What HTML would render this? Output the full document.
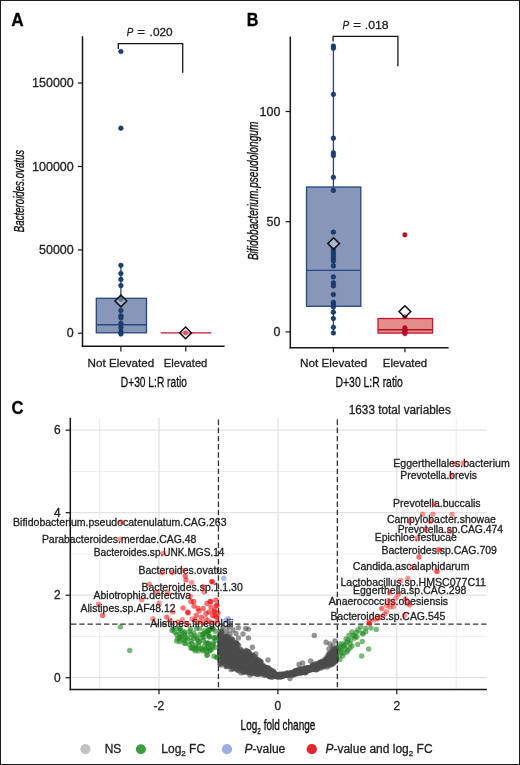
<!DOCTYPE html>
<html><head><meta charset="utf-8"><title>Figure</title>
<style>
html,body{margin:0;padding:0;background:#fff;}
svg{display:block;}
text{font-family:"Liberation Sans",sans-serif;}
svg{will-change:transform;}
</style></head><body>
<svg width="520" height="765" viewBox="0 0 520 765">
<rect x="0" y="0" width="520" height="765" fill="#fff"/>
<text x="11.20" y="26.30" font-size="18" font-weight="bold" font-style="normal" fill="#000" stroke="#000" stroke-width="0.3" textLength="12.44" lengthAdjust="spacingAndGlyphs" >A</text>
<text x="246.70" y="26.30" font-size="18" font-weight="bold" font-style="normal" fill="#000" stroke="#000" stroke-width="0.3" textLength="11.64" lengthAdjust="spacingAndGlyphs" >B</text>
<text x="11.50" y="413.60" font-size="18" font-weight="bold" font-style="normal" fill="#000" stroke="#000" stroke-width="0.3" textLength="12.04" lengthAdjust="spacingAndGlyphs" >C</text>
<line x1="82.50" y1="36.30" x2="82.50" y2="347.00" stroke="#161616" stroke-width="1.5" />
<line x1="81.80" y1="346.30" x2="224.60" y2="346.30" stroke="#161616" stroke-width="1.5" />
<line x1="77.90" y1="333.20" x2="82.50" y2="333.20" stroke="#161616" stroke-width="1.2" />
<text x="66.77" y="337.30" font-size="12" font-weight="normal" font-style="normal" fill="#222222" stroke="#222222" stroke-width="0.3" textLength="6.94" lengthAdjust="spacingAndGlyphs" >0</text>
<line x1="77.90" y1="249.90" x2="82.50" y2="249.90" stroke="#161616" stroke-width="1.2" />
<text x="39.01" y="254.00" font-size="12" font-weight="normal" font-style="normal" fill="#222222" stroke="#222222" stroke-width="0.3" textLength="34.71" lengthAdjust="spacingAndGlyphs" >50000</text>
<line x1="77.90" y1="166.50" x2="82.50" y2="166.50" stroke="#161616" stroke-width="1.2" />
<text x="32.08" y="170.60" font-size="12" font-weight="normal" font-style="normal" fill="#222222" stroke="#222222" stroke-width="0.3" textLength="41.65" lengthAdjust="spacingAndGlyphs" >100000</text>
<line x1="77.90" y1="83.10" x2="82.50" y2="83.10" stroke="#161616" stroke-width="1.2" />
<text x="32.08" y="87.20" font-size="12" font-weight="normal" font-style="normal" fill="#222222" stroke="#222222" stroke-width="0.3" textLength="41.65" lengthAdjust="spacingAndGlyphs" >150000</text>
<line x1="120.90" y1="346.30" x2="120.90" y2="351.60" stroke="#161616" stroke-width="1.2" />
<line x1="185.80" y1="346.30" x2="185.80" y2="351.60" stroke="#161616" stroke-width="1.2" />
<text x="87.60" y="367.00" font-size="11.7" font-weight="normal" font-style="normal" fill="#222222" stroke="#222222" stroke-width="0.3" textLength="66.71" lengthAdjust="spacingAndGlyphs" >Not Elevated</text>
<text x="163.80" y="367.00" font-size="11.7" font-weight="normal" font-style="normal" fill="#222222" stroke="#222222" stroke-width="0.3" textLength="43.52" lengthAdjust="spacingAndGlyphs" >Elevated</text>
<text x="120.80" y="387.40" font-size="14" font-weight="normal" font-style="normal" fill="#111" stroke="#111" stroke-width="0.3" textLength="66.21" lengthAdjust="spacingAndGlyphs" >D+30 L:R ratio</text>
<text transform="translate(24.30,232.20) rotate(-90)" x="0" y="0" font-size="14" font-style="italic" fill="#111" stroke="#111" stroke-width="0.35" textLength="82.40" lengthAdjust="spacingAndGlyphs">Bacteroides.ovatus</text>
<rect x="96.3" y="298.3" width="50.2" height="34.5" fill="#8796b9" stroke="#26477d" stroke-width="1.3"/>
<line x1="96.30" y1="324.80" x2="146.50" y2="324.80" stroke="#26477d" stroke-width="1.4" />
<line x1="120.90" y1="298.30" x2="120.90" y2="265.30" stroke="#26477d" stroke-width="1.3" />
<circle cx="120.9" cy="51.5" r="2.35" fill="#1c3f73" stroke="#0f2a52" stroke-width="0.5"/>
<circle cx="120.9" cy="128.2" r="2.35" fill="#1c3f73" stroke="#0f2a52" stroke-width="0.5"/>
<circle cx="120.9" cy="265.3" r="2.35" fill="#1c3f73" stroke="#0f2a52" stroke-width="0.5"/>
<circle cx="120.9" cy="273.5" r="2.35" fill="#1c3f73" stroke="#0f2a52" stroke-width="0.5"/>
<circle cx="120.9" cy="279.4" r="2.35" fill="#1c3f73" stroke="#0f2a52" stroke-width="0.5"/>
<circle cx="120.9" cy="285.6" r="2.35" fill="#1c3f73" stroke="#0f2a52" stroke-width="0.5"/>
<circle cx="120.9" cy="299.3" r="2.35" fill="#1c3f73" stroke="#0f2a52" stroke-width="0.5"/>
<circle cx="120.9" cy="310.5" r="2.35" fill="#1c3f73" stroke="#0f2a52" stroke-width="0.5"/>
<circle cx="120.9" cy="315.9" r="2.35" fill="#1c3f73" stroke="#0f2a52" stroke-width="0.5"/>
<circle cx="120.9" cy="318.0" r="2.35" fill="#1c3f73" stroke="#0f2a52" stroke-width="0.5"/>
<circle cx="120.9" cy="323.4" r="2.35" fill="#1c3f73" stroke="#0f2a52" stroke-width="0.5"/>
<circle cx="120.9" cy="327.7" r="2.35" fill="#1c3f73" stroke="#0f2a52" stroke-width="0.5"/>
<circle cx="120.9" cy="332.0" r="2.35" fill="#1c3f73" stroke="#0f2a52" stroke-width="0.5"/>
<circle cx="120.9" cy="334.0" r="2.35" fill="#1c3f73" stroke="#0f2a52" stroke-width="0.5"/>
<path d="M120.90,295.10 L126.80,301.00 L120.90,306.90 L115.00,301.00 Z" fill="rgba(255,255,255,0.3)" stroke="#111" stroke-width="1.5" stroke-linejoin="miter"/>
<line x1="160.60" y1="332.90" x2="211.40" y2="332.90" stroke="#c8173a" stroke-width="1.4" />
<circle cx="185.6" cy="332.9" r="2.35" fill="#c40f2c" stroke="#8a0a1e" stroke-width="0.4"/>
<path d="M185.60,327.00 L191.50,332.90 L185.60,338.80 L179.70,332.90 Z" fill="rgba(255,255,255,0.3)" stroke="#111" stroke-width="1.5" stroke-linejoin="miter"/>
<path d="M118.3,49.0 L118.3,43.6 L182.7,43.6 L182.7,72.8" fill="none" stroke="#161616" stroke-width="1.3"/>
<text x="126.80" y="35.90" font-size="11.5" font-weight="normal" font-style="italic" fill="#222222" stroke="#222222" stroke-width="0.3" textLength="6.52" lengthAdjust="spacingAndGlyphs" >P</text>
<text x="137.30" y="35.90" font-size="11.5" font-weight="normal" font-style="normal" fill="#222222" stroke="#222222" stroke-width="0.3" textLength="7.69" lengthAdjust="spacingAndGlyphs" >=</text>
<text x="149.60" y="35.90" font-size="11.5" font-weight="normal" font-style="normal" fill="#222222" stroke="#222222" stroke-width="0.3" textLength="23.02" lengthAdjust="spacingAndGlyphs" >.020</text>
<line x1="290.30" y1="36.40" x2="290.30" y2="348.40" stroke="#161616" stroke-width="1.5" />
<line x1="289.60" y1="347.70" x2="448.60" y2="347.70" stroke="#161616" stroke-width="1.5" />
<line x1="285.60" y1="331.90" x2="290.30" y2="331.90" stroke="#161616" stroke-width="1.2" />
<text x="273.47" y="336.00" font-size="12" font-weight="normal" font-style="normal" fill="#222222" stroke="#222222" stroke-width="0.3" textLength="6.94" lengthAdjust="spacingAndGlyphs" >0</text>
<line x1="285.60" y1="221.70" x2="290.30" y2="221.70" stroke="#161616" stroke-width="1.2" />
<text x="266.55" y="225.80" font-size="12" font-weight="normal" font-style="normal" fill="#222222" stroke="#222222" stroke-width="0.3" textLength="13.88" lengthAdjust="spacingAndGlyphs" >50</text>
<line x1="285.60" y1="111.50" x2="290.30" y2="111.50" stroke="#161616" stroke-width="1.2" />
<text x="259.56" y="115.60" font-size="12" font-weight="normal" font-style="normal" fill="#222222" stroke="#222222" stroke-width="0.3" textLength="20.82" lengthAdjust="spacingAndGlyphs" >100</text>
<line x1="333.40" y1="347.70" x2="333.40" y2="352.30" stroke="#161616" stroke-width="1.2" />
<line x1="404.90" y1="347.70" x2="404.90" y2="352.30" stroke="#161616" stroke-width="1.2" />
<text x="300.00" y="367.00" font-size="11.7" font-weight="normal" font-style="normal" fill="#222222" stroke="#222222" stroke-width="0.3" textLength="67.21" lengthAdjust="spacingAndGlyphs" >Not Elevated</text>
<text x="382.80" y="367.00" font-size="11.7" font-weight="normal" font-style="normal" fill="#222222" stroke="#222222" stroke-width="0.3" textLength="44.32" lengthAdjust="spacingAndGlyphs" >Elevated</text>
<text x="335.50" y="387.40" font-size="14" font-weight="normal" font-style="normal" fill="#111" stroke="#111" stroke-width="0.3" textLength="67.41" lengthAdjust="spacingAndGlyphs" >D+30 L:R ratio</text>
<text transform="translate(258.30,260.10) rotate(-90)" x="0" y="0" font-size="14" font-style="italic" fill="#111" stroke="#111" stroke-width="0.35" textLength="138.41" lengthAdjust="spacingAndGlyphs">Bifidobacterium.pseudolongum</text>
<rect x="306.5" y="187.0" width="54.3" height="119.3" fill="#8796b9" stroke="#26477d" stroke-width="1.3"/>
<line x1="306.50" y1="270.40" x2="360.80" y2="270.40" stroke="#26477d" stroke-width="1.4" />
<line x1="333.40" y1="187.00" x2="333.40" y2="46.00" stroke="#26477d" stroke-width="1.3" />
<line x1="333.40" y1="306.30" x2="333.40" y2="333.00" stroke="#26477d" stroke-width="1.3" />
<circle cx="333.4" cy="46.0" r="2.35" fill="#1c3f73" stroke="#0f2a52" stroke-width="0.5"/>
<circle cx="333.4" cy="48.2" r="2.35" fill="#1c3f73" stroke="#0f2a52" stroke-width="0.5"/>
<circle cx="333.4" cy="94.4" r="2.35" fill="#1c3f73" stroke="#0f2a52" stroke-width="0.5"/>
<circle cx="333.4" cy="138.2" r="2.35" fill="#1c3f73" stroke="#0f2a52" stroke-width="0.5"/>
<circle cx="333.4" cy="152.9" r="2.35" fill="#1c3f73" stroke="#0f2a52" stroke-width="0.5"/>
<circle cx="333.4" cy="155.6" r="2.35" fill="#1c3f73" stroke="#0f2a52" stroke-width="0.5"/>
<circle cx="333.4" cy="177.3" r="2.35" fill="#1c3f73" stroke="#0f2a52" stroke-width="0.5"/>
<circle cx="333.4" cy="190.4" r="2.35" fill="#1c3f73" stroke="#0f2a52" stroke-width="0.5"/>
<circle cx="333.4" cy="232.2" r="2.35" fill="#1c3f73" stroke="#0f2a52" stroke-width="0.5"/>
<circle cx="333.4" cy="249.8" r="2.35" fill="#1c3f73" stroke="#0f2a52" stroke-width="0.5"/>
<circle cx="333.4" cy="252.8" r="2.35" fill="#1c3f73" stroke="#0f2a52" stroke-width="0.5"/>
<circle cx="333.4" cy="255.8" r="2.35" fill="#1c3f73" stroke="#0f2a52" stroke-width="0.5"/>
<circle cx="333.4" cy="258.8" r="2.35" fill="#1c3f73" stroke="#0f2a52" stroke-width="0.5"/>
<circle cx="333.4" cy="261.1" r="2.35" fill="#1c3f73" stroke="#0f2a52" stroke-width="0.5"/>
<circle cx="333.4" cy="265.9" r="2.35" fill="#1c3f73" stroke="#0f2a52" stroke-width="0.5"/>
<circle cx="333.4" cy="276.9" r="2.35" fill="#1c3f73" stroke="#0f2a52" stroke-width="0.5"/>
<circle cx="333.4" cy="282.9" r="2.35" fill="#1c3f73" stroke="#0f2a52" stroke-width="0.5"/>
<circle cx="333.4" cy="285.9" r="2.35" fill="#1c3f73" stroke="#0f2a52" stroke-width="0.5"/>
<circle cx="333.4" cy="294.5" r="2.35" fill="#1c3f73" stroke="#0f2a52" stroke-width="0.5"/>
<circle cx="333.4" cy="302.4" r="2.35" fill="#1c3f73" stroke="#0f2a52" stroke-width="0.5"/>
<circle cx="333.4" cy="304.7" r="2.35" fill="#1c3f73" stroke="#0f2a52" stroke-width="0.5"/>
<circle cx="333.4" cy="307.0" r="2.35" fill="#1c3f73" stroke="#0f2a52" stroke-width="0.5"/>
<circle cx="333.4" cy="312.2" r="2.35" fill="#1c3f73" stroke="#0f2a52" stroke-width="0.5"/>
<circle cx="333.4" cy="318.5" r="2.35" fill="#1c3f73" stroke="#0f2a52" stroke-width="0.5"/>
<circle cx="333.4" cy="327.3" r="2.35" fill="#1c3f73" stroke="#0f2a52" stroke-width="0.5"/>
<circle cx="333.4" cy="333.0" r="2.35" fill="#1c3f73" stroke="#0f2a52" stroke-width="0.5"/>
<path d="M333.60,237.80 L339.40,243.60 L333.60,249.40 L327.80,243.60 Z" fill="rgba(255,255,255,0.3)" stroke="#111" stroke-width="1.5" stroke-linejoin="miter"/>
<rect x="378.0" y="318.5" width="54.6" height="14.6" fill="#e38c88" stroke="#c8173a" stroke-width="1.3"/>
<line x1="378.00" y1="329.70" x2="432.60" y2="329.70" stroke="#b3122b" stroke-width="1.4" />
<line x1="404.90" y1="318.50" x2="404.90" y2="316.50" stroke="#c8173a" stroke-width="1.2" />
<circle cx="404.9" cy="234.8" r="2.35" fill="#c40f2c" stroke="#8a0a1e" stroke-width="0.4"/>
<circle cx="404.9" cy="316.8" r="2.35" fill="#c40f2c" stroke="#8a0a1e" stroke-width="0.4"/>
<circle cx="404.9" cy="327.9" r="2.35" fill="#c40f2c" stroke="#8a0a1e" stroke-width="0.4"/>
<circle cx="404.9" cy="329.5" r="2.35" fill="#c40f2c" stroke="#8a0a1e" stroke-width="0.4"/>
<circle cx="404.9" cy="331.0" r="2.35" fill="#c40f2c" stroke="#8a0a1e" stroke-width="0.4"/>
<circle cx="404.9" cy="332.6" r="2.35" fill="#c40f2c" stroke="#8a0a1e" stroke-width="0.4"/>
<circle cx="404.9" cy="333.6" r="2.35" fill="#c40f2c" stroke="#8a0a1e" stroke-width="0.4"/>
<path d="M404.90,305.70 L410.80,311.60 L404.90,317.50 L399.00,311.60 Z" fill="rgba(255,255,255,0.3)" stroke="#111" stroke-width="1.5" stroke-linejoin="miter"/>
<path d="M333.1,41.6 L333.1,36.3 L397.9,36.3 L397.9,66.2" fill="none" stroke="#161616" stroke-width="1.3"/>
<text x="342.50" y="29.30" font-size="11.5" font-weight="normal" font-style="italic" fill="#222222" stroke="#222222" stroke-width="0.3" textLength="6.62" lengthAdjust="spacingAndGlyphs" >P</text>
<text x="353.30" y="29.30" font-size="11.5" font-weight="normal" font-style="normal" fill="#222222" stroke="#222222" stroke-width="0.3" textLength="7.69" lengthAdjust="spacingAndGlyphs" >=</text>
<text x="364.80" y="29.30" font-size="11.5" font-weight="normal" font-style="normal" fill="#222222" stroke="#222222" stroke-width="0.3" textLength="23.82" lengthAdjust="spacingAndGlyphs" >.018</text>
<line x1="99.55" y1="417.70" x2="99.55" y2="689.60" stroke="#ececec" stroke-width="0.9" />
<line x1="218.45" y1="417.70" x2="218.45" y2="689.60" stroke="#ececec" stroke-width="0.9" />
<line x1="337.35" y1="417.70" x2="337.35" y2="689.60" stroke="#ececec" stroke-width="0.9" />
<line x1="456.25" y1="417.70" x2="456.25" y2="689.60" stroke="#ececec" stroke-width="0.9" />
<line x1="70.30" y1="636.45" x2="486.90" y2="636.45" stroke="#ececec" stroke-width="0.9" />
<line x1="70.30" y1="553.95" x2="486.90" y2="553.95" stroke="#ececec" stroke-width="0.9" />
<line x1="70.30" y1="471.45" x2="486.90" y2="471.45" stroke="#ececec" stroke-width="0.9" />
<line x1="159.00" y1="417.70" x2="159.00" y2="689.60" stroke="#e2e2e2" stroke-width="1.3" />
<line x1="277.90" y1="417.70" x2="277.90" y2="689.60" stroke="#e2e2e2" stroke-width="1.3" />
<line x1="396.80" y1="417.70" x2="396.80" y2="689.60" stroke="#e2e2e2" stroke-width="1.3" />
<line x1="70.30" y1="677.70" x2="486.90" y2="677.70" stroke="#e2e2e2" stroke-width="1.3" />
<line x1="70.30" y1="595.20" x2="486.90" y2="595.20" stroke="#e2e2e2" stroke-width="1.3" />
<line x1="70.30" y1="512.70" x2="486.90" y2="512.70" stroke="#e2e2e2" stroke-width="1.3" />
<line x1="70.30" y1="430.20" x2="486.90" y2="430.20" stroke="#e2e2e2" stroke-width="1.3" />
<circle cx="257.6" cy="665.7" r="2.7" fill="#4d4d4d" fill-opacity="0.6"/>
<circle cx="226.4" cy="648.5" r="2.7" fill="#4d4d4d" fill-opacity="0.6"/>
<circle cx="224.0" cy="652.8" r="2.7" fill="#4d4d4d" fill-opacity="0.6"/>
<circle cx="234.1" cy="656.3" r="2.7" fill="#4d4d4d" fill-opacity="0.6"/>
<circle cx="334.2" cy="657.3" r="2.7" fill="#4d4d4d" fill-opacity="0.6"/>
<circle cx="236.5" cy="652.2" r="2.7" fill="#4d4d4d" fill-opacity="0.6"/>
<circle cx="240.8" cy="655.7" r="2.7" fill="#4d4d4d" fill-opacity="0.6"/>
<circle cx="283.9" cy="674.5" r="2.7" fill="#4d4d4d" fill-opacity="0.6"/>
<circle cx="226.6" cy="647.6" r="2.7" fill="#4d4d4d" fill-opacity="0.6"/>
<circle cx="248.3" cy="657.2" r="2.7" fill="#4d4d4d" fill-opacity="0.6"/>
<circle cx="334.7" cy="649.9" r="2.7" fill="#4d4d4d" fill-opacity="0.6"/>
<circle cx="237.4" cy="662.3" r="2.7" fill="#4d4d4d" fill-opacity="0.6"/>
<circle cx="224.2" cy="650.7" r="2.7" fill="#4d4d4d" fill-opacity="0.6"/>
<circle cx="226.7" cy="641.1" r="2.7" fill="#4d4d4d" fill-opacity="0.6"/>
<circle cx="222.2" cy="650.7" r="2.7" fill="#4d4d4d" fill-opacity="0.6"/>
<circle cx="226.5" cy="654.4" r="2.7" fill="#4d4d4d" fill-opacity="0.6"/>
<circle cx="234.8" cy="644.8" r="2.7" fill="#4d4d4d" fill-opacity="0.6"/>
<circle cx="229.1" cy="662.1" r="2.7" fill="#4d4d4d" fill-opacity="0.6"/>
<circle cx="252.3" cy="658.1" r="2.7" fill="#4d4d4d" fill-opacity="0.6"/>
<circle cx="332.0" cy="663.1" r="2.7" fill="#4d4d4d" fill-opacity="0.6"/>
<circle cx="240.3" cy="659.8" r="2.7" fill="#4d4d4d" fill-opacity="0.6"/>
<circle cx="220.1" cy="656.7" r="2.7" fill="#4d4d4d" fill-opacity="0.6"/>
<circle cx="299.0" cy="673.1" r="2.7" fill="#4d4d4d" fill-opacity="0.6"/>
<circle cx="231.8" cy="646.4" r="2.7" fill="#4d4d4d" fill-opacity="0.6"/>
<circle cx="226.9" cy="652.4" r="2.7" fill="#4d4d4d" fill-opacity="0.6"/>
<circle cx="259.5" cy="669.5" r="2.7" fill="#4d4d4d" fill-opacity="0.6"/>
<circle cx="219.6" cy="653.1" r="2.7" fill="#4d4d4d" fill-opacity="0.6"/>
<circle cx="222.6" cy="653.6" r="2.7" fill="#4d4d4d" fill-opacity="0.6"/>
<circle cx="291.7" cy="673.6" r="2.7" fill="#4d4d4d" fill-opacity="0.6"/>
<circle cx="262.4" cy="671.9" r="2.7" fill="#4d4d4d" fill-opacity="0.6"/>
<circle cx="229.7" cy="649.6" r="2.7" fill="#4d4d4d" fill-opacity="0.6"/>
<circle cx="316.9" cy="667.3" r="2.7" fill="#4d4d4d" fill-opacity="0.6"/>
<circle cx="281.6" cy="675.3" r="2.7" fill="#4d4d4d" fill-opacity="0.6"/>
<circle cx="250.3" cy="662.8" r="2.7" fill="#4d4d4d" fill-opacity="0.6"/>
<circle cx="258.3" cy="670.7" r="2.7" fill="#4d4d4d" fill-opacity="0.6"/>
<circle cx="246.2" cy="650.5" r="2.7" fill="#4d4d4d" fill-opacity="0.6"/>
<circle cx="261.3" cy="671.1" r="2.7" fill="#4d4d4d" fill-opacity="0.6"/>
<circle cx="331.9" cy="657.6" r="2.7" fill="#4d4d4d" fill-opacity="0.6"/>
<circle cx="331.7" cy="657.7" r="2.7" fill="#4d4d4d" fill-opacity="0.6"/>
<circle cx="242.7" cy="664.1" r="2.7" fill="#4d4d4d" fill-opacity="0.6"/>
<circle cx="229.6" cy="663.7" r="2.7" fill="#4d4d4d" fill-opacity="0.6"/>
<circle cx="333.7" cy="652.4" r="2.7" fill="#4d4d4d" fill-opacity="0.6"/>
<circle cx="304.7" cy="670.6" r="2.7" fill="#4d4d4d" fill-opacity="0.6"/>
<circle cx="235.0" cy="658.2" r="2.7" fill="#4d4d4d" fill-opacity="0.6"/>
<circle cx="316.6" cy="666.3" r="2.7" fill="#4d4d4d" fill-opacity="0.6"/>
<circle cx="247.8" cy="666.4" r="2.7" fill="#4d4d4d" fill-opacity="0.6"/>
<circle cx="250.0" cy="670.5" r="2.7" fill="#4d4d4d" fill-opacity="0.6"/>
<circle cx="281.1" cy="676.8" r="2.7" fill="#4d4d4d" fill-opacity="0.6"/>
<circle cx="271.3" cy="676.5" r="2.7" fill="#4d4d4d" fill-opacity="0.6"/>
<circle cx="239.8" cy="659.1" r="2.7" fill="#4d4d4d" fill-opacity="0.6"/>
<circle cx="232.1" cy="654.1" r="2.7" fill="#4d4d4d" fill-opacity="0.6"/>
<circle cx="330.2" cy="661.1" r="2.7" fill="#4d4d4d" fill-opacity="0.6"/>
<circle cx="318.2" cy="667.0" r="2.7" fill="#4d4d4d" fill-opacity="0.6"/>
<circle cx="228.1" cy="657.6" r="2.7" fill="#4d4d4d" fill-opacity="0.6"/>
<circle cx="228.2" cy="655.4" r="2.7" fill="#4d4d4d" fill-opacity="0.6"/>
<circle cx="297.1" cy="670.0" r="2.7" fill="#4d4d4d" fill-opacity="0.6"/>
<circle cx="238.6" cy="652.3" r="2.7" fill="#4d4d4d" fill-opacity="0.6"/>
<circle cx="242.6" cy="659.5" r="2.7" fill="#4d4d4d" fill-opacity="0.6"/>
<circle cx="304.4" cy="668.8" r="2.7" fill="#4d4d4d" fill-opacity="0.6"/>
<circle cx="221.7" cy="645.2" r="2.7" fill="#4d4d4d" fill-opacity="0.6"/>
<circle cx="231.9" cy="666.1" r="2.7" fill="#4d4d4d" fill-opacity="0.6"/>
<circle cx="251.4" cy="665.7" r="2.7" fill="#4d4d4d" fill-opacity="0.6"/>
<circle cx="315.7" cy="668.8" r="2.7" fill="#4d4d4d" fill-opacity="0.6"/>
<circle cx="230.1" cy="666.5" r="2.7" fill="#4d4d4d" fill-opacity="0.6"/>
<circle cx="251.0" cy="660.0" r="2.7" fill="#4d4d4d" fill-opacity="0.6"/>
<circle cx="232.4" cy="653.3" r="2.7" fill="#4d4d4d" fill-opacity="0.6"/>
<circle cx="225.5" cy="647.9" r="2.7" fill="#4d4d4d" fill-opacity="0.6"/>
<circle cx="278.3" cy="676.4" r="2.7" fill="#4d4d4d" fill-opacity="0.6"/>
<circle cx="260.3" cy="668.0" r="2.7" fill="#4d4d4d" fill-opacity="0.6"/>
<circle cx="241.8" cy="660.8" r="2.7" fill="#4d4d4d" fill-opacity="0.6"/>
<circle cx="329.3" cy="660.6" r="2.7" fill="#4d4d4d" fill-opacity="0.6"/>
<circle cx="226.0" cy="643.2" r="2.7" fill="#4d4d4d" fill-opacity="0.6"/>
<circle cx="227.9" cy="651.6" r="2.7" fill="#4d4d4d" fill-opacity="0.6"/>
<circle cx="252.7" cy="667.1" r="2.7" fill="#4d4d4d" fill-opacity="0.6"/>
<circle cx="254.0" cy="667.6" r="2.7" fill="#4d4d4d" fill-opacity="0.6"/>
<circle cx="255.9" cy="669.5" r="2.7" fill="#4d4d4d" fill-opacity="0.6"/>
<circle cx="219.7" cy="636.8" r="2.7" fill="#4d4d4d" fill-opacity="0.6"/>
<circle cx="243.2" cy="661.3" r="2.7" fill="#4d4d4d" fill-opacity="0.6"/>
<circle cx="220.2" cy="654.3" r="2.7" fill="#4d4d4d" fill-opacity="0.6"/>
<circle cx="224.5" cy="654.2" r="2.7" fill="#4d4d4d" fill-opacity="0.6"/>
<circle cx="255.3" cy="661.3" r="2.7" fill="#4d4d4d" fill-opacity="0.6"/>
<circle cx="265.3" cy="669.0" r="2.7" fill="#4d4d4d" fill-opacity="0.6"/>
<circle cx="335.2" cy="653.9" r="2.7" fill="#4d4d4d" fill-opacity="0.6"/>
<circle cx="224.7" cy="638.7" r="2.7" fill="#4d4d4d" fill-opacity="0.6"/>
<circle cx="236.0" cy="643.5" r="2.7" fill="#4d4d4d" fill-opacity="0.6"/>
<circle cx="246.6" cy="661.3" r="2.7" fill="#4d4d4d" fill-opacity="0.6"/>
<circle cx="235.2" cy="665.6" r="2.7" fill="#4d4d4d" fill-opacity="0.6"/>
<circle cx="277.0" cy="676.8" r="2.7" fill="#4d4d4d" fill-opacity="0.6"/>
<circle cx="297.0" cy="672.0" r="2.7" fill="#4d4d4d" fill-opacity="0.6"/>
<circle cx="228.3" cy="646.3" r="2.7" fill="#4d4d4d" fill-opacity="0.6"/>
<circle cx="305.2" cy="669.7" r="2.7" fill="#4d4d4d" fill-opacity="0.6"/>
<circle cx="295.1" cy="670.7" r="2.7" fill="#4d4d4d" fill-opacity="0.6"/>
<circle cx="236.9" cy="656.4" r="2.7" fill="#4d4d4d" fill-opacity="0.6"/>
<circle cx="286.3" cy="674.0" r="2.7" fill="#4d4d4d" fill-opacity="0.6"/>
<circle cx="226.7" cy="645.6" r="2.7" fill="#4d4d4d" fill-opacity="0.6"/>
<circle cx="274.3" cy="672.7" r="2.7" fill="#4d4d4d" fill-opacity="0.6"/>
<circle cx="324.5" cy="666.7" r="2.7" fill="#4d4d4d" fill-opacity="0.6"/>
<circle cx="221.7" cy="645.5" r="2.7" fill="#4d4d4d" fill-opacity="0.6"/>
<circle cx="272.4" cy="674.7" r="2.7" fill="#4d4d4d" fill-opacity="0.6"/>
<circle cx="244.3" cy="672.0" r="2.7" fill="#4d4d4d" fill-opacity="0.6"/>
<circle cx="236.2" cy="659.5" r="2.7" fill="#4d4d4d" fill-opacity="0.6"/>
<circle cx="276.7" cy="675.5" r="2.7" fill="#4d4d4d" fill-opacity="0.6"/>
<circle cx="220.0" cy="640.1" r="2.7" fill="#4d4d4d" fill-opacity="0.6"/>
<circle cx="236.1" cy="657.8" r="2.7" fill="#4d4d4d" fill-opacity="0.6"/>
<circle cx="219.8" cy="649.0" r="2.7" fill="#4d4d4d" fill-opacity="0.6"/>
<circle cx="325.4" cy="661.3" r="2.7" fill="#4d4d4d" fill-opacity="0.6"/>
<circle cx="251.9" cy="671.1" r="2.7" fill="#4d4d4d" fill-opacity="0.6"/>
<circle cx="248.9" cy="668.3" r="2.7" fill="#4d4d4d" fill-opacity="0.6"/>
<circle cx="279.6" cy="674.2" r="2.7" fill="#4d4d4d" fill-opacity="0.6"/>
<circle cx="304.1" cy="672.6" r="2.7" fill="#4d4d4d" fill-opacity="0.6"/>
<circle cx="253.2" cy="666.7" r="2.7" fill="#4d4d4d" fill-opacity="0.6"/>
<circle cx="334.2" cy="654.6" r="2.7" fill="#4d4d4d" fill-opacity="0.6"/>
<circle cx="239.2" cy="661.9" r="2.7" fill="#4d4d4d" fill-opacity="0.6"/>
<circle cx="272.4" cy="677.1" r="2.7" fill="#4d4d4d" fill-opacity="0.6"/>
<circle cx="242.2" cy="658.5" r="2.7" fill="#4d4d4d" fill-opacity="0.6"/>
<circle cx="247.7" cy="663.9" r="2.7" fill="#4d4d4d" fill-opacity="0.6"/>
<circle cx="263.8" cy="672.0" r="2.7" fill="#4d4d4d" fill-opacity="0.6"/>
<circle cx="333.2" cy="657.3" r="2.7" fill="#4d4d4d" fill-opacity="0.6"/>
<circle cx="320.9" cy="664.4" r="2.7" fill="#4d4d4d" fill-opacity="0.6"/>
<circle cx="322.1" cy="665.4" r="2.7" fill="#4d4d4d" fill-opacity="0.6"/>
<circle cx="223.4" cy="656.7" r="2.7" fill="#4d4d4d" fill-opacity="0.6"/>
<circle cx="288.5" cy="673.7" r="2.7" fill="#4d4d4d" fill-opacity="0.6"/>
<circle cx="333.7" cy="657.4" r="2.7" fill="#4d4d4d" fill-opacity="0.6"/>
<circle cx="224.2" cy="652.7" r="2.7" fill="#4d4d4d" fill-opacity="0.6"/>
<circle cx="234.6" cy="648.4" r="2.7" fill="#4d4d4d" fill-opacity="0.6"/>
<circle cx="232.8" cy="646.1" r="2.7" fill="#4d4d4d" fill-opacity="0.6"/>
<circle cx="265.2" cy="670.3" r="2.7" fill="#4d4d4d" fill-opacity="0.6"/>
<circle cx="255.0" cy="665.1" r="2.7" fill="#4d4d4d" fill-opacity="0.6"/>
<circle cx="247.2" cy="669.8" r="2.7" fill="#4d4d4d" fill-opacity="0.6"/>
<circle cx="255.7" cy="664.2" r="2.7" fill="#4d4d4d" fill-opacity="0.6"/>
<circle cx="268.9" cy="670.1" r="2.7" fill="#4d4d4d" fill-opacity="0.6"/>
<circle cx="246.2" cy="650.9" r="2.7" fill="#4d4d4d" fill-opacity="0.6"/>
<circle cx="259.3" cy="666.5" r="2.7" fill="#4d4d4d" fill-opacity="0.6"/>
<circle cx="333.5" cy="653.7" r="2.7" fill="#4d4d4d" fill-opacity="0.6"/>
<circle cx="315.9" cy="667.1" r="2.7" fill="#4d4d4d" fill-opacity="0.6"/>
<circle cx="277.8" cy="677.2" r="2.7" fill="#4d4d4d" fill-opacity="0.6"/>
<circle cx="245.8" cy="654.6" r="2.7" fill="#4d4d4d" fill-opacity="0.6"/>
<circle cx="236.8" cy="643.5" r="2.7" fill="#4d4d4d" fill-opacity="0.6"/>
<circle cx="236.3" cy="662.2" r="2.7" fill="#4d4d4d" fill-opacity="0.6"/>
<circle cx="329.0" cy="660.7" r="2.7" fill="#4d4d4d" fill-opacity="0.6"/>
<circle cx="307.2" cy="668.7" r="2.7" fill="#4d4d4d" fill-opacity="0.6"/>
<circle cx="263.5" cy="667.3" r="2.7" fill="#4d4d4d" fill-opacity="0.6"/>
<circle cx="239.5" cy="657.6" r="2.7" fill="#4d4d4d" fill-opacity="0.6"/>
<circle cx="331.8" cy="660.6" r="2.7" fill="#4d4d4d" fill-opacity="0.6"/>
<circle cx="332.8" cy="652.1" r="2.7" fill="#4d4d4d" fill-opacity="0.6"/>
<circle cx="225.4" cy="661.9" r="2.7" fill="#4d4d4d" fill-opacity="0.6"/>
<circle cx="242.3" cy="661.0" r="2.7" fill="#4d4d4d" fill-opacity="0.6"/>
<circle cx="309.6" cy="668.5" r="2.7" fill="#4d4d4d" fill-opacity="0.6"/>
<circle cx="223.7" cy="655.0" r="2.7" fill="#4d4d4d" fill-opacity="0.6"/>
<circle cx="259.4" cy="666.2" r="2.7" fill="#4d4d4d" fill-opacity="0.6"/>
<circle cx="256.8" cy="672.6" r="2.7" fill="#4d4d4d" fill-opacity="0.6"/>
<circle cx="330.3" cy="658.6" r="2.7" fill="#4d4d4d" fill-opacity="0.6"/>
<circle cx="247.1" cy="672.6" r="2.7" fill="#4d4d4d" fill-opacity="0.6"/>
<circle cx="265.0" cy="668.7" r="2.7" fill="#4d4d4d" fill-opacity="0.6"/>
<circle cx="328.6" cy="661.4" r="2.7" fill="#4d4d4d" fill-opacity="0.6"/>
<circle cx="257.1" cy="660.5" r="2.7" fill="#4d4d4d" fill-opacity="0.6"/>
<circle cx="311.4" cy="669.0" r="2.7" fill="#4d4d4d" fill-opacity="0.6"/>
<circle cx="248.6" cy="670.6" r="2.7" fill="#4d4d4d" fill-opacity="0.6"/>
<circle cx="223.6" cy="638.9" r="2.7" fill="#4d4d4d" fill-opacity="0.6"/>
<circle cx="250.7" cy="673.3" r="2.7" fill="#4d4d4d" fill-opacity="0.6"/>
<circle cx="230.9" cy="651.4" r="2.7" fill="#4d4d4d" fill-opacity="0.6"/>
<circle cx="247.1" cy="656.2" r="2.7" fill="#4d4d4d" fill-opacity="0.6"/>
<circle cx="297.6" cy="672.4" r="2.7" fill="#4d4d4d" fill-opacity="0.6"/>
<circle cx="306.2" cy="668.7" r="2.7" fill="#4d4d4d" fill-opacity="0.6"/>
<circle cx="248.6" cy="668.5" r="2.7" fill="#4d4d4d" fill-opacity="0.6"/>
<circle cx="335.9" cy="660.2" r="2.7" fill="#4d4d4d" fill-opacity="0.6"/>
<circle cx="224.3" cy="653.6" r="2.7" fill="#4d4d4d" fill-opacity="0.6"/>
<circle cx="330.6" cy="659.7" r="2.7" fill="#4d4d4d" fill-opacity="0.6"/>
<circle cx="245.2" cy="663.4" r="2.7" fill="#4d4d4d" fill-opacity="0.6"/>
<circle cx="296.1" cy="672.9" r="2.7" fill="#4d4d4d" fill-opacity="0.6"/>
<circle cx="220.9" cy="645.3" r="2.7" fill="#4d4d4d" fill-opacity="0.6"/>
<circle cx="256.3" cy="663.7" r="2.7" fill="#4d4d4d" fill-opacity="0.6"/>
<circle cx="227.0" cy="643.6" r="2.7" fill="#4d4d4d" fill-opacity="0.6"/>
<circle cx="294.6" cy="673.5" r="2.7" fill="#4d4d4d" fill-opacity="0.6"/>
<circle cx="238.8" cy="653.9" r="2.7" fill="#4d4d4d" fill-opacity="0.6"/>
<circle cx="262.3" cy="670.4" r="2.7" fill="#4d4d4d" fill-opacity="0.6"/>
<circle cx="305.1" cy="672.7" r="2.7" fill="#4d4d4d" fill-opacity="0.6"/>
<circle cx="273.7" cy="674.4" r="2.7" fill="#4d4d4d" fill-opacity="0.6"/>
<circle cx="221.3" cy="636.2" r="2.7" fill="#4d4d4d" fill-opacity="0.6"/>
<circle cx="230.1" cy="640.3" r="2.7" fill="#4d4d4d" fill-opacity="0.6"/>
<circle cx="236.7" cy="643.4" r="2.7" fill="#4d4d4d" fill-opacity="0.6"/>
<circle cx="232.4" cy="652.0" r="2.7" fill="#4d4d4d" fill-opacity="0.6"/>
<circle cx="242.8" cy="671.7" r="2.7" fill="#4d4d4d" fill-opacity="0.6"/>
<circle cx="276.3" cy="674.4" r="2.7" fill="#4d4d4d" fill-opacity="0.6"/>
<circle cx="316.4" cy="666.7" r="2.7" fill="#4d4d4d" fill-opacity="0.6"/>
<circle cx="316.9" cy="665.1" r="2.7" fill="#4d4d4d" fill-opacity="0.6"/>
<circle cx="245.2" cy="655.8" r="2.7" fill="#4d4d4d" fill-opacity="0.6"/>
<circle cx="234.0" cy="654.3" r="2.7" fill="#4d4d4d" fill-opacity="0.6"/>
<circle cx="224.4" cy="650.0" r="2.7" fill="#4d4d4d" fill-opacity="0.6"/>
<circle cx="318.0" cy="665.3" r="2.7" fill="#4d4d4d" fill-opacity="0.6"/>
<circle cx="222.3" cy="642.5" r="2.7" fill="#4d4d4d" fill-opacity="0.6"/>
<circle cx="273.4" cy="674.3" r="2.7" fill="#4d4d4d" fill-opacity="0.6"/>
<circle cx="275.2" cy="675.8" r="2.7" fill="#4d4d4d" fill-opacity="0.6"/>
<circle cx="230.4" cy="658.8" r="2.7" fill="#4d4d4d" fill-opacity="0.6"/>
<circle cx="279.5" cy="675.4" r="2.7" fill="#4d4d4d" fill-opacity="0.6"/>
<circle cx="279.6" cy="675.4" r="2.7" fill="#4d4d4d" fill-opacity="0.6"/>
<circle cx="331.2" cy="664.9" r="2.7" fill="#4d4d4d" fill-opacity="0.6"/>
<circle cx="327.1" cy="656.4" r="2.7" fill="#4d4d4d" fill-opacity="0.6"/>
<circle cx="227.3" cy="651.6" r="2.7" fill="#4d4d4d" fill-opacity="0.6"/>
<circle cx="324.9" cy="661.4" r="2.7" fill="#4d4d4d" fill-opacity="0.6"/>
<circle cx="315.4" cy="663.6" r="2.7" fill="#4d4d4d" fill-opacity="0.6"/>
<circle cx="244.1" cy="660.4" r="2.7" fill="#4d4d4d" fill-opacity="0.6"/>
<circle cx="223.9" cy="659.7" r="2.7" fill="#4d4d4d" fill-opacity="0.6"/>
<circle cx="233.1" cy="668.5" r="2.7" fill="#4d4d4d" fill-opacity="0.6"/>
<circle cx="271.5" cy="673.4" r="2.7" fill="#4d4d4d" fill-opacity="0.6"/>
<circle cx="315.8" cy="666.1" r="2.7" fill="#4d4d4d" fill-opacity="0.6"/>
<circle cx="256.3" cy="668.2" r="2.7" fill="#4d4d4d" fill-opacity="0.6"/>
<circle cx="235.1" cy="656.4" r="2.7" fill="#4d4d4d" fill-opacity="0.6"/>
<circle cx="296.3" cy="673.2" r="2.7" fill="#4d4d4d" fill-opacity="0.6"/>
<circle cx="232.1" cy="654.2" r="2.7" fill="#4d4d4d" fill-opacity="0.6"/>
<circle cx="245.9" cy="658.3" r="2.7" fill="#4d4d4d" fill-opacity="0.6"/>
<circle cx="248.2" cy="660.3" r="2.7" fill="#4d4d4d" fill-opacity="0.6"/>
<circle cx="230.8" cy="662.3" r="2.7" fill="#4d4d4d" fill-opacity="0.6"/>
<circle cx="266.8" cy="668.4" r="2.7" fill="#4d4d4d" fill-opacity="0.6"/>
<circle cx="220.9" cy="640.4" r="2.7" fill="#4d4d4d" fill-opacity="0.6"/>
<circle cx="224.8" cy="647.2" r="2.7" fill="#4d4d4d" fill-opacity="0.6"/>
<circle cx="267.3" cy="675.3" r="2.7" fill="#4d4d4d" fill-opacity="0.6"/>
<circle cx="221.0" cy="653.0" r="2.7" fill="#4d4d4d" fill-opacity="0.6"/>
<circle cx="330.1" cy="660.0" r="2.7" fill="#4d4d4d" fill-opacity="0.6"/>
<circle cx="315.1" cy="669.0" r="2.7" fill="#4d4d4d" fill-opacity="0.6"/>
<circle cx="255.9" cy="673.8" r="2.7" fill="#4d4d4d" fill-opacity="0.6"/>
<circle cx="220.3" cy="652.5" r="2.7" fill="#4d4d4d" fill-opacity="0.6"/>
<circle cx="246.1" cy="661.6" r="2.7" fill="#4d4d4d" fill-opacity="0.6"/>
<circle cx="332.9" cy="657.4" r="2.7" fill="#4d4d4d" fill-opacity="0.6"/>
<circle cx="322.9" cy="663.7" r="2.7" fill="#4d4d4d" fill-opacity="0.6"/>
<circle cx="244.5" cy="664.8" r="2.7" fill="#4d4d4d" fill-opacity="0.6"/>
<circle cx="236.6" cy="668.1" r="2.7" fill="#4d4d4d" fill-opacity="0.6"/>
<circle cx="260.1" cy="672.6" r="2.7" fill="#4d4d4d" fill-opacity="0.6"/>
<circle cx="223.0" cy="644.9" r="2.7" fill="#4d4d4d" fill-opacity="0.6"/>
<circle cx="227.3" cy="641.3" r="2.7" fill="#4d4d4d" fill-opacity="0.6"/>
<circle cx="232.2" cy="655.5" r="2.7" fill="#4d4d4d" fill-opacity="0.6"/>
<circle cx="231.3" cy="654.9" r="2.7" fill="#4d4d4d" fill-opacity="0.6"/>
<circle cx="308.5" cy="668.4" r="2.7" fill="#4d4d4d" fill-opacity="0.6"/>
<circle cx="222.1" cy="656.6" r="2.7" fill="#4d4d4d" fill-opacity="0.6"/>
<circle cx="262.8" cy="672.8" r="2.7" fill="#4d4d4d" fill-opacity="0.6"/>
<circle cx="223.2" cy="647.0" r="2.7" fill="#4d4d4d" fill-opacity="0.6"/>
<circle cx="320.8" cy="665.1" r="2.7" fill="#4d4d4d" fill-opacity="0.6"/>
<circle cx="219.8" cy="642.0" r="2.7" fill="#4d4d4d" fill-opacity="0.6"/>
<circle cx="220.1" cy="631.9" r="2.7" fill="#4d4d4d" fill-opacity="0.6"/>
<circle cx="241.3" cy="660.1" r="2.7" fill="#4d4d4d" fill-opacity="0.6"/>
<circle cx="252.9" cy="662.8" r="2.7" fill="#4d4d4d" fill-opacity="0.6"/>
<circle cx="232.5" cy="646.3" r="2.7" fill="#4d4d4d" fill-opacity="0.6"/>
<circle cx="229.1" cy="648.1" r="2.7" fill="#4d4d4d" fill-opacity="0.6"/>
<circle cx="324.1" cy="659.9" r="2.7" fill="#4d4d4d" fill-opacity="0.6"/>
<circle cx="323.9" cy="663.6" r="2.7" fill="#4d4d4d" fill-opacity="0.6"/>
<circle cx="247.0" cy="665.7" r="2.7" fill="#4d4d4d" fill-opacity="0.6"/>
<circle cx="260.5" cy="671.6" r="2.7" fill="#4d4d4d" fill-opacity="0.6"/>
<circle cx="239.5" cy="668.3" r="2.7" fill="#4d4d4d" fill-opacity="0.6"/>
<circle cx="234.4" cy="659.0" r="2.7" fill="#4d4d4d" fill-opacity="0.6"/>
<circle cx="242.1" cy="657.0" r="2.7" fill="#4d4d4d" fill-opacity="0.6"/>
<circle cx="237.7" cy="657.4" r="2.7" fill="#4d4d4d" fill-opacity="0.6"/>
<circle cx="280.9" cy="676.3" r="2.7" fill="#4d4d4d" fill-opacity="0.6"/>
<circle cx="258.1" cy="672.5" r="2.7" fill="#4d4d4d" fill-opacity="0.6"/>
<circle cx="231.5" cy="651.9" r="2.7" fill="#4d4d4d" fill-opacity="0.6"/>
<circle cx="242.6" cy="663.1" r="2.7" fill="#4d4d4d" fill-opacity="0.6"/>
<circle cx="265.2" cy="671.7" r="2.7" fill="#4d4d4d" fill-opacity="0.6"/>
<circle cx="236.2" cy="647.3" r="2.7" fill="#4d4d4d" fill-opacity="0.6"/>
<circle cx="269.0" cy="674.3" r="2.7" fill="#4d4d4d" fill-opacity="0.6"/>
<circle cx="231.1" cy="655.9" r="2.7" fill="#4d4d4d" fill-opacity="0.6"/>
<circle cx="241.1" cy="650.3" r="2.7" fill="#4d4d4d" fill-opacity="0.6"/>
<circle cx="224.1" cy="657.2" r="2.7" fill="#4d4d4d" fill-opacity="0.6"/>
<circle cx="231.5" cy="664.5" r="2.7" fill="#4d4d4d" fill-opacity="0.6"/>
<circle cx="261.3" cy="668.1" r="2.7" fill="#4d4d4d" fill-opacity="0.6"/>
<circle cx="221.2" cy="656.3" r="2.7" fill="#4d4d4d" fill-opacity="0.6"/>
<circle cx="260.9" cy="669.2" r="2.7" fill="#4d4d4d" fill-opacity="0.6"/>
<circle cx="265.6" cy="674.9" r="2.7" fill="#4d4d4d" fill-opacity="0.6"/>
<circle cx="284.0" cy="675.5" r="2.7" fill="#4d4d4d" fill-opacity="0.6"/>
<circle cx="319.5" cy="663.8" r="2.7" fill="#4d4d4d" fill-opacity="0.6"/>
<circle cx="263.8" cy="668.2" r="2.7" fill="#4d4d4d" fill-opacity="0.6"/>
<circle cx="219.9" cy="649.3" r="2.7" fill="#4d4d4d" fill-opacity="0.6"/>
<circle cx="252.6" cy="662.6" r="2.7" fill="#4d4d4d" fill-opacity="0.6"/>
<circle cx="226.3" cy="659.3" r="2.7" fill="#4d4d4d" fill-opacity="0.6"/>
<circle cx="293.9" cy="674.7" r="2.7" fill="#4d4d4d" fill-opacity="0.6"/>
<circle cx="231.5" cy="655.1" r="2.7" fill="#4d4d4d" fill-opacity="0.6"/>
<circle cx="260.3" cy="672.8" r="2.7" fill="#4d4d4d" fill-opacity="0.6"/>
<circle cx="247.1" cy="656.5" r="2.7" fill="#4d4d4d" fill-opacity="0.6"/>
<circle cx="277.5" cy="675.2" r="2.7" fill="#4d4d4d" fill-opacity="0.6"/>
<circle cx="220.4" cy="648.2" r="2.7" fill="#4d4d4d" fill-opacity="0.6"/>
<circle cx="332.4" cy="653.2" r="2.7" fill="#4d4d4d" fill-opacity="0.6"/>
<circle cx="222.9" cy="640.1" r="2.7" fill="#4d4d4d" fill-opacity="0.6"/>
<circle cx="325.0" cy="661.9" r="2.7" fill="#4d4d4d" fill-opacity="0.6"/>
<circle cx="244.3" cy="653.2" r="2.7" fill="#4d4d4d" fill-opacity="0.6"/>
<circle cx="258.4" cy="665.5" r="2.7" fill="#4d4d4d" fill-opacity="0.6"/>
<circle cx="224.3" cy="660.0" r="2.7" fill="#4d4d4d" fill-opacity="0.6"/>
<circle cx="225.4" cy="655.5" r="2.7" fill="#4d4d4d" fill-opacity="0.6"/>
<circle cx="299.5" cy="671.4" r="2.7" fill="#4d4d4d" fill-opacity="0.6"/>
<circle cx="309.1" cy="669.1" r="2.7" fill="#4d4d4d" fill-opacity="0.6"/>
<circle cx="255.1" cy="666.5" r="2.7" fill="#4d4d4d" fill-opacity="0.6"/>
<circle cx="257.0" cy="660.8" r="2.7" fill="#4d4d4d" fill-opacity="0.6"/>
<circle cx="226.0" cy="636.7" r="2.7" fill="#4d4d4d" fill-opacity="0.6"/>
<circle cx="224.2" cy="653.7" r="2.7" fill="#4d4d4d" fill-opacity="0.6"/>
<circle cx="221.3" cy="637.6" r="2.7" fill="#4d4d4d" fill-opacity="0.6"/>
<circle cx="268.0" cy="671.1" r="2.7" fill="#4d4d4d" fill-opacity="0.6"/>
<circle cx="237.4" cy="653.6" r="2.7" fill="#4d4d4d" fill-opacity="0.6"/>
<circle cx="220.2" cy="663.0" r="2.7" fill="#4d4d4d" fill-opacity="0.6"/>
<circle cx="234.7" cy="667.5" r="2.7" fill="#4d4d4d" fill-opacity="0.6"/>
<circle cx="305.7" cy="672.1" r="2.7" fill="#4d4d4d" fill-opacity="0.6"/>
<circle cx="305.3" cy="670.7" r="2.7" fill="#4d4d4d" fill-opacity="0.6"/>
<circle cx="303.8" cy="672.2" r="2.7" fill="#4d4d4d" fill-opacity="0.6"/>
<circle cx="315.6" cy="667.0" r="2.7" fill="#4d4d4d" fill-opacity="0.6"/>
<circle cx="276.7" cy="674.8" r="2.7" fill="#4d4d4d" fill-opacity="0.6"/>
<circle cx="219.8" cy="654.9" r="2.7" fill="#4d4d4d" fill-opacity="0.6"/>
<circle cx="224.6" cy="656.0" r="2.7" fill="#4d4d4d" fill-opacity="0.6"/>
<circle cx="260.3" cy="661.9" r="2.7" fill="#4d4d4d" fill-opacity="0.6"/>
<circle cx="329.0" cy="656.4" r="2.7" fill="#4d4d4d" fill-opacity="0.6"/>
<circle cx="274.2" cy="673.2" r="2.7" fill="#4d4d4d" fill-opacity="0.6"/>
<circle cx="229.9" cy="653.6" r="2.7" fill="#4d4d4d" fill-opacity="0.6"/>
<circle cx="241.8" cy="655.5" r="2.7" fill="#4d4d4d" fill-opacity="0.6"/>
<circle cx="237.1" cy="663.0" r="2.7" fill="#4d4d4d" fill-opacity="0.6"/>
<circle cx="232.1" cy="653.9" r="2.7" fill="#4d4d4d" fill-opacity="0.6"/>
<circle cx="312.0" cy="666.8" r="2.7" fill="#4d4d4d" fill-opacity="0.6"/>
<circle cx="280.6" cy="675.1" r="2.7" fill="#4d4d4d" fill-opacity="0.6"/>
<circle cx="249.4" cy="663.7" r="2.7" fill="#4d4d4d" fill-opacity="0.6"/>
<circle cx="229.4" cy="657.1" r="2.7" fill="#4d4d4d" fill-opacity="0.6"/>
<circle cx="326.4" cy="659.7" r="2.7" fill="#4d4d4d" fill-opacity="0.6"/>
<circle cx="249.8" cy="660.0" r="2.7" fill="#4d4d4d" fill-opacity="0.6"/>
<circle cx="272.2" cy="677.1" r="2.7" fill="#4d4d4d" fill-opacity="0.6"/>
<circle cx="245.6" cy="657.7" r="2.7" fill="#4d4d4d" fill-opacity="0.6"/>
<circle cx="249.6" cy="671.8" r="2.7" fill="#4d4d4d" fill-opacity="0.6"/>
<circle cx="317.9" cy="663.8" r="2.7" fill="#4d4d4d" fill-opacity="0.6"/>
<circle cx="226.1" cy="651.4" r="2.7" fill="#4d4d4d" fill-opacity="0.6"/>
<circle cx="232.0" cy="639.3" r="2.7" fill="#4d4d4d" fill-opacity="0.6"/>
<circle cx="249.8" cy="659.8" r="2.7" fill="#4d4d4d" fill-opacity="0.6"/>
<circle cx="247.6" cy="662.3" r="2.7" fill="#4d4d4d" fill-opacity="0.6"/>
<circle cx="299.2" cy="671.3" r="2.7" fill="#4d4d4d" fill-opacity="0.6"/>
<circle cx="236.0" cy="651.8" r="2.7" fill="#4d4d4d" fill-opacity="0.6"/>
<circle cx="293.3" cy="673.2" r="2.7" fill="#4d4d4d" fill-opacity="0.6"/>
<circle cx="250.9" cy="665.1" r="2.7" fill="#4d4d4d" fill-opacity="0.6"/>
<circle cx="237.9" cy="660.4" r="2.7" fill="#4d4d4d" fill-opacity="0.6"/>
<circle cx="239.3" cy="653.8" r="2.7" fill="#4d4d4d" fill-opacity="0.6"/>
<circle cx="298.1" cy="670.9" r="2.7" fill="#4d4d4d" fill-opacity="0.6"/>
<circle cx="249.9" cy="663.5" r="2.7" fill="#4d4d4d" fill-opacity="0.6"/>
<circle cx="231.1" cy="655.5" r="2.7" fill="#4d4d4d" fill-opacity="0.6"/>
<circle cx="334.5" cy="654.5" r="2.7" fill="#4d4d4d" fill-opacity="0.6"/>
<circle cx="236.1" cy="660.0" r="2.7" fill="#4d4d4d" fill-opacity="0.6"/>
<circle cx="241.4" cy="653.4" r="2.7" fill="#4d4d4d" fill-opacity="0.6"/>
<circle cx="326.7" cy="660.3" r="2.7" fill="#4d4d4d" fill-opacity="0.6"/>
<circle cx="303.1" cy="670.2" r="2.7" fill="#4d4d4d" fill-opacity="0.6"/>
<circle cx="228.9" cy="645.5" r="2.7" fill="#4d4d4d" fill-opacity="0.6"/>
<circle cx="251.8" cy="660.4" r="2.7" fill="#4d4d4d" fill-opacity="0.6"/>
<circle cx="243.3" cy="659.7" r="2.7" fill="#4d4d4d" fill-opacity="0.6"/>
<circle cx="304.3" cy="668.8" r="2.7" fill="#4d4d4d" fill-opacity="0.6"/>
<circle cx="277.5" cy="676.6" r="2.7" fill="#4d4d4d" fill-opacity="0.6"/>
<circle cx="322.0" cy="663.1" r="2.7" fill="#4d4d4d" fill-opacity="0.6"/>
<circle cx="262.7" cy="666.5" r="2.7" fill="#4d4d4d" fill-opacity="0.6"/>
<circle cx="220.1" cy="655.3" r="2.7" fill="#4d4d4d" fill-opacity="0.6"/>
<circle cx="233.8" cy="660.5" r="2.7" fill="#4d4d4d" fill-opacity="0.6"/>
<circle cx="282.7" cy="674.0" r="2.7" fill="#4d4d4d" fill-opacity="0.6"/>
<circle cx="333.2" cy="656.9" r="2.7" fill="#4d4d4d" fill-opacity="0.6"/>
<circle cx="223.1" cy="652.6" r="2.7" fill="#4d4d4d" fill-opacity="0.6"/>
<circle cx="301.7" cy="672.5" r="2.7" fill="#4d4d4d" fill-opacity="0.6"/>
<circle cx="302.1" cy="670.9" r="2.7" fill="#4d4d4d" fill-opacity="0.6"/>
<circle cx="224.9" cy="640.7" r="2.7" fill="#4d4d4d" fill-opacity="0.6"/>
<circle cx="252.4" cy="664.4" r="2.7" fill="#4d4d4d" fill-opacity="0.6"/>
<circle cx="267.2" cy="667.8" r="2.7" fill="#4d4d4d" fill-opacity="0.6"/>
<circle cx="236.9" cy="649.7" r="2.7" fill="#4d4d4d" fill-opacity="0.6"/>
<circle cx="307.2" cy="671.0" r="2.7" fill="#4d4d4d" fill-opacity="0.6"/>
<circle cx="247.8" cy="651.4" r="2.7" fill="#4d4d4d" fill-opacity="0.6"/>
<circle cx="225.9" cy="666.6" r="2.7" fill="#4d4d4d" fill-opacity="0.6"/>
<circle cx="248.9" cy="659.3" r="2.7" fill="#4d4d4d" fill-opacity="0.6"/>
<circle cx="281.9" cy="674.7" r="2.7" fill="#4d4d4d" fill-opacity="0.6"/>
<circle cx="222.0" cy="652.6" r="2.7" fill="#4d4d4d" fill-opacity="0.6"/>
<circle cx="323.5" cy="662.6" r="2.7" fill="#4d4d4d" fill-opacity="0.6"/>
<circle cx="331.2" cy="655.5" r="2.7" fill="#4d4d4d" fill-opacity="0.6"/>
<circle cx="233.7" cy="662.9" r="2.7" fill="#4d4d4d" fill-opacity="0.6"/>
<circle cx="251.1" cy="662.0" r="2.7" fill="#4d4d4d" fill-opacity="0.6"/>
<circle cx="282.3" cy="675.7" r="2.7" fill="#4d4d4d" fill-opacity="0.6"/>
<circle cx="254.1" cy="666.6" r="2.7" fill="#4d4d4d" fill-opacity="0.6"/>
<circle cx="253.4" cy="669.5" r="2.7" fill="#4d4d4d" fill-opacity="0.6"/>
<circle cx="256.1" cy="668.5" r="2.7" fill="#4d4d4d" fill-opacity="0.6"/>
<circle cx="245.6" cy="655.9" r="2.7" fill="#4d4d4d" fill-opacity="0.6"/>
<circle cx="221.0" cy="655.2" r="2.7" fill="#4d4d4d" fill-opacity="0.6"/>
<circle cx="320.8" cy="662.8" r="2.7" fill="#4d4d4d" fill-opacity="0.6"/>
<circle cx="238.2" cy="655.1" r="2.7" fill="#4d4d4d" fill-opacity="0.6"/>
<circle cx="226.9" cy="639.5" r="2.7" fill="#4d4d4d" fill-opacity="0.6"/>
<circle cx="232.4" cy="658.5" r="2.7" fill="#4d4d4d" fill-opacity="0.6"/>
<circle cx="237.7" cy="651.6" r="2.7" fill="#4d4d4d" fill-opacity="0.6"/>
<circle cx="327.0" cy="663.9" r="2.7" fill="#4d4d4d" fill-opacity="0.6"/>
<circle cx="321.8" cy="664.4" r="2.7" fill="#4d4d4d" fill-opacity="0.6"/>
<circle cx="264.7" cy="666.8" r="2.7" fill="#4d4d4d" fill-opacity="0.6"/>
<circle cx="241.2" cy="664.2" r="2.7" fill="#4d4d4d" fill-opacity="0.6"/>
<circle cx="287.9" cy="675.1" r="2.7" fill="#4d4d4d" fill-opacity="0.6"/>
<circle cx="327.6" cy="663.2" r="2.7" fill="#4d4d4d" fill-opacity="0.6"/>
<circle cx="332.2" cy="650.9" r="2.7" fill="#4d4d4d" fill-opacity="0.6"/>
<circle cx="220.9" cy="638.5" r="2.7" fill="#4d4d4d" fill-opacity="0.6"/>
<circle cx="231.2" cy="650.2" r="2.7" fill="#4d4d4d" fill-opacity="0.6"/>
<circle cx="336.5" cy="647.6" r="2.7" fill="#4d4d4d" fill-opacity="0.6"/>
<circle cx="239.6" cy="656.6" r="2.7" fill="#4d4d4d" fill-opacity="0.6"/>
<circle cx="279.8" cy="676.6" r="2.7" fill="#4d4d4d" fill-opacity="0.6"/>
<circle cx="238.0" cy="651.6" r="2.7" fill="#4d4d4d" fill-opacity="0.6"/>
<circle cx="241.7" cy="654.3" r="2.7" fill="#4d4d4d" fill-opacity="0.6"/>
<circle cx="294.3" cy="672.0" r="2.7" fill="#4d4d4d" fill-opacity="0.6"/>
<circle cx="220.1" cy="653.1" r="2.7" fill="#4d4d4d" fill-opacity="0.6"/>
<circle cx="298.0" cy="670.6" r="2.7" fill="#4d4d4d" fill-opacity="0.6"/>
<circle cx="233.9" cy="655.1" r="2.7" fill="#4d4d4d" fill-opacity="0.6"/>
<circle cx="231.4" cy="650.2" r="2.7" fill="#4d4d4d" fill-opacity="0.6"/>
<circle cx="226.9" cy="652.1" r="2.7" fill="#4d4d4d" fill-opacity="0.6"/>
<circle cx="239.5" cy="653.3" r="2.7" fill="#4d4d4d" fill-opacity="0.6"/>
<circle cx="248.9" cy="671.7" r="2.7" fill="#4d4d4d" fill-opacity="0.6"/>
<circle cx="248.1" cy="657.8" r="2.7" fill="#4d4d4d" fill-opacity="0.6"/>
<circle cx="303.9" cy="669.3" r="2.7" fill="#4d4d4d" fill-opacity="0.6"/>
<circle cx="248.2" cy="672.1" r="2.7" fill="#4d4d4d" fill-opacity="0.6"/>
<circle cx="261.7" cy="671.3" r="2.7" fill="#4d4d4d" fill-opacity="0.6"/>
<circle cx="285.5" cy="674.7" r="2.7" fill="#4d4d4d" fill-opacity="0.6"/>
<circle cx="266.9" cy="674.6" r="2.7" fill="#4d4d4d" fill-opacity="0.6"/>
<circle cx="260.8" cy="672.5" r="2.7" fill="#4d4d4d" fill-opacity="0.6"/>
<circle cx="242.0" cy="659.9" r="2.7" fill="#4d4d4d" fill-opacity="0.6"/>
<circle cx="237.9" cy="659.1" r="2.7" fill="#4d4d4d" fill-opacity="0.6"/>
<circle cx="230.5" cy="655.2" r="2.7" fill="#4d4d4d" fill-opacity="0.6"/>
<circle cx="314.1" cy="666.6" r="2.7" fill="#4d4d4d" fill-opacity="0.6"/>
<circle cx="272.7" cy="673.6" r="2.7" fill="#4d4d4d" fill-opacity="0.6"/>
<circle cx="262.8" cy="667.1" r="2.7" fill="#4d4d4d" fill-opacity="0.6"/>
<circle cx="322.0" cy="662.0" r="2.7" fill="#4d4d4d" fill-opacity="0.6"/>
<circle cx="265.4" cy="670.4" r="2.7" fill="#4d4d4d" fill-opacity="0.6"/>
<circle cx="232.4" cy="648.8" r="2.7" fill="#4d4d4d" fill-opacity="0.6"/>
<circle cx="254.5" cy="669.0" r="2.7" fill="#4d4d4d" fill-opacity="0.6"/>
<circle cx="256.1" cy="670.3" r="2.7" fill="#4d4d4d" fill-opacity="0.6"/>
<circle cx="252.7" cy="669.5" r="2.7" fill="#4d4d4d" fill-opacity="0.6"/>
<circle cx="235.1" cy="665.5" r="2.7" fill="#4d4d4d" fill-opacity="0.6"/>
<circle cx="293.4" cy="673.3" r="2.7" fill="#4d4d4d" fill-opacity="0.6"/>
<circle cx="224.3" cy="652.6" r="2.7" fill="#4d4d4d" fill-opacity="0.6"/>
<circle cx="255.2" cy="667.8" r="2.7" fill="#4d4d4d" fill-opacity="0.6"/>
<circle cx="224.2" cy="646.5" r="2.7" fill="#4d4d4d" fill-opacity="0.6"/>
<circle cx="260.6" cy="666.6" r="2.7" fill="#4d4d4d" fill-opacity="0.6"/>
<circle cx="253.2" cy="668.3" r="2.7" fill="#4d4d4d" fill-opacity="0.6"/>
<circle cx="225.2" cy="641.7" r="2.7" fill="#4d4d4d" fill-opacity="0.6"/>
<circle cx="307.6" cy="668.9" r="2.7" fill="#4d4d4d" fill-opacity="0.6"/>
<circle cx="252.6" cy="660.0" r="2.7" fill="#4d4d4d" fill-opacity="0.6"/>
<circle cx="330.7" cy="662.8" r="2.7" fill="#4d4d4d" fill-opacity="0.6"/>
<circle cx="226.0" cy="645.7" r="2.7" fill="#4d4d4d" fill-opacity="0.6"/>
<circle cx="328.6" cy="660.1" r="2.7" fill="#4d4d4d" fill-opacity="0.6"/>
<circle cx="250.3" cy="661.7" r="2.7" fill="#4d4d4d" fill-opacity="0.6"/>
<circle cx="226.6" cy="646.7" r="2.7" fill="#4d4d4d" fill-opacity="0.6"/>
<circle cx="256.1" cy="667.3" r="2.7" fill="#4d4d4d" fill-opacity="0.6"/>
<circle cx="247.5" cy="656.3" r="2.7" fill="#4d4d4d" fill-opacity="0.6"/>
<circle cx="329.5" cy="658.9" r="2.7" fill="#4d4d4d" fill-opacity="0.6"/>
<circle cx="236.3" cy="650.2" r="2.7" fill="#4d4d4d" fill-opacity="0.6"/>
<circle cx="239.5" cy="668.3" r="2.7" fill="#4d4d4d" fill-opacity="0.6"/>
<circle cx="233.0" cy="651.5" r="2.7" fill="#4d4d4d" fill-opacity="0.6"/>
<circle cx="226.7" cy="655.2" r="2.7" fill="#4d4d4d" fill-opacity="0.6"/>
<circle cx="272.2" cy="672.8" r="2.7" fill="#4d4d4d" fill-opacity="0.6"/>
<circle cx="262.2" cy="672.1" r="2.7" fill="#4d4d4d" fill-opacity="0.6"/>
<circle cx="228.0" cy="664.5" r="2.7" fill="#4d4d4d" fill-opacity="0.6"/>
<circle cx="229.5" cy="652.0" r="2.7" fill="#4d4d4d" fill-opacity="0.6"/>
<circle cx="232.4" cy="649.9" r="2.7" fill="#4d4d4d" fill-opacity="0.6"/>
<circle cx="283.4" cy="675.4" r="2.7" fill="#4d4d4d" fill-opacity="0.6"/>
<circle cx="248.5" cy="671.2" r="2.7" fill="#4d4d4d" fill-opacity="0.6"/>
<circle cx="241.4" cy="661.3" r="2.7" fill="#4d4d4d" fill-opacity="0.6"/>
<circle cx="258.0" cy="668.2" r="2.7" fill="#4d4d4d" fill-opacity="0.6"/>
<circle cx="247.7" cy="657.9" r="2.7" fill="#4d4d4d" fill-opacity="0.6"/>
<circle cx="238.1" cy="655.3" r="2.7" fill="#4d4d4d" fill-opacity="0.6"/>
<circle cx="300.4" cy="670.9" r="2.7" fill="#4d4d4d" fill-opacity="0.6"/>
<circle cx="230.1" cy="648.5" r="2.7" fill="#4d4d4d" fill-opacity="0.6"/>
<circle cx="304.5" cy="670.5" r="2.7" fill="#4d4d4d" fill-opacity="0.6"/>
<circle cx="325.7" cy="661.3" r="2.7" fill="#4d4d4d" fill-opacity="0.6"/>
<circle cx="242.5" cy="665.9" r="2.7" fill="#4d4d4d" fill-opacity="0.6"/>
<circle cx="257.6" cy="674.0" r="2.7" fill="#4d4d4d" fill-opacity="0.6"/>
<circle cx="314.8" cy="666.4" r="2.7" fill="#4d4d4d" fill-opacity="0.6"/>
<circle cx="222.9" cy="645.1" r="2.7" fill="#4d4d4d" fill-opacity="0.6"/>
<circle cx="229.6" cy="645.4" r="2.7" fill="#4d4d4d" fill-opacity="0.6"/>
<circle cx="233.0" cy="661.3" r="2.7" fill="#4d4d4d" fill-opacity="0.6"/>
<circle cx="249.4" cy="658.6" r="2.7" fill="#4d4d4d" fill-opacity="0.6"/>
<circle cx="246.2" cy="666.3" r="2.7" fill="#4d4d4d" fill-opacity="0.6"/>
<circle cx="288.7" cy="674.8" r="2.7" fill="#4d4d4d" fill-opacity="0.6"/>
<circle cx="267.5" cy="667.6" r="2.7" fill="#4d4d4d" fill-opacity="0.6"/>
<circle cx="308.5" cy="670.2" r="2.7" fill="#4d4d4d" fill-opacity="0.6"/>
<circle cx="265.6" cy="674.0" r="2.7" fill="#4d4d4d" fill-opacity="0.6"/>
<circle cx="310.6" cy="667.9" r="2.7" fill="#4d4d4d" fill-opacity="0.6"/>
<circle cx="310.7" cy="668.5" r="2.7" fill="#4d4d4d" fill-opacity="0.6"/>
<circle cx="221.4" cy="656.2" r="2.7" fill="#4d4d4d" fill-opacity="0.6"/>
<circle cx="244.6" cy="659.3" r="2.7" fill="#4d4d4d" fill-opacity="0.6"/>
<circle cx="234.0" cy="648.0" r="2.7" fill="#4d4d4d" fill-opacity="0.6"/>
<circle cx="304.3" cy="669.7" r="2.7" fill="#4d4d4d" fill-opacity="0.6"/>
<circle cx="242.3" cy="658.3" r="2.7" fill="#4d4d4d" fill-opacity="0.6"/>
<circle cx="232.9" cy="664.2" r="2.7" fill="#4d4d4d" fill-opacity="0.6"/>
<circle cx="241.4" cy="666.3" r="2.7" fill="#4d4d4d" fill-opacity="0.6"/>
<circle cx="264.3" cy="672.6" r="2.7" fill="#4d4d4d" fill-opacity="0.6"/>
<circle cx="331.0" cy="654.9" r="2.7" fill="#4d4d4d" fill-opacity="0.6"/>
<circle cx="259.8" cy="660.9" r="2.7" fill="#4d4d4d" fill-opacity="0.6"/>
<circle cx="313.6" cy="667.4" r="2.7" fill="#4d4d4d" fill-opacity="0.6"/>
<circle cx="275.5" cy="675.7" r="2.7" fill="#4d4d4d" fill-opacity="0.6"/>
<circle cx="228.5" cy="645.9" r="2.7" fill="#4d4d4d" fill-opacity="0.6"/>
<circle cx="288.8" cy="674.5" r="2.7" fill="#4d4d4d" fill-opacity="0.6"/>
<circle cx="265.1" cy="672.7" r="2.7" fill="#4d4d4d" fill-opacity="0.6"/>
<circle cx="220.3" cy="646.3" r="2.7" fill="#4d4d4d" fill-opacity="0.6"/>
<circle cx="224.9" cy="651.5" r="2.7" fill="#4d4d4d" fill-opacity="0.6"/>
<circle cx="251.7" cy="663.4" r="2.7" fill="#4d4d4d" fill-opacity="0.6"/>
<circle cx="336.1" cy="658.6" r="2.7" fill="#4d4d4d" fill-opacity="0.6"/>
<circle cx="262.2" cy="670.8" r="2.7" fill="#4d4d4d" fill-opacity="0.6"/>
<circle cx="226.7" cy="636.1" r="2.7" fill="#4d4d4d" fill-opacity="0.6"/>
<circle cx="248.2" cy="660.5" r="2.7" fill="#4d4d4d" fill-opacity="0.6"/>
<circle cx="220.4" cy="651.0" r="2.7" fill="#4d4d4d" fill-opacity="0.6"/>
<circle cx="239.4" cy="656.9" r="2.7" fill="#4d4d4d" fill-opacity="0.6"/>
<circle cx="329.7" cy="661.5" r="2.7" fill="#4d4d4d" fill-opacity="0.6"/>
<circle cx="229.0" cy="637.1" r="2.7" fill="#4d4d4d" fill-opacity="0.6"/>
<circle cx="227.6" cy="640.6" r="2.7" fill="#4d4d4d" fill-opacity="0.6"/>
<circle cx="325.2" cy="662.3" r="2.7" fill="#4d4d4d" fill-opacity="0.6"/>
<circle cx="238.9" cy="659.5" r="2.7" fill="#4d4d4d" fill-opacity="0.6"/>
<circle cx="302.3" cy="670.0" r="2.7" fill="#4d4d4d" fill-opacity="0.6"/>
<circle cx="295.7" cy="672.8" r="2.7" fill="#4d4d4d" fill-opacity="0.6"/>
<circle cx="290.2" cy="674.4" r="2.7" fill="#4d4d4d" fill-opacity="0.6"/>
<circle cx="259.7" cy="661.2" r="2.7" fill="#4d4d4d" fill-opacity="0.6"/>
<circle cx="241.7" cy="665.6" r="2.7" fill="#4d4d4d" fill-opacity="0.6"/>
<circle cx="327.9" cy="658.1" r="2.7" fill="#4d4d4d" fill-opacity="0.6"/>
<circle cx="226.3" cy="661.4" r="2.7" fill="#4d4d4d" fill-opacity="0.6"/>
<circle cx="274.0" cy="675.0" r="2.7" fill="#4d4d4d" fill-opacity="0.6"/>
<circle cx="335.5" cy="650.2" r="2.7" fill="#4d4d4d" fill-opacity="0.6"/>
<circle cx="258.2" cy="663.1" r="2.7" fill="#4d4d4d" fill-opacity="0.6"/>
<circle cx="237.9" cy="657.7" r="2.7" fill="#4d4d4d" fill-opacity="0.6"/>
<circle cx="235.1" cy="652.7" r="2.7" fill="#4d4d4d" fill-opacity="0.6"/>
<circle cx="335.8" cy="654.4" r="2.7" fill="#4d4d4d" fill-opacity="0.6"/>
<circle cx="222.9" cy="645.4" r="2.7" fill="#4d4d4d" fill-opacity="0.6"/>
<circle cx="226.7" cy="646.5" r="2.7" fill="#4d4d4d" fill-opacity="0.6"/>
<circle cx="329.9" cy="658.2" r="2.7" fill="#4d4d4d" fill-opacity="0.6"/>
<circle cx="237.1" cy="655.7" r="2.7" fill="#4d4d4d" fill-opacity="0.6"/>
<circle cx="238.6" cy="645.4" r="2.7" fill="#4d4d4d" fill-opacity="0.6"/>
<circle cx="310.9" cy="670.1" r="2.7" fill="#4d4d4d" fill-opacity="0.6"/>
<circle cx="232.3" cy="653.2" r="2.7" fill="#4d4d4d" fill-opacity="0.6"/>
<circle cx="227.3" cy="638.9" r="2.7" fill="#4d4d4d" fill-opacity="0.6"/>
<circle cx="226.6" cy="660.0" r="2.7" fill="#4d4d4d" fill-opacity="0.6"/>
<circle cx="245.9" cy="660.9" r="2.7" fill="#4d4d4d" fill-opacity="0.6"/>
<circle cx="246.8" cy="667.3" r="2.7" fill="#4d4d4d" fill-opacity="0.6"/>
<circle cx="245.0" cy="667.0" r="2.7" fill="#4d4d4d" fill-opacity="0.6"/>
<circle cx="321.7" cy="667.1" r="2.7" fill="#4d4d4d" fill-opacity="0.6"/>
<circle cx="252.8" cy="655.1" r="2.7" fill="#4d4d4d" fill-opacity="0.6"/>
<circle cx="238.6" cy="659.1" r="2.7" fill="#4d4d4d" fill-opacity="0.6"/>
<circle cx="321.0" cy="668.0" r="2.7" fill="#4d4d4d" fill-opacity="0.6"/>
<circle cx="254.5" cy="656.6" r="2.7" fill="#4d4d4d" fill-opacity="0.6"/>
<circle cx="220.7" cy="655.5" r="2.7" fill="#4d4d4d" fill-opacity="0.6"/>
<circle cx="231.1" cy="663.3" r="2.7" fill="#4d4d4d" fill-opacity="0.6"/>
<circle cx="299.8" cy="669.9" r="2.7" fill="#4d4d4d" fill-opacity="0.6"/>
<circle cx="334.6" cy="662.0" r="2.7" fill="#4d4d4d" fill-opacity="0.6"/>
<circle cx="300.5" cy="670.2" r="2.7" fill="#4d4d4d" fill-opacity="0.6"/>
<circle cx="270.1" cy="672.8" r="2.7" fill="#4d4d4d" fill-opacity="0.6"/>
<circle cx="233.7" cy="659.7" r="2.7" fill="#4d4d4d" fill-opacity="0.6"/>
<circle cx="278.4" cy="676.4" r="2.7" fill="#4d4d4d" fill-opacity="0.6"/>
<circle cx="251.6" cy="663.7" r="2.7" fill="#4d4d4d" fill-opacity="0.6"/>
<circle cx="224.7" cy="653.0" r="2.7" fill="#4d4d4d" fill-opacity="0.6"/>
<circle cx="262.2" cy="667.3" r="2.7" fill="#4d4d4d" fill-opacity="0.6"/>
<circle cx="266.5" cy="668.0" r="2.7" fill="#4d4d4d" fill-opacity="0.6"/>
<circle cx="267.7" cy="672.1" r="2.7" fill="#4d4d4d" fill-opacity="0.6"/>
<circle cx="263.9" cy="669.9" r="2.7" fill="#4d4d4d" fill-opacity="0.6"/>
<circle cx="242.9" cy="665.6" r="2.7" fill="#4d4d4d" fill-opacity="0.6"/>
<circle cx="326.3" cy="658.4" r="2.7" fill="#4d4d4d" fill-opacity="0.6"/>
<circle cx="219.7" cy="652.8" r="2.7" fill="#4d4d4d" fill-opacity="0.6"/>
<circle cx="245.8" cy="656.2" r="2.7" fill="#4d4d4d" fill-opacity="0.6"/>
<circle cx="245.6" cy="667.2" r="2.7" fill="#4d4d4d" fill-opacity="0.6"/>
<circle cx="315.1" cy="666.1" r="2.7" fill="#4d4d4d" fill-opacity="0.6"/>
<circle cx="321.5" cy="662.0" r="2.7" fill="#4d4d4d" fill-opacity="0.6"/>
<circle cx="315.6" cy="668.8" r="2.7" fill="#4d4d4d" fill-opacity="0.6"/>
<circle cx="237.7" cy="662.0" r="2.7" fill="#4d4d4d" fill-opacity="0.6"/>
<circle cx="272.8" cy="674.8" r="2.7" fill="#4d4d4d" fill-opacity="0.6"/>
<circle cx="308.7" cy="668.4" r="2.7" fill="#4d4d4d" fill-opacity="0.6"/>
<circle cx="263.1" cy="667.0" r="2.7" fill="#4d4d4d" fill-opacity="0.6"/>
<circle cx="264.3" cy="671.3" r="2.7" fill="#4d4d4d" fill-opacity="0.6"/>
<circle cx="226.4" cy="660.6" r="2.7" fill="#4d4d4d" fill-opacity="0.6"/>
<circle cx="257.6" cy="667.4" r="2.7" fill="#4d4d4d" fill-opacity="0.6"/>
<circle cx="243.3" cy="658.2" r="2.7" fill="#4d4d4d" fill-opacity="0.6"/>
<circle cx="263.2" cy="667.0" r="2.7" fill="#4d4d4d" fill-opacity="0.6"/>
<circle cx="328.2" cy="661.2" r="2.7" fill="#4d4d4d" fill-opacity="0.6"/>
<circle cx="258.3" cy="667.0" r="2.7" fill="#4d4d4d" fill-opacity="0.6"/>
<circle cx="222.6" cy="640.7" r="2.7" fill="#4d4d4d" fill-opacity="0.6"/>
<circle cx="266.8" cy="670.1" r="2.7" fill="#4d4d4d" fill-opacity="0.6"/>
<circle cx="233.5" cy="646.7" r="2.7" fill="#4d4d4d" fill-opacity="0.6"/>
<circle cx="228.7" cy="654.8" r="2.7" fill="#4d4d4d" fill-opacity="0.6"/>
<circle cx="226.1" cy="652.8" r="2.7" fill="#4d4d4d" fill-opacity="0.6"/>
<circle cx="226.0" cy="641.8" r="2.7" fill="#4d4d4d" fill-opacity="0.6"/>
<circle cx="322.0" cy="665.3" r="2.7" fill="#4d4d4d" fill-opacity="0.6"/>
<circle cx="251.8" cy="662.5" r="2.7" fill="#4d4d4d" fill-opacity="0.6"/>
<circle cx="225.6" cy="656.1" r="2.7" fill="#4d4d4d" fill-opacity="0.6"/>
<circle cx="320.2" cy="665.1" r="2.7" fill="#4d4d4d" fill-opacity="0.6"/>
<circle cx="313.7" cy="667.9" r="2.7" fill="#4d4d4d" fill-opacity="0.6"/>
<circle cx="225.6" cy="642.7" r="2.7" fill="#4d4d4d" fill-opacity="0.6"/>
<circle cx="226.4" cy="649.3" r="2.7" fill="#4d4d4d" fill-opacity="0.6"/>
<circle cx="294.7" cy="673.0" r="2.7" fill="#4d4d4d" fill-opacity="0.6"/>
<circle cx="289.6" cy="673.8" r="2.7" fill="#4d4d4d" fill-opacity="0.6"/>
<circle cx="254.2" cy="666.4" r="2.7" fill="#4d4d4d" fill-opacity="0.6"/>
<circle cx="327.4" cy="659.8" r="2.7" fill="#4d4d4d" fill-opacity="0.6"/>
<circle cx="231.4" cy="657.5" r="2.7" fill="#4d4d4d" fill-opacity="0.6"/>
<circle cx="300.1" cy="668.8" r="2.7" fill="#4d4d4d" fill-opacity="0.6"/>
<circle cx="226.3" cy="665.1" r="2.7" fill="#4d4d4d" fill-opacity="0.6"/>
<circle cx="254.1" cy="667.2" r="2.7" fill="#4d4d4d" fill-opacity="0.6"/>
<circle cx="285.4" cy="675.4" r="2.7" fill="#4d4d4d" fill-opacity="0.6"/>
<circle cx="318.4" cy="664.9" r="2.7" fill="#4d4d4d" fill-opacity="0.6"/>
<circle cx="265.6" cy="668.1" r="2.7" fill="#4d4d4d" fill-opacity="0.6"/>
<circle cx="245.8" cy="666.6" r="2.7" fill="#4d4d4d" fill-opacity="0.6"/>
<circle cx="230.6" cy="652.2" r="2.7" fill="#4d4d4d" fill-opacity="0.6"/>
<circle cx="299.3" cy="670.2" r="2.7" fill="#4d4d4d" fill-opacity="0.6"/>
<circle cx="316.9" cy="669.6" r="2.7" fill="#4d4d4d" fill-opacity="0.6"/>
<circle cx="253.7" cy="658.1" r="2.7" fill="#4d4d4d" fill-opacity="0.6"/>
<circle cx="328.8" cy="654.5" r="2.7" fill="#4d4d4d" fill-opacity="0.6"/>
<circle cx="230.0" cy="654.4" r="2.7" fill="#4d4d4d" fill-opacity="0.6"/>
<circle cx="318.9" cy="665.8" r="2.7" fill="#4d4d4d" fill-opacity="0.6"/>
<circle cx="296.7" cy="672.1" r="2.7" fill="#4d4d4d" fill-opacity="0.6"/>
<circle cx="254.6" cy="663.5" r="2.7" fill="#4d4d4d" fill-opacity="0.6"/>
<circle cx="223.6" cy="648.0" r="2.7" fill="#4d4d4d" fill-opacity="0.6"/>
<circle cx="231.0" cy="660.0" r="2.7" fill="#4d4d4d" fill-opacity="0.6"/>
<circle cx="261.0" cy="671.5" r="2.7" fill="#4d4d4d" fill-opacity="0.6"/>
<circle cx="297.5" cy="673.2" r="2.7" fill="#4d4d4d" fill-opacity="0.6"/>
<circle cx="237.1" cy="669.8" r="2.7" fill="#4d4d4d" fill-opacity="0.6"/>
<circle cx="322.8" cy="661.7" r="2.7" fill="#4d4d4d" fill-opacity="0.6"/>
<circle cx="233.4" cy="654.9" r="2.7" fill="#4d4d4d" fill-opacity="0.6"/>
<circle cx="238.9" cy="652.3" r="2.7" fill="#4d4d4d" fill-opacity="0.6"/>
<circle cx="242.8" cy="659.9" r="2.7" fill="#4d4d4d" fill-opacity="0.6"/>
<circle cx="243.5" cy="661.1" r="2.7" fill="#4d4d4d" fill-opacity="0.6"/>
<circle cx="237.6" cy="670.0" r="2.7" fill="#4d4d4d" fill-opacity="0.6"/>
<circle cx="223.2" cy="642.4" r="2.7" fill="#4d4d4d" fill-opacity="0.6"/>
<circle cx="324.1" cy="662.8" r="2.7" fill="#4d4d4d" fill-opacity="0.6"/>
<circle cx="303.0" cy="670.5" r="2.7" fill="#4d4d4d" fill-opacity="0.6"/>
<circle cx="335.0" cy="659.7" r="2.7" fill="#4d4d4d" fill-opacity="0.6"/>
<circle cx="327.7" cy="663.0" r="2.7" fill="#4d4d4d" fill-opacity="0.6"/>
<circle cx="267.4" cy="670.8" r="2.7" fill="#4d4d4d" fill-opacity="0.6"/>
<circle cx="299.3" cy="671.1" r="2.7" fill="#4d4d4d" fill-opacity="0.6"/>
<circle cx="242.9" cy="662.7" r="2.7" fill="#4d4d4d" fill-opacity="0.6"/>
<circle cx="243.0" cy="665.8" r="2.7" fill="#4d4d4d" fill-opacity="0.6"/>
<circle cx="230.4" cy="642.4" r="2.7" fill="#4d4d4d" fill-opacity="0.6"/>
<circle cx="260.6" cy="672.9" r="2.7" fill="#4d4d4d" fill-opacity="0.6"/>
<circle cx="307.1" cy="669.0" r="2.7" fill="#4d4d4d" fill-opacity="0.6"/>
<circle cx="330.7" cy="663.9" r="2.7" fill="#4d4d4d" fill-opacity="0.6"/>
<circle cx="246.8" cy="659.8" r="2.7" fill="#4d4d4d" fill-opacity="0.6"/>
<circle cx="273.4" cy="671.0" r="2.7" fill="#4d4d4d" fill-opacity="0.6"/>
<circle cx="267.3" cy="671.9" r="2.7" fill="#4d4d4d" fill-opacity="0.6"/>
<circle cx="220.1" cy="651.1" r="2.7" fill="#4d4d4d" fill-opacity="0.6"/>
<circle cx="259.0" cy="667.4" r="2.7" fill="#4d4d4d" fill-opacity="0.6"/>
<circle cx="229.9" cy="650.5" r="2.7" fill="#4d4d4d" fill-opacity="0.6"/>
<circle cx="233.8" cy="647.8" r="2.7" fill="#4d4d4d" fill-opacity="0.6"/>
<circle cx="224.5" cy="652.5" r="2.7" fill="#4d4d4d" fill-opacity="0.6"/>
<circle cx="332.0" cy="659.7" r="2.7" fill="#4d4d4d" fill-opacity="0.6"/>
<circle cx="335.7" cy="655.4" r="2.7" fill="#4d4d4d" fill-opacity="0.6"/>
<circle cx="281.5" cy="675.1" r="2.7" fill="#4d4d4d" fill-opacity="0.6"/>
<circle cx="249.0" cy="667.8" r="2.7" fill="#4d4d4d" fill-opacity="0.6"/>
<circle cx="228.5" cy="657.8" r="2.7" fill="#4d4d4d" fill-opacity="0.6"/>
<circle cx="226.3" cy="646.9" r="2.7" fill="#4d4d4d" fill-opacity="0.6"/>
<circle cx="307.6" cy="667.7" r="2.7" fill="#4d4d4d" fill-opacity="0.6"/>
<circle cx="257.8" cy="674.0" r="2.7" fill="#4d4d4d" fill-opacity="0.6"/>
<circle cx="236.6" cy="652.5" r="2.7" fill="#4d4d4d" fill-opacity="0.6"/>
<circle cx="287.3" cy="673.4" r="2.7" fill="#4d4d4d" fill-opacity="0.6"/>
<circle cx="252.2" cy="668.9" r="2.7" fill="#4d4d4d" fill-opacity="0.6"/>
<circle cx="236.0" cy="658.8" r="2.7" fill="#4d4d4d" fill-opacity="0.6"/>
<circle cx="306.3" cy="669.1" r="2.7" fill="#4d4d4d" fill-opacity="0.6"/>
<circle cx="256.2" cy="664.8" r="2.7" fill="#4d4d4d" fill-opacity="0.6"/>
<circle cx="241.6" cy="665.1" r="2.7" fill="#4d4d4d" fill-opacity="0.6"/>
<circle cx="330.4" cy="656.9" r="2.7" fill="#4d4d4d" fill-opacity="0.6"/>
<circle cx="232.3" cy="661.1" r="2.7" fill="#4d4d4d" fill-opacity="0.6"/>
<circle cx="332.7" cy="658.8" r="2.7" fill="#4d4d4d" fill-opacity="0.6"/>
<circle cx="256.6" cy="674.0" r="2.7" fill="#4d4d4d" fill-opacity="0.6"/>
<circle cx="310.2" cy="669.5" r="2.7" fill="#4d4d4d" fill-opacity="0.6"/>
<circle cx="250.8" cy="657.8" r="2.7" fill="#4d4d4d" fill-opacity="0.6"/>
<circle cx="227.8" cy="652.0" r="2.7" fill="#4d4d4d" fill-opacity="0.6"/>
<circle cx="232.7" cy="643.7" r="2.7" fill="#4d4d4d" fill-opacity="0.6"/>
<circle cx="259.7" cy="668.7" r="2.7" fill="#4d4d4d" fill-opacity="0.6"/>
<circle cx="235.3" cy="649.8" r="2.7" fill="#4d4d4d" fill-opacity="0.6"/>
<circle cx="227.3" cy="636.5" r="2.7" fill="#4d4d4d" fill-opacity="0.6"/>
<circle cx="237.3" cy="656.8" r="2.7" fill="#4d4d4d" fill-opacity="0.6"/>
<circle cx="235.0" cy="652.9" r="2.7" fill="#4d4d4d" fill-opacity="0.6"/>
<circle cx="251.9" cy="657.8" r="2.7" fill="#4d4d4d" fill-opacity="0.6"/>
<circle cx="251.7" cy="664.2" r="2.7" fill="#4d4d4d" fill-opacity="0.6"/>
<circle cx="301.7" cy="671.4" r="2.7" fill="#4d4d4d" fill-opacity="0.6"/>
<circle cx="220.0" cy="651.3" r="2.7" fill="#4d4d4d" fill-opacity="0.6"/>
<circle cx="226.5" cy="655.8" r="2.7" fill="#4d4d4d" fill-opacity="0.6"/>
<circle cx="224.2" cy="654.2" r="2.7" fill="#4d4d4d" fill-opacity="0.6"/>
<circle cx="223.2" cy="652.9" r="2.7" fill="#4d4d4d" fill-opacity="0.6"/>
<circle cx="222.9" cy="646.4" r="2.7" fill="#4d4d4d" fill-opacity="0.6"/>
<circle cx="332.5" cy="657.3" r="2.7" fill="#4d4d4d" fill-opacity="0.6"/>
<circle cx="335.4" cy="652.7" r="2.7" fill="#4d4d4d" fill-opacity="0.6"/>
<circle cx="259.7" cy="667.9" r="2.7" fill="#4d4d4d" fill-opacity="0.6"/>
<circle cx="266.9" cy="672.8" r="2.7" fill="#4d4d4d" fill-opacity="0.6"/>
<circle cx="242.7" cy="668.8" r="2.7" fill="#4d4d4d" fill-opacity="0.6"/>
<circle cx="227.0" cy="666.6" r="2.7" fill="#4d4d4d" fill-opacity="0.6"/>
<circle cx="250.6" cy="664.1" r="2.7" fill="#4d4d4d" fill-opacity="0.6"/>
<circle cx="238.8" cy="663.4" r="2.7" fill="#4d4d4d" fill-opacity="0.6"/>
<circle cx="224.8" cy="649.7" r="2.7" fill="#4d4d4d" fill-opacity="0.6"/>
<circle cx="231.6" cy="661.0" r="2.7" fill="#4d4d4d" fill-opacity="0.6"/>
<circle cx="234.7" cy="665.0" r="2.7" fill="#4d4d4d" fill-opacity="0.6"/>
<circle cx="244.2" cy="671.9" r="2.7" fill="#4d4d4d" fill-opacity="0.6"/>
<circle cx="334.7" cy="656.1" r="2.7" fill="#4d4d4d" fill-opacity="0.6"/>
<circle cx="235.3" cy="657.6" r="2.7" fill="#4d4d4d" fill-opacity="0.6"/>
<circle cx="264.1" cy="673.7" r="2.7" fill="#4d4d4d" fill-opacity="0.6"/>
<circle cx="274.0" cy="675.8" r="2.7" fill="#4d4d4d" fill-opacity="0.6"/>
<circle cx="227.9" cy="645.8" r="2.7" fill="#4d4d4d" fill-opacity="0.6"/>
<circle cx="243.8" cy="665.1" r="2.7" fill="#4d4d4d" fill-opacity="0.6"/>
<circle cx="231.8" cy="649.9" r="2.7" fill="#4d4d4d" fill-opacity="0.6"/>
<circle cx="234.4" cy="646.5" r="2.7" fill="#4d4d4d" fill-opacity="0.6"/>
<circle cx="271.2" cy="673.9" r="2.7" fill="#4d4d4d" fill-opacity="0.6"/>
<circle cx="304.7" cy="668.8" r="2.7" fill="#4d4d4d" fill-opacity="0.6"/>
<circle cx="289.9" cy="674.1" r="2.7" fill="#4d4d4d" fill-opacity="0.6"/>
<circle cx="246.5" cy="663.9" r="2.7" fill="#4d4d4d" fill-opacity="0.6"/>
<circle cx="224.1" cy="635.0" r="2.7" fill="#4d4d4d" fill-opacity="0.6"/>
<circle cx="224.1" cy="650.8" r="2.7" fill="#4d4d4d" fill-opacity="0.6"/>
<circle cx="327.5" cy="665.6" r="2.7" fill="#4d4d4d" fill-opacity="0.6"/>
<circle cx="237.6" cy="657.3" r="2.7" fill="#4d4d4d" fill-opacity="0.6"/>
<circle cx="238.7" cy="655.1" r="2.7" fill="#4d4d4d" fill-opacity="0.6"/>
<circle cx="232.0" cy="666.3" r="2.7" fill="#4d4d4d" fill-opacity="0.6"/>
<circle cx="219.9" cy="634.7" r="2.7" fill="#4d4d4d" fill-opacity="0.6"/>
<circle cx="228.7" cy="646.2" r="2.7" fill="#4d4d4d" fill-opacity="0.6"/>
<circle cx="266.2" cy="670.5" r="2.7" fill="#4d4d4d" fill-opacity="0.6"/>
<circle cx="307.1" cy="670.7" r="2.7" fill="#4d4d4d" fill-opacity="0.6"/>
<circle cx="273.4" cy="671.7" r="2.7" fill="#4d4d4d" fill-opacity="0.6"/>
<circle cx="270.0" cy="675.2" r="2.7" fill="#4d4d4d" fill-opacity="0.6"/>
<circle cx="261.0" cy="667.8" r="2.7" fill="#4d4d4d" fill-opacity="0.6"/>
<circle cx="319.2" cy="664.3" r="2.7" fill="#4d4d4d" fill-opacity="0.6"/>
<circle cx="309.1" cy="669.8" r="2.7" fill="#4d4d4d" fill-opacity="0.6"/>
<circle cx="309.9" cy="669.3" r="2.7" fill="#4d4d4d" fill-opacity="0.6"/>
<circle cx="303.7" cy="670.6" r="2.7" fill="#4d4d4d" fill-opacity="0.6"/>
<circle cx="249.3" cy="660.0" r="2.7" fill="#4d4d4d" fill-opacity="0.6"/>
<circle cx="230.7" cy="658.7" r="2.7" fill="#4d4d4d" fill-opacity="0.6"/>
<circle cx="248.9" cy="666.2" r="2.7" fill="#4d4d4d" fill-opacity="0.6"/>
<circle cx="333.0" cy="656.7" r="2.7" fill="#4d4d4d" fill-opacity="0.6"/>
<circle cx="230.1" cy="649.2" r="2.7" fill="#4d4d4d" fill-opacity="0.6"/>
<circle cx="221.2" cy="665.1" r="2.7" fill="#4d4d4d" fill-opacity="0.6"/>
<circle cx="240.3" cy="655.6" r="2.7" fill="#4d4d4d" fill-opacity="0.6"/>
<circle cx="248.8" cy="655.1" r="2.7" fill="#4d4d4d" fill-opacity="0.6"/>
<circle cx="222.8" cy="650.6" r="2.7" fill="#4d4d4d" fill-opacity="0.6"/>
<circle cx="255.3" cy="668.6" r="2.7" fill="#4d4d4d" fill-opacity="0.6"/>
<circle cx="227.5" cy="648.8" r="2.7" fill="#4d4d4d" fill-opacity="0.6"/>
<circle cx="232.9" cy="657.4" r="2.7" fill="#4d4d4d" fill-opacity="0.6"/>
<circle cx="240.5" cy="657.2" r="2.7" fill="#4d4d4d" fill-opacity="0.6"/>
<circle cx="305.1" cy="671.3" r="2.7" fill="#4d4d4d" fill-opacity="0.6"/>
<circle cx="329.1" cy="659.9" r="2.7" fill="#4d4d4d" fill-opacity="0.6"/>
<circle cx="316.9" cy="665.9" r="2.7" fill="#4d4d4d" fill-opacity="0.6"/>
<circle cx="220.8" cy="651.6" r="2.7" fill="#4d4d4d" fill-opacity="0.6"/>
<circle cx="297.2" cy="671.7" r="2.7" fill="#4d4d4d" fill-opacity="0.6"/>
<circle cx="236.5" cy="662.7" r="2.7" fill="#4d4d4d" fill-opacity="0.6"/>
<circle cx="245.8" cy="660.7" r="2.7" fill="#4d4d4d" fill-opacity="0.6"/>
<circle cx="221.3" cy="662.9" r="2.7" fill="#4d4d4d" fill-opacity="0.6"/>
<circle cx="249.1" cy="672.2" r="2.7" fill="#4d4d4d" fill-opacity="0.6"/>
<circle cx="281.0" cy="675.6" r="2.7" fill="#4d4d4d" fill-opacity="0.6"/>
<circle cx="253.1" cy="672.6" r="2.7" fill="#4d4d4d" fill-opacity="0.6"/>
<circle cx="309.4" cy="669.2" r="2.7" fill="#4d4d4d" fill-opacity="0.6"/>
<circle cx="264.7" cy="672.1" r="2.7" fill="#4d4d4d" fill-opacity="0.6"/>
<circle cx="321.7" cy="662.6" r="2.7" fill="#4d4d4d" fill-opacity="0.6"/>
<circle cx="247.2" cy="653.2" r="2.7" fill="#4d4d4d" fill-opacity="0.6"/>
<circle cx="271.1" cy="670.5" r="2.7" fill="#4d4d4d" fill-opacity="0.6"/>
<circle cx="230.6" cy="656.2" r="2.7" fill="#4d4d4d" fill-opacity="0.6"/>
<circle cx="275.9" cy="675.4" r="2.7" fill="#4d4d4d" fill-opacity="0.6"/>
<circle cx="233.5" cy="662.2" r="2.7" fill="#4d4d4d" fill-opacity="0.6"/>
<circle cx="228.0" cy="651.5" r="2.7" fill="#4d4d4d" fill-opacity="0.6"/>
<circle cx="320.3" cy="662.7" r="2.7" fill="#4d4d4d" fill-opacity="0.6"/>
<circle cx="247.7" cy="664.4" r="2.7" fill="#4d4d4d" fill-opacity="0.6"/>
<circle cx="229.4" cy="648.7" r="2.7" fill="#4d4d4d" fill-opacity="0.6"/>
<circle cx="305.5" cy="668.7" r="2.7" fill="#4d4d4d" fill-opacity="0.6"/>
<circle cx="262.0" cy="669.7" r="2.7" fill="#4d4d4d" fill-opacity="0.6"/>
<circle cx="240.7" cy="655.2" r="2.7" fill="#4d4d4d" fill-opacity="0.6"/>
<circle cx="222.5" cy="640.5" r="2.7" fill="#4d4d4d" fill-opacity="0.6"/>
<circle cx="247.1" cy="655.7" r="2.7" fill="#4d4d4d" fill-opacity="0.6"/>
<circle cx="325.6" cy="660.2" r="2.7" fill="#4d4d4d" fill-opacity="0.6"/>
<circle cx="246.2" cy="663.3" r="2.7" fill="#4d4d4d" fill-opacity="0.6"/>
<circle cx="245.1" cy="659.7" r="2.7" fill="#4d4d4d" fill-opacity="0.6"/>
<circle cx="271.1" cy="674.3" r="2.7" fill="#4d4d4d" fill-opacity="0.6"/>
<circle cx="247.0" cy="670.0" r="2.7" fill="#4d4d4d" fill-opacity="0.6"/>
<circle cx="317.5" cy="667.8" r="2.7" fill="#4d4d4d" fill-opacity="0.6"/>
<circle cx="257.4" cy="666.5" r="2.7" fill="#4d4d4d" fill-opacity="0.6"/>
<circle cx="222.3" cy="657.0" r="2.7" fill="#4d4d4d" fill-opacity="0.6"/>
<circle cx="219.6" cy="660.1" r="2.7" fill="#4d4d4d" fill-opacity="0.6"/>
<circle cx="249.9" cy="655.6" r="2.7" fill="#4d4d4d" fill-opacity="0.6"/>
<circle cx="235.8" cy="651.9" r="2.7" fill="#4d4d4d" fill-opacity="0.6"/>
<circle cx="237.1" cy="648.5" r="2.7" fill="#4d4d4d" fill-opacity="0.6"/>
<circle cx="323.7" cy="663.0" r="2.7" fill="#4d4d4d" fill-opacity="0.6"/>
<circle cx="247.1" cy="656.8" r="2.7" fill="#4d4d4d" fill-opacity="0.6"/>
<circle cx="331.9" cy="654.9" r="2.7" fill="#4d4d4d" fill-opacity="0.6"/>
<circle cx="330.2" cy="665.0" r="2.7" fill="#4d4d4d" fill-opacity="0.6"/>
<circle cx="231.8" cy="659.0" r="2.7" fill="#4d4d4d" fill-opacity="0.6"/>
<circle cx="253.6" cy="673.5" r="2.7" fill="#4d4d4d" fill-opacity="0.6"/>
<circle cx="233.3" cy="651.7" r="2.7" fill="#4d4d4d" fill-opacity="0.6"/>
<circle cx="332.6" cy="663.7" r="2.7" fill="#4d4d4d" fill-opacity="0.6"/>
<circle cx="286.6" cy="675.3" r="2.7" fill="#4d4d4d" fill-opacity="0.6"/>
<circle cx="247.4" cy="654.0" r="2.7" fill="#4d4d4d" fill-opacity="0.6"/>
<circle cx="228.2" cy="650.3" r="2.7" fill="#4d4d4d" fill-opacity="0.6"/>
<circle cx="220.7" cy="641.7" r="2.7" fill="#4d4d4d" fill-opacity="0.6"/>
<circle cx="295.6" cy="671.1" r="2.7" fill="#4d4d4d" fill-opacity="0.6"/>
<circle cx="246.9" cy="665.2" r="2.7" fill="#4d4d4d" fill-opacity="0.6"/>
<circle cx="325.3" cy="661.9" r="2.7" fill="#4d4d4d" fill-opacity="0.6"/>
<circle cx="234.6" cy="656.5" r="2.7" fill="#4d4d4d" fill-opacity="0.6"/>
<circle cx="223.8" cy="655.8" r="2.7" fill="#4d4d4d" fill-opacity="0.6"/>
<circle cx="228.7" cy="661.5" r="2.7" fill="#4d4d4d" fill-opacity="0.6"/>
<circle cx="270.9" cy="672.3" r="2.7" fill="#4d4d4d" fill-opacity="0.6"/>
<circle cx="276.2" cy="675.1" r="2.7" fill="#4d4d4d" fill-opacity="0.6"/>
<circle cx="254.9" cy="663.2" r="2.7" fill="#4d4d4d" fill-opacity="0.6"/>
<circle cx="221.4" cy="647.0" r="2.7" fill="#4d4d4d" fill-opacity="0.6"/>
<circle cx="227.8" cy="645.7" r="2.7" fill="#4d4d4d" fill-opacity="0.6"/>
<circle cx="220.1" cy="645.7" r="2.7" fill="#4d4d4d" fill-opacity="0.6"/>
<circle cx="335.5" cy="660.1" r="2.7" fill="#4d4d4d" fill-opacity="0.6"/>
<circle cx="333.5" cy="653.7" r="2.7" fill="#4d4d4d" fill-opacity="0.6"/>
<circle cx="257.2" cy="670.3" r="2.7" fill="#4d4d4d" fill-opacity="0.6"/>
<circle cx="226.1" cy="652.6" r="2.7" fill="#4d4d4d" fill-opacity="0.6"/>
<circle cx="277.3" cy="676.1" r="2.7" fill="#4d4d4d" fill-opacity="0.6"/>
<circle cx="225.6" cy="647.8" r="2.7" fill="#4d4d4d" fill-opacity="0.6"/>
<circle cx="303.8" cy="669.1" r="2.7" fill="#4d4d4d" fill-opacity="0.6"/>
<circle cx="230.7" cy="657.5" r="2.7" fill="#4d4d4d" fill-opacity="0.6"/>
<circle cx="246.7" cy="669.4" r="2.7" fill="#4d4d4d" fill-opacity="0.6"/>
<circle cx="235.8" cy="653.2" r="2.7" fill="#4d4d4d" fill-opacity="0.6"/>
<circle cx="250.0" cy="661.8" r="2.7" fill="#4d4d4d" fill-opacity="0.6"/>
<circle cx="223.2" cy="650.4" r="2.7" fill="#4d4d4d" fill-opacity="0.6"/>
<circle cx="243.6" cy="665.0" r="2.7" fill="#4d4d4d" fill-opacity="0.6"/>
<circle cx="238.1" cy="659.1" r="2.7" fill="#4d4d4d" fill-opacity="0.6"/>
<circle cx="226.1" cy="636.4" r="2.7" fill="#4d4d4d" fill-opacity="0.6"/>
<circle cx="230.1" cy="648.7" r="2.7" fill="#4d4d4d" fill-opacity="0.6"/>
<circle cx="273.8" cy="674.3" r="2.7" fill="#4d4d4d" fill-opacity="0.6"/>
<circle cx="233.6" cy="648.3" r="2.7" fill="#4d4d4d" fill-opacity="0.6"/>
<circle cx="310.6" cy="668.2" r="2.7" fill="#4d4d4d" fill-opacity="0.6"/>
<circle cx="227.8" cy="646.0" r="2.7" fill="#4d4d4d" fill-opacity="0.6"/>
<circle cx="292.2" cy="673.5" r="2.7" fill="#4d4d4d" fill-opacity="0.6"/>
<circle cx="252.3" cy="673.6" r="2.7" fill="#4d4d4d" fill-opacity="0.6"/>
<circle cx="234.7" cy="653.6" r="2.7" fill="#4d4d4d" fill-opacity="0.6"/>
<circle cx="227.6" cy="652.7" r="2.7" fill="#4d4d4d" fill-opacity="0.6"/>
<circle cx="229.7" cy="644.8" r="2.7" fill="#4d4d4d" fill-opacity="0.6"/>
<circle cx="225.6" cy="651.0" r="2.7" fill="#4d4d4d" fill-opacity="0.6"/>
<circle cx="232.1" cy="650.2" r="2.7" fill="#4d4d4d" fill-opacity="0.6"/>
<circle cx="238.9" cy="660.0" r="2.7" fill="#4d4d4d" fill-opacity="0.6"/>
<circle cx="234.1" cy="651.4" r="2.7" fill="#4d4d4d" fill-opacity="0.6"/>
<circle cx="333.7" cy="655.4" r="2.7" fill="#4d4d4d" fill-opacity="0.6"/>
<circle cx="305.8" cy="672.1" r="2.7" fill="#4d4d4d" fill-opacity="0.6"/>
<circle cx="259.4" cy="667.3" r="2.7" fill="#4d4d4d" fill-opacity="0.6"/>
<circle cx="335.9" cy="658.2" r="2.7" fill="#4d4d4d" fill-opacity="0.6"/>
<circle cx="259.7" cy="662.2" r="2.7" fill="#4d4d4d" fill-opacity="0.6"/>
<circle cx="220.8" cy="655.3" r="2.7" fill="#4d4d4d" fill-opacity="0.6"/>
<circle cx="331.4" cy="661.4" r="2.7" fill="#4d4d4d" fill-opacity="0.6"/>
<circle cx="250.8" cy="656.1" r="2.7" fill="#4d4d4d" fill-opacity="0.6"/>
<circle cx="263.6" cy="668.8" r="2.7" fill="#4d4d4d" fill-opacity="0.6"/>
<circle cx="315.0" cy="667.5" r="2.7" fill="#4d4d4d" fill-opacity="0.6"/>
<circle cx="318.2" cy="664.3" r="2.7" fill="#4d4d4d" fill-opacity="0.6"/>
<circle cx="322.8" cy="663.5" r="2.7" fill="#4d4d4d" fill-opacity="0.6"/>
<circle cx="244.7" cy="660.9" r="2.7" fill="#4d4d4d" fill-opacity="0.6"/>
<circle cx="258.0" cy="668.4" r="2.7" fill="#4d4d4d" fill-opacity="0.6"/>
<circle cx="313.1" cy="668.1" r="2.7" fill="#4d4d4d" fill-opacity="0.6"/>
<circle cx="306.6" cy="669.8" r="2.7" fill="#4d4d4d" fill-opacity="0.6"/>
<circle cx="286.9" cy="673.3" r="2.7" fill="#4d4d4d" fill-opacity="0.6"/>
<circle cx="297.7" cy="670.8" r="2.7" fill="#4d4d4d" fill-opacity="0.6"/>
<circle cx="262.1" cy="673.6" r="2.7" fill="#4d4d4d" fill-opacity="0.6"/>
<circle cx="223.7" cy="646.2" r="2.7" fill="#4d4d4d" fill-opacity="0.6"/>
<circle cx="270.0" cy="669.3" r="2.7" fill="#4d4d4d" fill-opacity="0.6"/>
<circle cx="313.7" cy="667.0" r="2.7" fill="#4d4d4d" fill-opacity="0.6"/>
<circle cx="243.3" cy="656.0" r="2.7" fill="#4d4d4d" fill-opacity="0.6"/>
<circle cx="241.5" cy="667.9" r="2.7" fill="#4d4d4d" fill-opacity="0.6"/>
<circle cx="313.0" cy="669.3" r="2.7" fill="#4d4d4d" fill-opacity="0.6"/>
<circle cx="243.9" cy="656.8" r="2.7" fill="#4d4d4d" fill-opacity="0.6"/>
<circle cx="285.3" cy="673.9" r="2.7" fill="#4d4d4d" fill-opacity="0.6"/>
<circle cx="250.0" cy="656.4" r="2.7" fill="#4d4d4d" fill-opacity="0.6"/>
<circle cx="274.6" cy="675.9" r="2.7" fill="#4d4d4d" fill-opacity="0.6"/>
<circle cx="247.4" cy="662.1" r="2.7" fill="#4d4d4d" fill-opacity="0.6"/>
<circle cx="280.3" cy="674.2" r="2.7" fill="#4d4d4d" fill-opacity="0.6"/>
<circle cx="243.3" cy="653.0" r="2.7" fill="#4d4d4d" fill-opacity="0.6"/>
<circle cx="328.2" cy="662.8" r="2.7" fill="#4d4d4d" fill-opacity="0.6"/>
<circle cx="229.7" cy="650.0" r="2.7" fill="#4d4d4d" fill-opacity="0.6"/>
<circle cx="236.3" cy="643.0" r="2.7" fill="#4d4d4d" fill-opacity="0.6"/>
<circle cx="248.4" cy="651.7" r="2.7" fill="#4d4d4d" fill-opacity="0.6"/>
<circle cx="238.5" cy="654.0" r="2.7" fill="#4d4d4d" fill-opacity="0.6"/>
<circle cx="238.6" cy="654.4" r="2.7" fill="#4d4d4d" fill-opacity="0.6"/>
<circle cx="229.6" cy="649.2" r="2.7" fill="#4d4d4d" fill-opacity="0.6"/>
<circle cx="241.2" cy="665.8" r="2.7" fill="#4d4d4d" fill-opacity="0.6"/>
<circle cx="274.9" cy="674.3" r="2.7" fill="#4d4d4d" fill-opacity="0.6"/>
<circle cx="239.5" cy="656.7" r="2.7" fill="#4d4d4d" fill-opacity="0.6"/>
<circle cx="286.8" cy="675.3" r="2.7" fill="#4d4d4d" fill-opacity="0.6"/>
<circle cx="236.7" cy="648.0" r="2.7" fill="#4d4d4d" fill-opacity="0.6"/>
<circle cx="241.0" cy="667.9" r="2.7" fill="#4d4d4d" fill-opacity="0.6"/>
<circle cx="222.7" cy="639.9" r="2.7" fill="#4d4d4d" fill-opacity="0.6"/>
<circle cx="263.1" cy="665.3" r="2.7" fill="#4d4d4d" fill-opacity="0.6"/>
<circle cx="238.4" cy="668.2" r="2.7" fill="#4d4d4d" fill-opacity="0.6"/>
<circle cx="222.2" cy="662.8" r="2.7" fill="#4d4d4d" fill-opacity="0.6"/>
<circle cx="236.8" cy="660.9" r="2.7" fill="#4d4d4d" fill-opacity="0.6"/>
<circle cx="226.4" cy="649.7" r="2.7" fill="#4d4d4d" fill-opacity="0.6"/>
<circle cx="270.6" cy="670.1" r="2.7" fill="#4d4d4d" fill-opacity="0.6"/>
<circle cx="264.9" cy="673.5" r="2.7" fill="#4d4d4d" fill-opacity="0.6"/>
<circle cx="224.1" cy="639.9" r="2.7" fill="#4d4d4d" fill-opacity="0.6"/>
<circle cx="234.2" cy="652.6" r="2.7" fill="#4d4d4d" fill-opacity="0.6"/>
<circle cx="232.8" cy="644.8" r="2.7" fill="#4d4d4d" fill-opacity="0.6"/>
<circle cx="240.8" cy="652.0" r="2.7" fill="#4d4d4d" fill-opacity="0.6"/>
<circle cx="249.3" cy="652.3" r="2.7" fill="#4d4d4d" fill-opacity="0.6"/>
<circle cx="302.5" cy="670.9" r="2.7" fill="#4d4d4d" fill-opacity="0.6"/>
<circle cx="226.5" cy="655.1" r="2.7" fill="#4d4d4d" fill-opacity="0.6"/>
<circle cx="299.5" cy="669.5" r="2.7" fill="#4d4d4d" fill-opacity="0.6"/>
<circle cx="259.2" cy="669.6" r="2.7" fill="#4d4d4d" fill-opacity="0.6"/>
<circle cx="236.3" cy="648.8" r="2.7" fill="#4d4d4d" fill-opacity="0.6"/>
<circle cx="220.1" cy="655.7" r="2.7" fill="#4d4d4d" fill-opacity="0.6"/>
<circle cx="220.3" cy="636.3" r="2.7" fill="#4d4d4d" fill-opacity="0.6"/>
<circle cx="263.8" cy="672.1" r="2.7" fill="#4d4d4d" fill-opacity="0.6"/>
<circle cx="327.9" cy="664.2" r="2.7" fill="#4d4d4d" fill-opacity="0.6"/>
<circle cx="329.2" cy="657.5" r="2.7" fill="#4d4d4d" fill-opacity="0.6"/>
<circle cx="310.8" cy="668.2" r="2.7" fill="#4d4d4d" fill-opacity="0.6"/>
<circle cx="231.1" cy="657.1" r="2.7" fill="#4d4d4d" fill-opacity="0.6"/>
<circle cx="304.3" cy="669.6" r="2.7" fill="#4d4d4d" fill-opacity="0.6"/>
<circle cx="275.1" cy="674.1" r="2.7" fill="#4d4d4d" fill-opacity="0.6"/>
<circle cx="307.5" cy="669.2" r="2.7" fill="#4d4d4d" fill-opacity="0.6"/>
<circle cx="306.5" cy="669.2" r="2.7" fill="#4d4d4d" fill-opacity="0.6"/>
<circle cx="223.5" cy="663.0" r="2.7" fill="#4d4d4d" fill-opacity="0.6"/>
<circle cx="324.5" cy="664.8" r="2.7" fill="#4d4d4d" fill-opacity="0.6"/>
<circle cx="241.4" cy="660.7" r="2.7" fill="#4d4d4d" fill-opacity="0.6"/>
<circle cx="241.4" cy="656.9" r="2.7" fill="#4d4d4d" fill-opacity="0.6"/>
<circle cx="259.1" cy="670.8" r="2.7" fill="#4d4d4d" fill-opacity="0.6"/>
<circle cx="311.9" cy="667.3" r="2.7" fill="#4d4d4d" fill-opacity="0.6"/>
<circle cx="326.7" cy="663.9" r="2.7" fill="#4d4d4d" fill-opacity="0.6"/>
<circle cx="307.0" cy="668.4" r="2.7" fill="#4d4d4d" fill-opacity="0.6"/>
<circle cx="238.4" cy="651.9" r="2.7" fill="#4d4d4d" fill-opacity="0.6"/>
<circle cx="239.3" cy="656.4" r="2.7" fill="#4d4d4d" fill-opacity="0.6"/>
<circle cx="251.0" cy="655.8" r="2.7" fill="#4d4d4d" fill-opacity="0.6"/>
<circle cx="288.8" cy="673.7" r="2.7" fill="#4d4d4d" fill-opacity="0.6"/>
<circle cx="236.1" cy="662.4" r="2.7" fill="#4d4d4d" fill-opacity="0.6"/>
<circle cx="223.0" cy="647.3" r="2.7" fill="#4d4d4d" fill-opacity="0.6"/>
<circle cx="234.2" cy="649.0" r="2.7" fill="#4d4d4d" fill-opacity="0.6"/>
<circle cx="227.2" cy="644.2" r="2.7" fill="#4d4d4d" fill-opacity="0.6"/>
<circle cx="279.2" cy="676.3" r="2.7" fill="#4d4d4d" fill-opacity="0.6"/>
<circle cx="303.3" cy="668.8" r="2.7" fill="#4d4d4d" fill-opacity="0.6"/>
<circle cx="225.4" cy="657.1" r="2.7" fill="#4d4d4d" fill-opacity="0.6"/>
<circle cx="286.3" cy="674.5" r="2.7" fill="#4d4d4d" fill-opacity="0.6"/>
<circle cx="221.1" cy="654.7" r="2.7" fill="#4d4d4d" fill-opacity="0.6"/>
<circle cx="333.1" cy="662.6" r="2.7" fill="#4d4d4d" fill-opacity="0.6"/>
<circle cx="301.5" cy="672.6" r="2.7" fill="#4d4d4d" fill-opacity="0.6"/>
<circle cx="232.6" cy="639.8" r="2.7" fill="#4d4d4d" fill-opacity="0.6"/>
<circle cx="251.3" cy="659.0" r="2.7" fill="#4d4d4d" fill-opacity="0.6"/>
<circle cx="296.3" cy="673.4" r="2.7" fill="#4d4d4d" fill-opacity="0.6"/>
<circle cx="249.5" cy="664.3" r="2.7" fill="#4d4d4d" fill-opacity="0.6"/>
<circle cx="238.4" cy="660.8" r="2.7" fill="#4d4d4d" fill-opacity="0.6"/>
<circle cx="221.4" cy="642.5" r="2.7" fill="#4d4d4d" fill-opacity="0.6"/>
<circle cx="308.5" cy="669.6" r="2.7" fill="#4d4d4d" fill-opacity="0.6"/>
<circle cx="316.3" cy="668.0" r="2.7" fill="#4d4d4d" fill-opacity="0.6"/>
<circle cx="265.1" cy="672.2" r="2.7" fill="#4d4d4d" fill-opacity="0.6"/>
<circle cx="309.4" cy="667.4" r="2.7" fill="#4d4d4d" fill-opacity="0.6"/>
<circle cx="240.8" cy="649.5" r="2.7" fill="#4d4d4d" fill-opacity="0.6"/>
<circle cx="229.2" cy="661.8" r="2.7" fill="#4d4d4d" fill-opacity="0.6"/>
<circle cx="248.3" cy="666.2" r="2.7" fill="#4d4d4d" fill-opacity="0.6"/>
<circle cx="255.4" cy="671.0" r="2.7" fill="#4d4d4d" fill-opacity="0.6"/>
<circle cx="269.9" cy="671.2" r="2.7" fill="#4d4d4d" fill-opacity="0.6"/>
<circle cx="224.9" cy="656.8" r="2.7" fill="#4d4d4d" fill-opacity="0.6"/>
<circle cx="238.0" cy="650.1" r="2.7" fill="#4d4d4d" fill-opacity="0.6"/>
<circle cx="226.5" cy="649.2" r="2.7" fill="#4d4d4d" fill-opacity="0.6"/>
<circle cx="279.5" cy="676.0" r="2.7" fill="#4d4d4d" fill-opacity="0.6"/>
<circle cx="297.2" cy="672.1" r="2.7" fill="#4d4d4d" fill-opacity="0.6"/>
<circle cx="245.7" cy="661.0" r="2.7" fill="#4d4d4d" fill-opacity="0.6"/>
<circle cx="242.9" cy="653.2" r="2.7" fill="#4d4d4d" fill-opacity="0.6"/>
<circle cx="258.9" cy="660.2" r="2.7" fill="#4d4d4d" fill-opacity="0.6"/>
<circle cx="270.2" cy="675.0" r="2.7" fill="#4d4d4d" fill-opacity="0.6"/>
<circle cx="231.3" cy="657.6" r="2.7" fill="#4d4d4d" fill-opacity="0.6"/>
<circle cx="276.9" cy="675.2" r="2.7" fill="#4d4d4d" fill-opacity="0.6"/>
<circle cx="275.2" cy="673.7" r="2.7" fill="#4d4d4d" fill-opacity="0.6"/>
<circle cx="276.4" cy="674.9" r="2.7" fill="#4d4d4d" fill-opacity="0.6"/>
<circle cx="224.9" cy="638.8" r="2.7" fill="#4d4d4d" fill-opacity="0.6"/>
<circle cx="313.6" cy="667.2" r="2.7" fill="#4d4d4d" fill-opacity="0.6"/>
<circle cx="271.0" cy="673.7" r="2.7" fill="#4d4d4d" fill-opacity="0.6"/>
<circle cx="230.3" cy="660.1" r="2.7" fill="#4d4d4d" fill-opacity="0.6"/>
<circle cx="303.8" cy="668.9" r="2.7" fill="#4d4d4d" fill-opacity="0.6"/>
<circle cx="220.0" cy="636.5" r="2.7" fill="#4d4d4d" fill-opacity="0.6"/>
<circle cx="336.6" cy="659.3" r="2.7" fill="#4d4d4d" fill-opacity="0.6"/>
<circle cx="242.7" cy="654.9" r="2.7" fill="#4d4d4d" fill-opacity="0.6"/>
<circle cx="252.2" cy="664.5" r="2.7" fill="#4d4d4d" fill-opacity="0.6"/>
<circle cx="297.6" cy="671.1" r="2.7" fill="#4d4d4d" fill-opacity="0.6"/>
<circle cx="253.7" cy="664.1" r="2.7" fill="#4d4d4d" fill-opacity="0.6"/>
<circle cx="244.6" cy="657.9" r="2.7" fill="#4d4d4d" fill-opacity="0.6"/>
<circle cx="305.7" cy="670.7" r="2.7" fill="#4d4d4d" fill-opacity="0.6"/>
<circle cx="251.6" cy="663.0" r="2.7" fill="#4d4d4d" fill-opacity="0.6"/>
<circle cx="314.0" cy="667.6" r="2.7" fill="#4d4d4d" fill-opacity="0.6"/>
<circle cx="259.2" cy="668.9" r="2.7" fill="#4d4d4d" fill-opacity="0.6"/>
<circle cx="251.3" cy="656.1" r="2.7" fill="#4d4d4d" fill-opacity="0.6"/>
<circle cx="241.1" cy="656.9" r="2.7" fill="#4d4d4d" fill-opacity="0.6"/>
<circle cx="269.8" cy="676.7" r="2.7" fill="#4d4d4d" fill-opacity="0.6"/>
<circle cx="222.0" cy="647.6" r="2.7" fill="#4d4d4d" fill-opacity="0.6"/>
<circle cx="292.9" cy="673.3" r="2.7" fill="#4d4d4d" fill-opacity="0.6"/>
<circle cx="222.0" cy="643.1" r="2.7" fill="#4d4d4d" fill-opacity="0.6"/>
<circle cx="326.3" cy="660.4" r="2.7" fill="#4d4d4d" fill-opacity="0.6"/>
<circle cx="257.4" cy="664.0" r="2.7" fill="#4d4d4d" fill-opacity="0.6"/>
<circle cx="234.0" cy="663.8" r="2.7" fill="#4d4d4d" fill-opacity="0.6"/>
<circle cx="256.1" cy="660.4" r="2.7" fill="#4d4d4d" fill-opacity="0.6"/>
<circle cx="248.2" cy="670.7" r="2.7" fill="#4d4d4d" fill-opacity="0.6"/>
<circle cx="263.9" cy="671.4" r="2.7" fill="#4d4d4d" fill-opacity="0.6"/>
<circle cx="226.0" cy="637.1" r="2.7" fill="#4d4d4d" fill-opacity="0.6"/>
<circle cx="313.5" cy="667.3" r="2.7" fill="#4d4d4d" fill-opacity="0.6"/>
<circle cx="230.3" cy="665.5" r="2.7" fill="#4d4d4d" fill-opacity="0.6"/>
<circle cx="244.5" cy="662.8" r="2.7" fill="#4d4d4d" fill-opacity="0.6"/>
<circle cx="334.9" cy="655.8" r="2.7" fill="#4d4d4d" fill-opacity="0.6"/>
<circle cx="261.6" cy="665.7" r="2.7" fill="#4d4d4d" fill-opacity="0.6"/>
<circle cx="252.9" cy="660.6" r="2.7" fill="#4d4d4d" fill-opacity="0.6"/>
<circle cx="331.7" cy="661.3" r="2.7" fill="#4d4d4d" fill-opacity="0.6"/>
<circle cx="259.4" cy="670.7" r="2.7" fill="#4d4d4d" fill-opacity="0.6"/>
<circle cx="331.9" cy="655.2" r="2.7" fill="#4d4d4d" fill-opacity="0.6"/>
<circle cx="223.0" cy="651.9" r="2.7" fill="#4d4d4d" fill-opacity="0.6"/>
<circle cx="275.1" cy="675.7" r="2.7" fill="#4d4d4d" fill-opacity="0.6"/>
<circle cx="295.3" cy="673.8" r="2.7" fill="#4d4d4d" fill-opacity="0.6"/>
<circle cx="291.6" cy="672.9" r="2.7" fill="#4d4d4d" fill-opacity="0.6"/>
<circle cx="284.2" cy="675.0" r="2.7" fill="#4d4d4d" fill-opacity="0.6"/>
<circle cx="235.4" cy="652.1" r="2.7" fill="#4d4d4d" fill-opacity="0.6"/>
<circle cx="296.2" cy="671.2" r="2.7" fill="#4d4d4d" fill-opacity="0.6"/>
<circle cx="291.4" cy="675.2" r="2.7" fill="#4d4d4d" fill-opacity="0.6"/>
<circle cx="318.9" cy="663.6" r="2.7" fill="#4d4d4d" fill-opacity="0.6"/>
<circle cx="221.4" cy="633.2" r="2.7" fill="#4d4d4d" fill-opacity="0.6"/>
<circle cx="320.8" cy="665.8" r="2.7" fill="#4d4d4d" fill-opacity="0.6"/>
<circle cx="222.7" cy="651.8" r="2.7" fill="#4d4d4d" fill-opacity="0.6"/>
<circle cx="292.9" cy="673.4" r="2.7" fill="#4d4d4d" fill-opacity="0.6"/>
<circle cx="238.3" cy="655.2" r="2.7" fill="#4d4d4d" fill-opacity="0.6"/>
<circle cx="335.8" cy="661.4" r="2.7" fill="#4d4d4d" fill-opacity="0.6"/>
<circle cx="305.6" cy="672.5" r="2.7" fill="#4d4d4d" fill-opacity="0.6"/>
<circle cx="320.8" cy="666.7" r="2.7" fill="#4d4d4d" fill-opacity="0.6"/>
<circle cx="317.2" cy="665.6" r="2.7" fill="#4d4d4d" fill-opacity="0.6"/>
<circle cx="245.9" cy="656.3" r="2.7" fill="#4d4d4d" fill-opacity="0.6"/>
<circle cx="331.6" cy="653.0" r="2.7" fill="#4d4d4d" fill-opacity="0.6"/>
<circle cx="222.7" cy="648.3" r="2.7" fill="#4d4d4d" fill-opacity="0.6"/>
<circle cx="261.5" cy="665.7" r="2.7" fill="#4d4d4d" fill-opacity="0.6"/>
<circle cx="281.2" cy="676.6" r="2.7" fill="#4d4d4d" fill-opacity="0.6"/>
<circle cx="230.7" cy="647.7" r="2.7" fill="#4d4d4d" fill-opacity="0.6"/>
<circle cx="245.2" cy="656.4" r="2.7" fill="#4d4d4d" fill-opacity="0.6"/>
<circle cx="219.8" cy="646.4" r="2.7" fill="#4d4d4d" fill-opacity="0.6"/>
<circle cx="293.1" cy="674.7" r="2.7" fill="#4d4d4d" fill-opacity="0.6"/>
<circle cx="331.5" cy="660.5" r="2.7" fill="#4d4d4d" fill-opacity="0.6"/>
<circle cx="279.4" cy="676.1" r="2.7" fill="#4d4d4d" fill-opacity="0.6"/>
<circle cx="265.2" cy="672.0" r="2.7" fill="#4d4d4d" fill-opacity="0.6"/>
<circle cx="241.9" cy="666.7" r="2.7" fill="#4d4d4d" fill-opacity="0.6"/>
<circle cx="243.0" cy="661.0" r="2.7" fill="#4d4d4d" fill-opacity="0.6"/>
<circle cx="304.9" cy="668.3" r="2.7" fill="#4d4d4d" fill-opacity="0.6"/>
<circle cx="227.3" cy="649.8" r="2.7" fill="#4d4d4d" fill-opacity="0.6"/>
<circle cx="321.8" cy="663.3" r="2.7" fill="#4d4d4d" fill-opacity="0.6"/>
<circle cx="248.8" cy="662.4" r="2.7" fill="#4d4d4d" fill-opacity="0.6"/>
<circle cx="254.8" cy="667.1" r="2.7" fill="#4d4d4d" fill-opacity="0.6"/>
<circle cx="304.4" cy="670.2" r="2.7" fill="#4d4d4d" fill-opacity="0.6"/>
<circle cx="258.3" cy="667.3" r="2.7" fill="#4d4d4d" fill-opacity="0.6"/>
<circle cx="336.5" cy="659.5" r="2.7" fill="#4d4d4d" fill-opacity="0.6"/>
<circle cx="265.7" cy="671.8" r="2.7" fill="#4d4d4d" fill-opacity="0.6"/>
<circle cx="240.5" cy="663.9" r="2.7" fill="#4d4d4d" fill-opacity="0.6"/>
<circle cx="248.4" cy="658.9" r="2.7" fill="#4d4d4d" fill-opacity="0.6"/>
<circle cx="321.1" cy="662.1" r="2.7" fill="#4d4d4d" fill-opacity="0.6"/>
<circle cx="334.4" cy="660.7" r="2.7" fill="#4d4d4d" fill-opacity="0.6"/>
<circle cx="235.0" cy="653.0" r="2.7" fill="#4d4d4d" fill-opacity="0.6"/>
<circle cx="243.6" cy="651.7" r="2.7" fill="#4d4d4d" fill-opacity="0.6"/>
<circle cx="222.2" cy="643.4" r="2.7" fill="#4d4d4d" fill-opacity="0.6"/>
<circle cx="259.1" cy="671.4" r="2.7" fill="#4d4d4d" fill-opacity="0.6"/>
<circle cx="233.2" cy="668.9" r="2.7" fill="#4d4d4d" fill-opacity="0.6"/>
<circle cx="222.6" cy="657.0" r="2.7" fill="#4d4d4d" fill-opacity="0.6"/>
<circle cx="262.9" cy="666.7" r="2.7" fill="#4d4d4d" fill-opacity="0.6"/>
<circle cx="268.3" cy="673.7" r="2.7" fill="#4d4d4d" fill-opacity="0.6"/>
<circle cx="333.2" cy="653.7" r="2.7" fill="#4d4d4d" fill-opacity="0.6"/>
<circle cx="333.3" cy="657.1" r="2.7" fill="#4d4d4d" fill-opacity="0.6"/>
<circle cx="252.3" cy="669.0" r="2.7" fill="#4d4d4d" fill-opacity="0.6"/>
<circle cx="322.2" cy="664.6" r="2.7" fill="#4d4d4d" fill-opacity="0.6"/>
<circle cx="252.0" cy="659.1" r="2.7" fill="#4d4d4d" fill-opacity="0.6"/>
<circle cx="247.5" cy="661.3" r="2.7" fill="#4d4d4d" fill-opacity="0.6"/>
<circle cx="268.5" cy="667.9" r="2.7" fill="#4d4d4d" fill-opacity="0.6"/>
<circle cx="303.0" cy="671.5" r="2.7" fill="#4d4d4d" fill-opacity="0.6"/>
<circle cx="328.1" cy="659.2" r="2.7" fill="#4d4d4d" fill-opacity="0.6"/>
<circle cx="221.9" cy="661.1" r="2.7" fill="#4d4d4d" fill-opacity="0.6"/>
<circle cx="234.5" cy="659.1" r="2.7" fill="#4d4d4d" fill-opacity="0.6"/>
<circle cx="245.7" cy="661.6" r="2.7" fill="#4d4d4d" fill-opacity="0.6"/>
<circle cx="230.2" cy="649.1" r="2.7" fill="#4d4d4d" fill-opacity="0.6"/>
<circle cx="249.2" cy="662.3" r="2.7" fill="#4d4d4d" fill-opacity="0.6"/>
<circle cx="318.2" cy="665.7" r="2.7" fill="#4d4d4d" fill-opacity="0.6"/>
<circle cx="330.5" cy="656.8" r="2.7" fill="#4d4d4d" fill-opacity="0.6"/>
<circle cx="231.4" cy="650.3" r="2.7" fill="#4d4d4d" fill-opacity="0.6"/>
<circle cx="277.9" cy="674.6" r="2.7" fill="#4d4d4d" fill-opacity="0.6"/>
<circle cx="270.9" cy="671.8" r="2.7" fill="#4d4d4d" fill-opacity="0.6"/>
<circle cx="229.6" cy="649.5" r="2.7" fill="#4d4d4d" fill-opacity="0.6"/>
<circle cx="233.1" cy="643.3" r="2.7" fill="#4d4d4d" fill-opacity="0.6"/>
<circle cx="324.4" cy="662.8" r="2.7" fill="#4d4d4d" fill-opacity="0.6"/>
<circle cx="240.2" cy="656.2" r="2.7" fill="#4d4d4d" fill-opacity="0.6"/>
<circle cx="230.9" cy="650.2" r="2.7" fill="#4d4d4d" fill-opacity="0.6"/>
<circle cx="231.9" cy="647.4" r="2.7" fill="#4d4d4d" fill-opacity="0.6"/>
<circle cx="224.7" cy="640.1" r="2.7" fill="#4d4d4d" fill-opacity="0.6"/>
<circle cx="332.3" cy="653.5" r="2.7" fill="#4d4d4d" fill-opacity="0.6"/>
<circle cx="318.1" cy="666.5" r="2.7" fill="#4d4d4d" fill-opacity="0.6"/>
<circle cx="322.8" cy="664.3" r="2.7" fill="#4d4d4d" fill-opacity="0.6"/>
<circle cx="256.3" cy="661.7" r="2.7" fill="#4d4d4d" fill-opacity="0.6"/>
<circle cx="239.6" cy="654.9" r="2.7" fill="#4d4d4d" fill-opacity="0.6"/>
<circle cx="259.1" cy="666.3" r="2.7" fill="#4d4d4d" fill-opacity="0.6"/>
<circle cx="255.1" cy="665.0" r="2.7" fill="#4d4d4d" fill-opacity="0.6"/>
<circle cx="221.1" cy="648.6" r="2.7" fill="#4d4d4d" fill-opacity="0.6"/>
<circle cx="263.6" cy="671.8" r="2.7" fill="#4d4d4d" fill-opacity="0.6"/>
<circle cx="249.3" cy="661.7" r="2.7" fill="#4d4d4d" fill-opacity="0.6"/>
<circle cx="231.3" cy="646.1" r="2.7" fill="#4d4d4d" fill-opacity="0.6"/>
<circle cx="248.5" cy="659.3" r="2.7" fill="#4d4d4d" fill-opacity="0.6"/>
<circle cx="333.5" cy="663.4" r="2.7" fill="#4d4d4d" fill-opacity="0.6"/>
<circle cx="222.1" cy="647.4" r="2.7" fill="#4d4d4d" fill-opacity="0.6"/>
<circle cx="237.7" cy="656.7" r="2.7" fill="#4d4d4d" fill-opacity="0.6"/>
<circle cx="231.6" cy="661.1" r="2.7" fill="#4d4d4d" fill-opacity="0.6"/>
<circle cx="232.5" cy="656.2" r="2.7" fill="#4d4d4d" fill-opacity="0.6"/>
<circle cx="234.6" cy="650.5" r="2.7" fill="#4d4d4d" fill-opacity="0.6"/>
<circle cx="293.8" cy="673.5" r="2.7" fill="#4d4d4d" fill-opacity="0.6"/>
<circle cx="228.5" cy="651.3" r="2.7" fill="#4d4d4d" fill-opacity="0.6"/>
<circle cx="221.7" cy="631.0" r="2.7" fill="#4d4d4d" fill-opacity="0.6"/>
<circle cx="247.5" cy="668.8" r="2.7" fill="#4d4d4d" fill-opacity="0.6"/>
<circle cx="336.6" cy="653.5" r="2.7" fill="#4d4d4d" fill-opacity="0.6"/>
<circle cx="230.6" cy="654.3" r="2.7" fill="#4d4d4d" fill-opacity="0.6"/>
<circle cx="287.7" cy="673.9" r="2.7" fill="#4d4d4d" fill-opacity="0.6"/>
<circle cx="292.5" cy="673.8" r="2.7" fill="#4d4d4d" fill-opacity="0.6"/>
<circle cx="231.6" cy="656.9" r="2.7" fill="#4d4d4d" fill-opacity="0.6"/>
<circle cx="233.2" cy="645.6" r="2.7" fill="#4d4d4d" fill-opacity="0.6"/>
<circle cx="308.6" cy="670.6" r="2.7" fill="#4d4d4d" fill-opacity="0.6"/>
<circle cx="248.7" cy="657.1" r="2.7" fill="#4d4d4d" fill-opacity="0.6"/>
<circle cx="264.1" cy="670.3" r="2.7" fill="#4d4d4d" fill-opacity="0.6"/>
<circle cx="336.1" cy="649.3" r="2.7" fill="#4d4d4d" fill-opacity="0.6"/>
<circle cx="221.2" cy="650.0" r="2.7" fill="#4d4d4d" fill-opacity="0.6"/>
<circle cx="312.4" cy="667.5" r="2.7" fill="#4d4d4d" fill-opacity="0.6"/>
<circle cx="247.6" cy="663.2" r="2.7" fill="#4d4d4d" fill-opacity="0.6"/>
<circle cx="331.3" cy="663.1" r="2.7" fill="#4d4d4d" fill-opacity="0.6"/>
<circle cx="240.1" cy="661.2" r="2.7" fill="#4d4d4d" fill-opacity="0.6"/>
<circle cx="221.8" cy="631.1" r="2.7" fill="#4d4d4d" fill-opacity="0.6"/>
<circle cx="328.5" cy="659.3" r="2.7" fill="#4d4d4d" fill-opacity="0.6"/>
<circle cx="235.3" cy="659.1" r="2.7" fill="#4d4d4d" fill-opacity="0.6"/>
<circle cx="279.2" cy="676.3" r="2.7" fill="#4d4d4d" fill-opacity="0.6"/>
<circle cx="314.7" cy="664.4" r="2.7" fill="#4d4d4d" fill-opacity="0.6"/>
<circle cx="219.7" cy="648.4" r="2.7" fill="#4d4d4d" fill-opacity="0.6"/>
<circle cx="335.2" cy="653.3" r="2.7" fill="#4d4d4d" fill-opacity="0.6"/>
<circle cx="249.1" cy="669.3" r="2.7" fill="#4d4d4d" fill-opacity="0.6"/>
<circle cx="324.0" cy="665.9" r="2.7" fill="#4d4d4d" fill-opacity="0.6"/>
<circle cx="231.1" cy="654.7" r="2.7" fill="#4d4d4d" fill-opacity="0.6"/>
<circle cx="315.3" cy="665.1" r="2.7" fill="#4d4d4d" fill-opacity="0.6"/>
<circle cx="232.1" cy="657.2" r="2.7" fill="#4d4d4d" fill-opacity="0.6"/>
<circle cx="228.2" cy="648.9" r="2.7" fill="#4d4d4d" fill-opacity="0.6"/>
<circle cx="230.3" cy="658.0" r="2.7" fill="#4d4d4d" fill-opacity="0.6"/>
<circle cx="223.2" cy="652.3" r="2.7" fill="#4d4d4d" fill-opacity="0.6"/>
<circle cx="234.5" cy="653.8" r="2.7" fill="#4d4d4d" fill-opacity="0.6"/>
<circle cx="306.4" cy="670.8" r="2.7" fill="#4d4d4d" fill-opacity="0.6"/>
<circle cx="257.8" cy="670.0" r="2.7" fill="#4d4d4d" fill-opacity="0.6"/>
<circle cx="320.9" cy="662.8" r="2.7" fill="#4d4d4d" fill-opacity="0.6"/>
<circle cx="250.0" cy="654.4" r="2.7" fill="#4d4d4d" fill-opacity="0.6"/>
<circle cx="238.0" cy="657.4" r="2.7" fill="#4d4d4d" fill-opacity="0.6"/>
<circle cx="234.1" cy="654.1" r="2.7" fill="#4d4d4d" fill-opacity="0.6"/>
<circle cx="332.8" cy="648.8" r="2.7" fill="#4d4d4d" fill-opacity="0.6"/>
<circle cx="335.9" cy="657.9" r="2.7" fill="#4d4d4d" fill-opacity="0.6"/>
<circle cx="305.4" cy="667.8" r="2.7" fill="#4d4d4d" fill-opacity="0.6"/>
<circle cx="334.4" cy="652.6" r="2.7" fill="#4d4d4d" fill-opacity="0.6"/>
<circle cx="262.5" cy="671.4" r="2.7" fill="#4d4d4d" fill-opacity="0.6"/>
<circle cx="227.7" cy="644.5" r="2.7" fill="#4d4d4d" fill-opacity="0.6"/>
<circle cx="334.9" cy="653.0" r="2.7" fill="#4d4d4d" fill-opacity="0.6"/>
<circle cx="260.8" cy="671.9" r="2.7" fill="#4d4d4d" fill-opacity="0.6"/>
<circle cx="269.6" cy="676.6" r="2.7" fill="#4d4d4d" fill-opacity="0.6"/>
<circle cx="225.9" cy="643.0" r="2.7" fill="#4d4d4d" fill-opacity="0.6"/>
<circle cx="324.0" cy="665.8" r="2.7" fill="#4d4d4d" fill-opacity="0.6"/>
<circle cx="224.6" cy="643.9" r="2.7" fill="#4d4d4d" fill-opacity="0.6"/>
<circle cx="227.5" cy="641.4" r="2.7" fill="#4d4d4d" fill-opacity="0.6"/>
<circle cx="224.7" cy="662.8" r="2.7" fill="#4d4d4d" fill-opacity="0.6"/>
<circle cx="271.9" cy="674.2" r="2.7" fill="#4d4d4d" fill-opacity="0.6"/>
<circle cx="241.4" cy="662.1" r="2.7" fill="#4d4d4d" fill-opacity="0.6"/>
<circle cx="231.4" cy="646.3" r="2.7" fill="#4d4d4d" fill-opacity="0.6"/>
<circle cx="221.1" cy="657.8" r="2.7" fill="#4d4d4d" fill-opacity="0.6"/>
<circle cx="335.3" cy="650.1" r="2.7" fill="#4d4d4d" fill-opacity="0.6"/>
<circle cx="335.4" cy="655.2" r="2.7" fill="#4d4d4d" fill-opacity="0.6"/>
<circle cx="277.0" cy="675.6" r="2.7" fill="#4d4d4d" fill-opacity="0.6"/>
<circle cx="310.1" cy="668.5" r="2.7" fill="#4d4d4d" fill-opacity="0.6"/>
<circle cx="298.1" cy="671.8" r="2.7" fill="#4d4d4d" fill-opacity="0.6"/>
<circle cx="305.2" cy="669.5" r="2.7" fill="#4d4d4d" fill-opacity="0.6"/>
<circle cx="230.9" cy="659.7" r="2.7" fill="#4d4d4d" fill-opacity="0.6"/>
<circle cx="233.3" cy="656.5" r="2.7" fill="#4d4d4d" fill-opacity="0.6"/>
<circle cx="249.2" cy="664.4" r="2.7" fill="#4d4d4d" fill-opacity="0.6"/>
<circle cx="329.8" cy="659.0" r="2.7" fill="#4d4d4d" fill-opacity="0.6"/>
<circle cx="221.1" cy="634.8" r="2.7" fill="#4d4d4d" fill-opacity="0.6"/>
<circle cx="257.3" cy="659.2" r="2.7" fill="#4d4d4d" fill-opacity="0.6"/>
<circle cx="222.4" cy="656.3" r="2.7" fill="#4d4d4d" fill-opacity="0.6"/>
<circle cx="255.9" cy="668.4" r="2.7" fill="#4d4d4d" fill-opacity="0.6"/>
<circle cx="244.5" cy="658.2" r="2.7" fill="#4d4d4d" fill-opacity="0.6"/>
<circle cx="262.7" cy="670.3" r="2.7" fill="#4d4d4d" fill-opacity="0.6"/>
<circle cx="291.0" cy="674.2" r="2.7" fill="#4d4d4d" fill-opacity="0.6"/>
<circle cx="223.5" cy="650.1" r="2.7" fill="#4d4d4d" fill-opacity="0.6"/>
<circle cx="242.2" cy="667.0" r="2.7" fill="#4d4d4d" fill-opacity="0.6"/>
<circle cx="224.4" cy="653.2" r="2.7" fill="#4d4d4d" fill-opacity="0.6"/>
<circle cx="281.6" cy="675.8" r="2.7" fill="#4d4d4d" fill-opacity="0.6"/>
<circle cx="312.9" cy="665.5" r="2.7" fill="#4d4d4d" fill-opacity="0.6"/>
<circle cx="234.5" cy="645.8" r="2.7" fill="#4d4d4d" fill-opacity="0.6"/>
<circle cx="329.0" cy="654.0" r="2.7" fill="#4d4d4d" fill-opacity="0.6"/>
<circle cx="324.2" cy="665.8" r="2.7" fill="#4d4d4d" fill-opacity="0.6"/>
<circle cx="290.1" cy="674.2" r="2.7" fill="#4d4d4d" fill-opacity="0.6"/>
<circle cx="222.6" cy="647.8" r="2.7" fill="#4d4d4d" fill-opacity="0.6"/>
<circle cx="331.9" cy="655.3" r="2.7" fill="#4d4d4d" fill-opacity="0.6"/>
<circle cx="290.7" cy="672.6" r="2.7" fill="#4d4d4d" fill-opacity="0.6"/>
<circle cx="251.9" cy="667.3" r="2.7" fill="#4d4d4d" fill-opacity="0.6"/>
<circle cx="224.4" cy="646.9" r="2.7" fill="#4d4d4d" fill-opacity="0.6"/>
<circle cx="244.2" cy="667.2" r="2.7" fill="#4d4d4d" fill-opacity="0.6"/>
<circle cx="288.0" cy="673.6" r="2.7" fill="#4d4d4d" fill-opacity="0.6"/>
<circle cx="220.0" cy="664.1" r="2.7" fill="#4d4d4d" fill-opacity="0.6"/>
<circle cx="224.6" cy="659.8" r="2.7" fill="#4d4d4d" fill-opacity="0.6"/>
<circle cx="236.6" cy="657.6" r="2.7" fill="#4d4d4d" fill-opacity="0.6"/>
<circle cx="250.8" cy="661.0" r="2.7" fill="#4d4d4d" fill-opacity="0.6"/>
<circle cx="335.7" cy="657.5" r="2.7" fill="#4d4d4d" fill-opacity="0.6"/>
<circle cx="256.4" cy="666.4" r="2.7" fill="#4d4d4d" fill-opacity="0.6"/>
<circle cx="268.7" cy="674.4" r="2.7" fill="#4d4d4d" fill-opacity="0.6"/>
<circle cx="243.8" cy="657.5" r="2.7" fill="#4d4d4d" fill-opacity="0.6"/>
<circle cx="239.3" cy="663.4" r="2.7" fill="#4d4d4d" fill-opacity="0.6"/>
<circle cx="334.4" cy="649.5" r="2.7" fill="#4d4d4d" fill-opacity="0.6"/>
<circle cx="244.3" cy="659.2" r="2.7" fill="#4d4d4d" fill-opacity="0.6"/>
<circle cx="286.8" cy="673.3" r="2.7" fill="#4d4d4d" fill-opacity="0.6"/>
<circle cx="262.1" cy="666.3" r="2.7" fill="#4d4d4d" fill-opacity="0.6"/>
<circle cx="333.7" cy="657.4" r="2.7" fill="#4d4d4d" fill-opacity="0.6"/>
<circle cx="221.6" cy="640.9" r="2.7" fill="#4d4d4d" fill-opacity="0.6"/>
<circle cx="247.7" cy="665.5" r="2.7" fill="#4d4d4d" fill-opacity="0.6"/>
<circle cx="253.2" cy="663.9" r="2.7" fill="#4d4d4d" fill-opacity="0.6"/>
<circle cx="247.9" cy="663.7" r="2.7" fill="#4d4d4d" fill-opacity="0.6"/>
<circle cx="233.0" cy="665.6" r="2.7" fill="#4d4d4d" fill-opacity="0.6"/>
<circle cx="273.5" cy="674.0" r="2.7" fill="#4d4d4d" fill-opacity="0.6"/>
<circle cx="226.7" cy="663.9" r="2.7" fill="#4d4d4d" fill-opacity="0.6"/>
<circle cx="292.0" cy="674.1" r="2.7" fill="#4d4d4d" fill-opacity="0.6"/>
<circle cx="305.3" cy="670.1" r="2.7" fill="#4d4d4d" fill-opacity="0.6"/>
<circle cx="331.3" cy="660.8" r="2.7" fill="#4d4d4d" fill-opacity="0.6"/>
<circle cx="290.8" cy="672.8" r="2.7" fill="#4d4d4d" fill-opacity="0.6"/>
<circle cx="223.6" cy="655.5" r="2.7" fill="#4d4d4d" fill-opacity="0.6"/>
<circle cx="285.4" cy="674.5" r="2.7" fill="#4d4d4d" fill-opacity="0.6"/>
<circle cx="249.5" cy="669.4" r="2.7" fill="#4d4d4d" fill-opacity="0.6"/>
<circle cx="237.9" cy="644.7" r="2.7" fill="#4d4d4d" fill-opacity="0.6"/>
<circle cx="239.0" cy="663.3" r="2.7" fill="#4d4d4d" fill-opacity="0.6"/>
<circle cx="235.1" cy="652.2" r="2.7" fill="#4d4d4d" fill-opacity="0.6"/>
<circle cx="264.4" cy="672.6" r="2.7" fill="#4d4d4d" fill-opacity="0.6"/>
<circle cx="243.9" cy="656.2" r="2.7" fill="#4d4d4d" fill-opacity="0.6"/>
<circle cx="283.4" cy="676.2" r="2.7" fill="#4d4d4d" fill-opacity="0.6"/>
<circle cx="227.7" cy="655.1" r="2.7" fill="#4d4d4d" fill-opacity="0.6"/>
<circle cx="248.8" cy="671.8" r="2.7" fill="#4d4d4d" fill-opacity="0.6"/>
<circle cx="252.5" cy="666.3" r="2.7" fill="#4d4d4d" fill-opacity="0.6"/>
<circle cx="296.4" cy="670.6" r="2.7" fill="#4d4d4d" fill-opacity="0.6"/>
<circle cx="224.8" cy="649.6" r="2.7" fill="#4d4d4d" fill-opacity="0.6"/>
<circle cx="270.0" cy="675.2" r="2.7" fill="#4d4d4d" fill-opacity="0.6"/>
<circle cx="259.7" cy="670.2" r="2.7" fill="#4d4d4d" fill-opacity="0.6"/>
<circle cx="319.1" cy="665.2" r="2.7" fill="#4d4d4d" fill-opacity="0.6"/>
<circle cx="231.4" cy="660.7" r="2.7" fill="#4d4d4d" fill-opacity="0.6"/>
<circle cx="252.7" cy="655.1" r="2.7" fill="#4d4d4d" fill-opacity="0.6"/>
<circle cx="224.7" cy="647.0" r="2.7" fill="#4d4d4d" fill-opacity="0.6"/>
<circle cx="248.7" cy="665.1" r="2.7" fill="#4d4d4d" fill-opacity="0.6"/>
<circle cx="279.6" cy="675.9" r="2.7" fill="#4d4d4d" fill-opacity="0.6"/>
<circle cx="240.0" cy="657.0" r="2.7" fill="#4d4d4d" fill-opacity="0.6"/>
<circle cx="224.5" cy="656.9" r="2.7" fill="#4d4d4d" fill-opacity="0.6"/>
<circle cx="236.4" cy="657.0" r="2.7" fill="#4d4d4d" fill-opacity="0.6"/>
<circle cx="311.4" cy="667.3" r="2.7" fill="#4d4d4d" fill-opacity="0.6"/>
<circle cx="300.5" cy="673.4" r="2.7" fill="#4d4d4d" fill-opacity="0.6"/>
<circle cx="267.6" cy="670.7" r="2.7" fill="#4d4d4d" fill-opacity="0.6"/>
<circle cx="235.3" cy="650.7" r="2.7" fill="#4d4d4d" fill-opacity="0.6"/>
<circle cx="266.9" cy="669.2" r="2.7" fill="#4d4d4d" fill-opacity="0.6"/>
<circle cx="313.5" cy="668.8" r="2.7" fill="#4d4d4d" fill-opacity="0.6"/>
<circle cx="233.4" cy="666.3" r="2.7" fill="#4d4d4d" fill-opacity="0.6"/>
<circle cx="257.4" cy="670.8" r="2.7" fill="#4d4d4d" fill-opacity="0.6"/>
<circle cx="282.8" cy="675.0" r="2.7" fill="#4d4d4d" fill-opacity="0.6"/>
<circle cx="256.9" cy="659.7" r="2.7" fill="#4d4d4d" fill-opacity="0.6"/>
<circle cx="263.2" cy="672.8" r="2.7" fill="#4d4d4d" fill-opacity="0.6"/>
<circle cx="259.5" cy="672.8" r="2.7" fill="#4d4d4d" fill-opacity="0.6"/>
<circle cx="229.5" cy="654.8" r="2.7" fill="#4d4d4d" fill-opacity="0.6"/>
<circle cx="231.7" cy="653.4" r="2.7" fill="#4d4d4d" fill-opacity="0.6"/>
<circle cx="328.9" cy="661.7" r="2.7" fill="#4d4d4d" fill-opacity="0.6"/>
<circle cx="311.0" cy="668.3" r="2.7" fill="#4d4d4d" fill-opacity="0.6"/>
<circle cx="237.9" cy="665.9" r="2.7" fill="#4d4d4d" fill-opacity="0.6"/>
<circle cx="220.4" cy="639.1" r="2.7" fill="#4d4d4d" fill-opacity="0.6"/>
<circle cx="319.4" cy="663.8" r="2.7" fill="#4d4d4d" fill-opacity="0.6"/>
<circle cx="224.9" cy="660.9" r="2.7" fill="#4d4d4d" fill-opacity="0.6"/>
<circle cx="228.6" cy="649.6" r="2.7" fill="#4d4d4d" fill-opacity="0.6"/>
<circle cx="272.2" cy="674.8" r="2.7" fill="#4d4d4d" fill-opacity="0.6"/>
<circle cx="316.6" cy="667.4" r="2.7" fill="#4d4d4d" fill-opacity="0.6"/>
<circle cx="234.4" cy="659.6" r="2.7" fill="#4d4d4d" fill-opacity="0.6"/>
<circle cx="332.2" cy="657.0" r="2.7" fill="#4d4d4d" fill-opacity="0.6"/>
<circle cx="251.7" cy="664.9" r="2.7" fill="#4d4d4d" fill-opacity="0.6"/>
<circle cx="224.3" cy="645.9" r="2.7" fill="#4d4d4d" fill-opacity="0.6"/>
<circle cx="276.9" cy="675.3" r="2.7" fill="#4d4d4d" fill-opacity="0.6"/>
<circle cx="335.2" cy="658.0" r="2.7" fill="#4d4d4d" fill-opacity="0.6"/>
<circle cx="258.3" cy="667.0" r="2.7" fill="#4d4d4d" fill-opacity="0.6"/>
<circle cx="227.0" cy="648.9" r="2.7" fill="#4d4d4d" fill-opacity="0.6"/>
<circle cx="329.6" cy="653.1" r="2.7" fill="#4d4d4d" fill-opacity="0.6"/>
<circle cx="249.4" cy="666.5" r="2.7" fill="#4d4d4d" fill-opacity="0.6"/>
<circle cx="221.8" cy="646.1" r="2.7" fill="#4d4d4d" fill-opacity="0.6"/>
<circle cx="330.4" cy="655.5" r="2.7" fill="#4d4d4d" fill-opacity="0.6"/>
<circle cx="296.2" cy="673.3" r="2.7" fill="#4d4d4d" fill-opacity="0.6"/>
<circle cx="327.6" cy="660.0" r="2.7" fill="#4d4d4d" fill-opacity="0.6"/>
<circle cx="236.5" cy="650.7" r="2.7" fill="#4d4d4d" fill-opacity="0.6"/>
<circle cx="222.5" cy="644.6" r="2.7" fill="#4d4d4d" fill-opacity="0.6"/>
<circle cx="241.3" cy="658.0" r="2.7" fill="#4d4d4d" fill-opacity="0.6"/>
<circle cx="219.9" cy="645.8" r="2.7" fill="#4d4d4d" fill-opacity="0.6"/>
<circle cx="240.1" cy="655.9" r="2.7" fill="#4d4d4d" fill-opacity="0.6"/>
<circle cx="262.4" cy="667.1" r="2.7" fill="#4d4d4d" fill-opacity="0.6"/>
<circle cx="244.2" cy="662.4" r="2.7" fill="#4d4d4d" fill-opacity="0.6"/>
<circle cx="301.1" cy="671.2" r="2.7" fill="#4d4d4d" fill-opacity="0.6"/>
<circle cx="335.4" cy="658.4" r="2.7" fill="#4d4d4d" fill-opacity="0.6"/>
<circle cx="256.7" cy="668.2" r="2.7" fill="#4d4d4d" fill-opacity="0.6"/>
<circle cx="313.1" cy="669.0" r="2.7" fill="#4d4d4d" fill-opacity="0.6"/>
<circle cx="231.5" cy="638.9" r="2.7" fill="#4d4d4d" fill-opacity="0.6"/>
<circle cx="231.9" cy="658.7" r="2.7" fill="#4d4d4d" fill-opacity="0.6"/>
<circle cx="234.7" cy="655.7" r="2.7" fill="#4d4d4d" fill-opacity="0.6"/>
<circle cx="241.4" cy="653.0" r="2.7" fill="#4d4d4d" fill-opacity="0.6"/>
<circle cx="258.2" cy="662.8" r="2.7" fill="#4d4d4d" fill-opacity="0.6"/>
<circle cx="336.9" cy="649.4" r="2.7" fill="#4d4d4d" fill-opacity="0.6"/>
<circle cx="243.5" cy="662.4" r="2.7" fill="#4d4d4d" fill-opacity="0.6"/>
<circle cx="255.5" cy="665.5" r="2.7" fill="#4d4d4d" fill-opacity="0.6"/>
<circle cx="219.8" cy="655.5" r="2.7" fill="#4d4d4d" fill-opacity="0.6"/>
<circle cx="222.8" cy="651.0" r="2.7" fill="#4d4d4d" fill-opacity="0.6"/>
<circle cx="332.3" cy="653.4" r="2.7" fill="#4d4d4d" fill-opacity="0.6"/>
<circle cx="220.1" cy="639.7" r="2.7" fill="#4d4d4d" fill-opacity="0.6"/>
<circle cx="278.4" cy="675.3" r="2.7" fill="#4d4d4d" fill-opacity="0.6"/>
<circle cx="314.6" cy="669.2" r="2.7" fill="#4d4d4d" fill-opacity="0.6"/>
<circle cx="236.2" cy="660.9" r="2.7" fill="#4d4d4d" fill-opacity="0.6"/>
<circle cx="282.1" cy="674.5" r="2.7" fill="#4d4d4d" fill-opacity="0.6"/>
<circle cx="259.6" cy="674.4" r="2.7" fill="#4d4d4d" fill-opacity="0.6"/>
<circle cx="220.1" cy="656.6" r="2.7" fill="#4d4d4d" fill-opacity="0.6"/>
<circle cx="232.7" cy="658.9" r="2.7" fill="#4d4d4d" fill-opacity="0.6"/>
<circle cx="312.6" cy="665.2" r="2.7" fill="#4d4d4d" fill-opacity="0.6"/>
<circle cx="221.2" cy="656.6" r="2.7" fill="#4d4d4d" fill-opacity="0.6"/>
<circle cx="320.2" cy="662.2" r="2.7" fill="#4d4d4d" fill-opacity="0.6"/>
<circle cx="257.7" cy="670.4" r="2.7" fill="#4d4d4d" fill-opacity="0.6"/>
<circle cx="332.7" cy="656.1" r="2.7" fill="#4d4d4d" fill-opacity="0.6"/>
<circle cx="307.7" cy="668.7" r="2.7" fill="#4d4d4d" fill-opacity="0.6"/>
<circle cx="335.7" cy="657.3" r="2.7" fill="#4d4d4d" fill-opacity="0.6"/>
<circle cx="270.7" cy="675.2" r="2.7" fill="#4d4d4d" fill-opacity="0.6"/>
<circle cx="228.6" cy="652.0" r="2.7" fill="#4d4d4d" fill-opacity="0.6"/>
<circle cx="256.1" cy="671.9" r="2.7" fill="#4d4d4d" fill-opacity="0.6"/>
<circle cx="246.3" cy="664.1" r="2.7" fill="#4d4d4d" fill-opacity="0.6"/>
<circle cx="265.9" cy="673.9" r="2.7" fill="#4d4d4d" fill-opacity="0.6"/>
<circle cx="239.8" cy="668.5" r="2.7" fill="#4d4d4d" fill-opacity="0.6"/>
<circle cx="279.4" cy="675.3" r="2.7" fill="#4d4d4d" fill-opacity="0.6"/>
<circle cx="262.6" cy="672.8" r="2.7" fill="#4d4d4d" fill-opacity="0.6"/>
<circle cx="234.5" cy="657.0" r="2.7" fill="#4d4d4d" fill-opacity="0.6"/>
<circle cx="235.0" cy="665.2" r="2.7" fill="#4d4d4d" fill-opacity="0.6"/>
<circle cx="277.6" cy="675.7" r="2.7" fill="#4d4d4d" fill-opacity="0.6"/>
<circle cx="243.7" cy="666.0" r="2.7" fill="#4d4d4d" fill-opacity="0.6"/>
<circle cx="250.1" cy="660.7" r="2.7" fill="#4d4d4d" fill-opacity="0.6"/>
<circle cx="261.8" cy="671.7" r="2.7" fill="#4d4d4d" fill-opacity="0.6"/>
<circle cx="221.8" cy="647.7" r="2.7" fill="#4d4d4d" fill-opacity="0.6"/>
<circle cx="219.9" cy="637.0" r="2.7" fill="#4d4d4d" fill-opacity="0.6"/>
<circle cx="324.3" cy="660.5" r="2.7" fill="#4d4d4d" fill-opacity="0.6"/>
<circle cx="233.4" cy="654.6" r="2.7" fill="#4d4d4d" fill-opacity="0.6"/>
<circle cx="264.0" cy="675.3" r="2.7" fill="#4d4d4d" fill-opacity="0.6"/>
<circle cx="228.5" cy="653.6" r="2.7" fill="#4d4d4d" fill-opacity="0.6"/>
<circle cx="239.8" cy="662.5" r="2.7" fill="#4d4d4d" fill-opacity="0.6"/>
<circle cx="250.1" cy="672.5" r="2.7" fill="#4d4d4d" fill-opacity="0.6"/>
<circle cx="264.4" cy="670.7" r="2.7" fill="#4d4d4d" fill-opacity="0.6"/>
<circle cx="235.6" cy="651.7" r="2.7" fill="#4d4d4d" fill-opacity="0.6"/>
<circle cx="307.9" cy="668.4" r="2.7" fill="#4d4d4d" fill-opacity="0.6"/>
<circle cx="248.0" cy="661.4" r="2.7" fill="#4d4d4d" fill-opacity="0.6"/>
<circle cx="228.6" cy="660.6" r="2.7" fill="#4d4d4d" fill-opacity="0.6"/>
<circle cx="229.9" cy="645.8" r="2.7" fill="#4d4d4d" fill-opacity="0.6"/>
<circle cx="222.7" cy="638.6" r="2.7" fill="#4d4d4d" fill-opacity="0.6"/>
<circle cx="229.0" cy="648.3" r="2.7" fill="#4d4d4d" fill-opacity="0.6"/>
<circle cx="247.8" cy="657.4" r="2.7" fill="#4d4d4d" fill-opacity="0.6"/>
<circle cx="330.7" cy="657.6" r="2.7" fill="#4d4d4d" fill-opacity="0.6"/>
<circle cx="308.8" cy="667.5" r="2.7" fill="#4d4d4d" fill-opacity="0.6"/>
<circle cx="261.6" cy="667.3" r="2.7" fill="#4d4d4d" fill-opacity="0.6"/>
<circle cx="255.8" cy="664.3" r="2.7" fill="#4d4d4d" fill-opacity="0.6"/>
<circle cx="239.8" cy="659.0" r="2.7" fill="#4d4d4d" fill-opacity="0.6"/>
<circle cx="235.3" cy="642.1" r="2.7" fill="#4d4d4d" fill-opacity="0.6"/>
<circle cx="252.6" cy="659.9" r="2.7" fill="#4d4d4d" fill-opacity="0.6"/>
<circle cx="220.2" cy="649.3" r="2.7" fill="#4d4d4d" fill-opacity="0.6"/>
<circle cx="333.0" cy="659.7" r="2.7" fill="#4d4d4d" fill-opacity="0.6"/>
<circle cx="227.4" cy="643.8" r="2.7" fill="#4d4d4d" fill-opacity="0.6"/>
<circle cx="262.9" cy="672.5" r="2.7" fill="#4d4d4d" fill-opacity="0.6"/>
<circle cx="324.5" cy="662.5" r="2.7" fill="#4d4d4d" fill-opacity="0.6"/>
<circle cx="334.8" cy="659.2" r="2.7" fill="#4d4d4d" fill-opacity="0.6"/>
<circle cx="228.4" cy="654.6" r="2.7" fill="#4d4d4d" fill-opacity="0.6"/>
<circle cx="312.7" cy="665.3" r="2.7" fill="#4d4d4d" fill-opacity="0.6"/>
<circle cx="249.9" cy="661.3" r="2.7" fill="#4d4d4d" fill-opacity="0.6"/>
<circle cx="237.3" cy="657.0" r="2.7" fill="#4d4d4d" fill-opacity="0.6"/>
<circle cx="274.6" cy="674.5" r="2.7" fill="#4d4d4d" fill-opacity="0.6"/>
<circle cx="238.9" cy="670.7" r="2.7" fill="#4d4d4d" fill-opacity="0.6"/>
<circle cx="235.7" cy="649.5" r="2.7" fill="#4d4d4d" fill-opacity="0.6"/>
<circle cx="274.8" cy="674.1" r="2.7" fill="#4d4d4d" fill-opacity="0.6"/>
<circle cx="335.2" cy="651.8" r="2.7" fill="#4d4d4d" fill-opacity="0.6"/>
<circle cx="325.8" cy="663.4" r="2.7" fill="#4d4d4d" fill-opacity="0.6"/>
<circle cx="231.9" cy="641.3" r="2.7" fill="#4d4d4d" fill-opacity="0.6"/>
<circle cx="241.4" cy="658.4" r="2.7" fill="#4d4d4d" fill-opacity="0.6"/>
<circle cx="335.2" cy="653.5" r="2.7" fill="#4d4d4d" fill-opacity="0.6"/>
<circle cx="328.2" cy="659.6" r="2.7" fill="#4d4d4d" fill-opacity="0.6"/>
<circle cx="322.6" cy="664.6" r="2.7" fill="#4d4d4d" fill-opacity="0.6"/>
<circle cx="228.5" cy="653.1" r="2.7" fill="#4d4d4d" fill-opacity="0.6"/>
<circle cx="333.7" cy="655.6" r="2.7" fill="#4d4d4d" fill-opacity="0.6"/>
<circle cx="231.1" cy="651.7" r="2.7" fill="#4d4d4d" fill-opacity="0.6"/>
<circle cx="233.7" cy="660.0" r="2.7" fill="#4d4d4d" fill-opacity="0.6"/>
<circle cx="233.5" cy="656.5" r="2.7" fill="#4d4d4d" fill-opacity="0.6"/>
<circle cx="234.8" cy="645.9" r="2.7" fill="#4d4d4d" fill-opacity="0.6"/>
<circle cx="220.8" cy="635.8" r="2.7" fill="#4d4d4d" fill-opacity="0.6"/>
<circle cx="333.8" cy="655.1" r="2.7" fill="#4d4d4d" fill-opacity="0.6"/>
<circle cx="291.0" cy="675.2" r="2.7" fill="#4d4d4d" fill-opacity="0.6"/>
<circle cx="233.0" cy="652.8" r="2.7" fill="#4d4d4d" fill-opacity="0.6"/>
<circle cx="232.1" cy="651.7" r="2.7" fill="#4d4d4d" fill-opacity="0.6"/>
<circle cx="294.6" cy="672.1" r="2.7" fill="#4d4d4d" fill-opacity="0.6"/>
<circle cx="222.0" cy="644.8" r="2.7" fill="#4d4d4d" fill-opacity="0.6"/>
<circle cx="249.7" cy="659.3" r="2.7" fill="#4d4d4d" fill-opacity="0.6"/>
<circle cx="261.3" cy="668.1" r="2.7" fill="#4d4d4d" fill-opacity="0.6"/>
<circle cx="329.7" cy="662.8" r="2.7" fill="#4d4d4d" fill-opacity="0.6"/>
<circle cx="222.5" cy="653.9" r="2.7" fill="#4d4d4d" fill-opacity="0.6"/>
<circle cx="238.4" cy="660.0" r="2.7" fill="#4d4d4d" fill-opacity="0.6"/>
<circle cx="288.3" cy="673.1" r="2.7" fill="#4d4d4d" fill-opacity="0.6"/>
<circle cx="245.1" cy="668.7" r="2.7" fill="#4d4d4d" fill-opacity="0.6"/>
<circle cx="252.6" cy="665.6" r="2.7" fill="#4d4d4d" fill-opacity="0.6"/>
<circle cx="219.9" cy="650.6" r="2.7" fill="#4d4d4d" fill-opacity="0.6"/>
<circle cx="229.8" cy="662.7" r="2.7" fill="#4d4d4d" fill-opacity="0.6"/>
<circle cx="223.8" cy="655.2" r="2.7" fill="#4d4d4d" fill-opacity="0.6"/>
<circle cx="224.8" cy="640.7" r="2.7" fill="#4d4d4d" fill-opacity="0.6"/>
<circle cx="229.9" cy="655.4" r="2.7" fill="#4d4d4d" fill-opacity="0.6"/>
<circle cx="302.3" cy="669.6" r="2.7" fill="#4d4d4d" fill-opacity="0.6"/>
<circle cx="227.1" cy="661.6" r="2.7" fill="#4d4d4d" fill-opacity="0.6"/>
<circle cx="322.5" cy="663.3" r="2.7" fill="#4d4d4d" fill-opacity="0.6"/>
<circle cx="287.2" cy="674.2" r="2.7" fill="#4d4d4d" fill-opacity="0.6"/>
<circle cx="274.1" cy="675.2" r="2.7" fill="#4d4d4d" fill-opacity="0.6"/>
<circle cx="277.4" cy="675.6" r="2.7" fill="#4d4d4d" fill-opacity="0.6"/>
<circle cx="252.0" cy="661.2" r="2.7" fill="#4d4d4d" fill-opacity="0.6"/>
<circle cx="303.5" cy="671.2" r="2.7" fill="#4d4d4d" fill-opacity="0.6"/>
<circle cx="296.8" cy="673.1" r="2.7" fill="#4d4d4d" fill-opacity="0.6"/>
<circle cx="255.5" cy="657.5" r="2.7" fill="#4d4d4d" fill-opacity="0.6"/>
<circle cx="310.8" cy="668.6" r="2.7" fill="#4d4d4d" fill-opacity="0.6"/>
<circle cx="280.9" cy="675.4" r="2.7" fill="#4d4d4d" fill-opacity="0.6"/>
<circle cx="222.2" cy="644.4" r="2.7" fill="#4d4d4d" fill-opacity="0.6"/>
<circle cx="249.5" cy="661.4" r="2.7" fill="#4d4d4d" fill-opacity="0.6"/>
<circle cx="322.9" cy="664.3" r="2.7" fill="#4d4d4d" fill-opacity="0.6"/>
<circle cx="250.0" cy="660.8" r="2.7" fill="#4d4d4d" fill-opacity="0.6"/>
<circle cx="333.5" cy="653.0" r="2.7" fill="#4d4d4d" fill-opacity="0.6"/>
<circle cx="280.0" cy="675.4" r="2.7" fill="#4d4d4d" fill-opacity="0.6"/>
<circle cx="225.8" cy="653.0" r="2.7" fill="#4d4d4d" fill-opacity="0.6"/>
<circle cx="320.1" cy="667.2" r="2.7" fill="#4d4d4d" fill-opacity="0.6"/>
<circle cx="257.9" cy="665.1" r="2.7" fill="#4d4d4d" fill-opacity="0.6"/>
<circle cx="296.5" cy="674.1" r="2.7" fill="#4d4d4d" fill-opacity="0.6"/>
<circle cx="333.9" cy="659.3" r="2.7" fill="#4d4d4d" fill-opacity="0.6"/>
<circle cx="294.2" cy="671.6" r="2.7" fill="#4d4d4d" fill-opacity="0.6"/>
<circle cx="240.5" cy="655.6" r="2.7" fill="#4d4d4d" fill-opacity="0.6"/>
<circle cx="336.3" cy="656.8" r="2.7" fill="#4d4d4d" fill-opacity="0.6"/>
<circle cx="261.7" cy="669.8" r="2.7" fill="#4d4d4d" fill-opacity="0.6"/>
<circle cx="252.2" cy="661.5" r="2.7" fill="#4d4d4d" fill-opacity="0.6"/>
<circle cx="236.8" cy="657.1" r="2.7" fill="#4d4d4d" fill-opacity="0.6"/>
<circle cx="224.9" cy="653.9" r="2.7" fill="#4d4d4d" fill-opacity="0.6"/>
<circle cx="242.0" cy="663.3" r="2.7" fill="#4d4d4d" fill-opacity="0.6"/>
<circle cx="304.3" cy="669.6" r="2.7" fill="#4d4d4d" fill-opacity="0.6"/>
<circle cx="328.5" cy="657.9" r="2.7" fill="#4d4d4d" fill-opacity="0.6"/>
<circle cx="270.0" cy="673.6" r="2.7" fill="#4d4d4d" fill-opacity="0.6"/>
<circle cx="241.2" cy="661.6" r="2.7" fill="#4d4d4d" fill-opacity="0.6"/>
<circle cx="326.2" cy="661.7" r="2.7" fill="#4d4d4d" fill-opacity="0.6"/>
<circle cx="236.6" cy="660.5" r="2.7" fill="#4d4d4d" fill-opacity="0.6"/>
<circle cx="230.4" cy="659.9" r="2.7" fill="#4d4d4d" fill-opacity="0.6"/>
<circle cx="294.6" cy="672.5" r="2.7" fill="#4d4d4d" fill-opacity="0.6"/>
<circle cx="263.4" cy="667.5" r="2.7" fill="#4d4d4d" fill-opacity="0.6"/>
<circle cx="244.2" cy="660.4" r="2.7" fill="#4d4d4d" fill-opacity="0.6"/>
<circle cx="318.0" cy="668.9" r="2.7" fill="#4d4d4d" fill-opacity="0.6"/>
<circle cx="269.5" cy="676.5" r="2.7" fill="#4d4d4d" fill-opacity="0.6"/>
<circle cx="229.0" cy="638.6" r="2.7" fill="#4d4d4d" fill-opacity="0.6"/>
<circle cx="243.4" cy="658.9" r="2.7" fill="#4d4d4d" fill-opacity="0.6"/>
<circle cx="223.4" cy="646.8" r="2.7" fill="#4d4d4d" fill-opacity="0.6"/>
<circle cx="232.8" cy="646.4" r="2.7" fill="#4d4d4d" fill-opacity="0.6"/>
<circle cx="330.0" cy="655.7" r="2.7" fill="#4d4d4d" fill-opacity="0.6"/>
<circle cx="278.9" cy="675.3" r="2.7" fill="#4d4d4d" fill-opacity="0.6"/>
<circle cx="260.4" cy="670.9" r="2.7" fill="#4d4d4d" fill-opacity="0.6"/>
<circle cx="243.1" cy="671.8" r="2.7" fill="#4d4d4d" fill-opacity="0.6"/>
<circle cx="305.9" cy="669.5" r="2.7" fill="#4d4d4d" fill-opacity="0.6"/>
<circle cx="222.2" cy="648.0" r="2.7" fill="#4d4d4d" fill-opacity="0.6"/>
<circle cx="280.9" cy="676.5" r="2.7" fill="#4d4d4d" fill-opacity="0.6"/>
<circle cx="320.3" cy="664.3" r="2.7" fill="#4d4d4d" fill-opacity="0.6"/>
<circle cx="245.0" cy="667.4" r="2.7" fill="#4d4d4d" fill-opacity="0.6"/>
<circle cx="331.2" cy="659.8" r="2.7" fill="#4d4d4d" fill-opacity="0.6"/>
<circle cx="322.2" cy="666.0" r="2.7" fill="#4d4d4d" fill-opacity="0.6"/>
<circle cx="246.0" cy="661.9" r="2.7" fill="#4d4d4d" fill-opacity="0.6"/>
<circle cx="300.6" cy="670.1" r="2.7" fill="#4d4d4d" fill-opacity="0.6"/>
<circle cx="261.1" cy="661.9" r="2.7" fill="#4d4d4d" fill-opacity="0.6"/>
<circle cx="230.4" cy="664.0" r="2.7" fill="#4d4d4d" fill-opacity="0.6"/>
<circle cx="320.4" cy="662.5" r="2.7" fill="#4d4d4d" fill-opacity="0.6"/>
<circle cx="245.9" cy="659.9" r="2.7" fill="#4d4d4d" fill-opacity="0.6"/>
<circle cx="332.2" cy="653.4" r="2.7" fill="#4d4d4d" fill-opacity="0.6"/>
<circle cx="227.1" cy="660.0" r="2.7" fill="#4d4d4d" fill-opacity="0.6"/>
<circle cx="280.3" cy="676.9" r="2.7" fill="#4d4d4d" fill-opacity="0.6"/>
<circle cx="251.5" cy="665.6" r="2.7" fill="#4d4d4d" fill-opacity="0.6"/>
<circle cx="247.0" cy="665.8" r="2.7" fill="#4d4d4d" fill-opacity="0.6"/>
<circle cx="232.8" cy="652.6" r="2.7" fill="#4d4d4d" fill-opacity="0.6"/>
<circle cx="241.1" cy="657.4" r="2.7" fill="#4d4d4d" fill-opacity="0.6"/>
<circle cx="226.9" cy="649.5" r="2.7" fill="#4d4d4d" fill-opacity="0.6"/>
<circle cx="238.5" cy="664.7" r="2.7" fill="#4d4d4d" fill-opacity="0.6"/>
<circle cx="243.2" cy="660.5" r="2.7" fill="#4d4d4d" fill-opacity="0.6"/>
<circle cx="307.9" cy="668.4" r="2.7" fill="#4d4d4d" fill-opacity="0.6"/>
<circle cx="234.1" cy="661.7" r="2.7" fill="#4d4d4d" fill-opacity="0.6"/>
<circle cx="318.6" cy="666.5" r="2.7" fill="#4d4d4d" fill-opacity="0.6"/>
<circle cx="239.5" cy="659.4" r="2.7" fill="#4d4d4d" fill-opacity="0.6"/>
<circle cx="316.7" cy="667.4" r="2.7" fill="#4d4d4d" fill-opacity="0.6"/>
<circle cx="236.1" cy="656.1" r="2.7" fill="#4d4d4d" fill-opacity="0.6"/>
<circle cx="307.6" cy="669.1" r="2.7" fill="#4d4d4d" fill-opacity="0.6"/>
<circle cx="243.8" cy="664.7" r="2.7" fill="#4d4d4d" fill-opacity="0.6"/>
<circle cx="251.2" cy="660.8" r="2.7" fill="#4d4d4d" fill-opacity="0.6"/>
<circle cx="293.7" cy="672.0" r="2.7" fill="#4d4d4d" fill-opacity="0.6"/>
<circle cx="228.1" cy="650.9" r="2.7" fill="#4d4d4d" fill-opacity="0.6"/>
<circle cx="323.1" cy="664.3" r="2.7" fill="#4d4d4d" fill-opacity="0.6"/>
<circle cx="220.5" cy="641.8" r="2.7" fill="#4d4d4d" fill-opacity="0.6"/>
<circle cx="333.4" cy="654.5" r="2.7" fill="#4d4d4d" fill-opacity="0.6"/>
<circle cx="223.4" cy="650.0" r="2.7" fill="#4d4d4d" fill-opacity="0.6"/>
<circle cx="299.5" cy="672.3" r="2.7" fill="#4d4d4d" fill-opacity="0.6"/>
<circle cx="299.2" cy="671.5" r="2.7" fill="#4d4d4d" fill-opacity="0.6"/>
<circle cx="281.5" cy="676.2" r="2.7" fill="#4d4d4d" fill-opacity="0.6"/>
<circle cx="259.5" cy="662.4" r="2.7" fill="#4d4d4d" fill-opacity="0.6"/>
<circle cx="285.7" cy="674.8" r="2.7" fill="#4d4d4d" fill-opacity="0.6"/>
<circle cx="221.3" cy="657.5" r="2.7" fill="#4d4d4d" fill-opacity="0.6"/>
<circle cx="272.4" cy="674.4" r="2.7" fill="#4d4d4d" fill-opacity="0.6"/>
<circle cx="256.0" cy="664.5" r="2.7" fill="#4d4d4d" fill-opacity="0.6"/>
<circle cx="319.3" cy="662.8" r="2.7" fill="#4d4d4d" fill-opacity="0.6"/>
<circle cx="226.9" cy="643.5" r="2.7" fill="#4d4d4d" fill-opacity="0.6"/>
<circle cx="324.1" cy="662.8" r="2.7" fill="#4d4d4d" fill-opacity="0.6"/>
<circle cx="327.6" cy="662.3" r="2.7" fill="#4d4d4d" fill-opacity="0.6"/>
<circle cx="336.1" cy="656.5" r="2.7" fill="#4d4d4d" fill-opacity="0.6"/>
<circle cx="278.6" cy="675.9" r="2.7" fill="#4d4d4d" fill-opacity="0.6"/>
<circle cx="249.4" cy="661.5" r="2.7" fill="#4d4d4d" fill-opacity="0.6"/>
<circle cx="234.1" cy="651.4" r="2.7" fill="#4d4d4d" fill-opacity="0.6"/>
<circle cx="230.3" cy="663.7" r="2.7" fill="#4d4d4d" fill-opacity="0.6"/>
<circle cx="322.8" cy="665.7" r="2.7" fill="#4d4d4d" fill-opacity="0.6"/>
<circle cx="315.9" cy="669.9" r="2.7" fill="#4d4d4d" fill-opacity="0.6"/>
<circle cx="308.1" cy="670.3" r="2.7" fill="#4d4d4d" fill-opacity="0.6"/>
<circle cx="238.3" cy="627.8" r="2.7" fill="#4d4d4d" fill-opacity="0.6"/>
<circle cx="245.7" cy="628.5" r="2.7" fill="#4d4d4d" fill-opacity="0.6"/>
<circle cx="248.4" cy="629.1" r="2.7" fill="#4d4d4d" fill-opacity="0.6"/>
<circle cx="238.5" cy="637.9" r="2.7" fill="#4d4d4d" fill-opacity="0.6"/>
<circle cx="248.4" cy="637.9" r="2.7" fill="#4d4d4d" fill-opacity="0.6"/>
<circle cx="252.4" cy="647.3" r="2.7" fill="#4d4d4d" fill-opacity="0.6"/>
<circle cx="255.8" cy="654.0" r="2.7" fill="#4d4d4d" fill-opacity="0.6"/>
<circle cx="260.5" cy="662.1" r="2.7" fill="#4d4d4d" fill-opacity="0.6"/>
<circle cx="241.0" cy="672.9" r="2.7" fill="#4d4d4d" fill-opacity="0.6"/>
<circle cx="226.2" cy="665.5" r="2.7" fill="#4d4d4d" fill-opacity="0.6"/>
<circle cx="314.3" cy="635.5" r="2.7" fill="#4d4d4d" fill-opacity="0.6"/>
<circle cx="326.1" cy="642.2" r="2.7" fill="#4d4d4d" fill-opacity="0.6"/>
<circle cx="310.7" cy="661.0" r="2.7" fill="#4d4d4d" fill-opacity="0.6"/>
<circle cx="327.5" cy="667.1" r="2.7" fill="#4d4d4d" fill-opacity="0.6"/>
<circle cx="302.6" cy="663.0" r="2.7" fill="#4d4d4d" fill-opacity="0.6"/>
<circle cx="233.0" cy="630.0" r="2.7" fill="#4d4d4d" fill-opacity="0.6"/>
<circle cx="229.0" cy="626.8" r="2.7" fill="#4d4d4d" fill-opacity="0.6"/>
<circle cx="243.0" cy="634.0" r="2.7" fill="#4d4d4d" fill-opacity="0.6"/>
<circle cx="231.0" cy="669.5" r="2.7" fill="#4d4d4d" fill-opacity="0.6"/>
<circle cx="250.0" cy="675.0" r="2.7" fill="#4d4d4d" fill-opacity="0.6"/>
<circle cx="262.0" cy="672.0" r="2.7" fill="#4d4d4d" fill-opacity="0.6"/>
<circle cx="268.0" cy="660.0" r="2.7" fill="#4d4d4d" fill-opacity="0.6"/>
<circle cx="335.0" cy="641.0" r="2.7" fill="#4d4d4d" fill-opacity="0.6"/>
<circle cx="330.0" cy="644.0" r="2.7" fill="#4d4d4d" fill-opacity="0.6"/>
<circle cx="320.0" cy="664.0" r="2.7" fill="#4d4d4d" fill-opacity="0.6"/>
<circle cx="305.0" cy="670.5" r="2.7" fill="#4d4d4d" fill-opacity="0.6"/>
<circle cx="290.0" cy="678.5" r="2.7" fill="#4d4d4d" fill-opacity="0.6"/>
<circle cx="299.0" cy="664.5" r="2.7" fill="#4d4d4d" fill-opacity="0.6"/>
<circle cx="223.0" cy="627.5" r="2.7" fill="#4d4d4d" fill-opacity="0.6"/>
<circle cx="227.0" cy="631.0" r="2.7" fill="#4d4d4d" fill-opacity="0.6"/>
<circle cx="221.5" cy="633.0" r="2.7" fill="#4d4d4d" fill-opacity="0.6"/>
<circle cx="230.0" cy="634.0" r="2.7" fill="#4d4d4d" fill-opacity="0.6"/>
<circle cx="236.0" cy="633.5" r="2.7" fill="#4d4d4d" fill-opacity="0.6"/>
<circle cx="333.0" cy="646.0" r="2.7" fill="#4d4d4d" fill-opacity="0.6"/>
<circle cx="336.0" cy="649.0" r="2.7" fill="#4d4d4d" fill-opacity="0.6"/>
<circle cx="329.0" cy="649.0" r="2.7" fill="#4d4d4d" fill-opacity="0.6"/>
<circle cx="203.3" cy="633.6" r="2.7" fill="#228b22" fill-opacity="0.6"/>
<circle cx="193.9" cy="633.0" r="2.7" fill="#228b22" fill-opacity="0.6"/>
<circle cx="212.8" cy="646.8" r="2.7" fill="#228b22" fill-opacity="0.6"/>
<circle cx="204.2" cy="646.5" r="2.7" fill="#228b22" fill-opacity="0.6"/>
<circle cx="208.4" cy="643.0" r="2.7" fill="#228b22" fill-opacity="0.6"/>
<circle cx="199.3" cy="642.2" r="2.7" fill="#228b22" fill-opacity="0.6"/>
<circle cx="207.3" cy="643.6" r="2.7" fill="#228b22" fill-opacity="0.6"/>
<circle cx="184.3" cy="643.0" r="2.7" fill="#228b22" fill-opacity="0.6"/>
<circle cx="205.5" cy="632.9" r="2.7" fill="#228b22" fill-opacity="0.6"/>
<circle cx="195.4" cy="645.3" r="2.7" fill="#228b22" fill-opacity="0.6"/>
<circle cx="198.8" cy="641.2" r="2.7" fill="#228b22" fill-opacity="0.6"/>
<circle cx="195.5" cy="648.7" r="2.7" fill="#228b22" fill-opacity="0.6"/>
<circle cx="213.3" cy="643.0" r="2.7" fill="#228b22" fill-opacity="0.6"/>
<circle cx="208.6" cy="648.4" r="2.7" fill="#228b22" fill-opacity="0.6"/>
<circle cx="176.7" cy="634.5" r="2.7" fill="#228b22" fill-opacity="0.6"/>
<circle cx="186.1" cy="637.7" r="2.7" fill="#228b22" fill-opacity="0.6"/>
<circle cx="194.6" cy="635.7" r="2.7" fill="#228b22" fill-opacity="0.6"/>
<circle cx="215.4" cy="631.3" r="2.7" fill="#228b22" fill-opacity="0.6"/>
<circle cx="209.6" cy="636.6" r="2.7" fill="#228b22" fill-opacity="0.6"/>
<circle cx="190.9" cy="637.6" r="2.7" fill="#228b22" fill-opacity="0.6"/>
<circle cx="213.9" cy="656.2" r="2.7" fill="#228b22" fill-opacity="0.6"/>
<circle cx="207.8" cy="631.8" r="2.7" fill="#228b22" fill-opacity="0.6"/>
<circle cx="180.6" cy="637.2" r="2.7" fill="#228b22" fill-opacity="0.6"/>
<circle cx="179.5" cy="641.7" r="2.7" fill="#228b22" fill-opacity="0.6"/>
<circle cx="190.7" cy="634.1" r="2.7" fill="#228b22" fill-opacity="0.6"/>
<circle cx="203.9" cy="636.8" r="2.7" fill="#228b22" fill-opacity="0.6"/>
<circle cx="207.2" cy="655.0" r="2.7" fill="#228b22" fill-opacity="0.6"/>
<circle cx="185.1" cy="634.7" r="2.7" fill="#228b22" fill-opacity="0.6"/>
<circle cx="204.4" cy="630.8" r="2.7" fill="#228b22" fill-opacity="0.6"/>
<circle cx="184.6" cy="640.0" r="2.7" fill="#228b22" fill-opacity="0.6"/>
<circle cx="199.4" cy="628.6" r="2.7" fill="#228b22" fill-opacity="0.6"/>
<circle cx="210.0" cy="650.7" r="2.7" fill="#228b22" fill-opacity="0.6"/>
<circle cx="179.6" cy="634.0" r="2.7" fill="#228b22" fill-opacity="0.6"/>
<circle cx="174.9" cy="632.2" r="2.7" fill="#228b22" fill-opacity="0.6"/>
<circle cx="208.9" cy="635.4" r="2.7" fill="#228b22" fill-opacity="0.6"/>
<circle cx="177.7" cy="638.6" r="2.7" fill="#228b22" fill-opacity="0.6"/>
<circle cx="209.7" cy="629.3" r="2.7" fill="#228b22" fill-opacity="0.6"/>
<circle cx="208.9" cy="644.0" r="2.7" fill="#228b22" fill-opacity="0.6"/>
<circle cx="209.3" cy="637.1" r="2.7" fill="#228b22" fill-opacity="0.6"/>
<circle cx="173.0" cy="629.3" r="2.7" fill="#228b22" fill-opacity="0.6"/>
<circle cx="205.7" cy="642.7" r="2.7" fill="#228b22" fill-opacity="0.6"/>
<circle cx="207.7" cy="632.6" r="2.7" fill="#228b22" fill-opacity="0.6"/>
<circle cx="184.4" cy="633.0" r="2.7" fill="#228b22" fill-opacity="0.6"/>
<circle cx="211.8" cy="649.2" r="2.7" fill="#228b22" fill-opacity="0.6"/>
<circle cx="205.5" cy="648.6" r="2.7" fill="#228b22" fill-opacity="0.6"/>
<circle cx="201.7" cy="648.9" r="2.7" fill="#228b22" fill-opacity="0.6"/>
<circle cx="214.1" cy="637.9" r="2.7" fill="#228b22" fill-opacity="0.6"/>
<circle cx="195.9" cy="647.5" r="2.7" fill="#228b22" fill-opacity="0.6"/>
<circle cx="215.4" cy="647.4" r="2.7" fill="#228b22" fill-opacity="0.6"/>
<circle cx="197.3" cy="639.7" r="2.7" fill="#228b22" fill-opacity="0.6"/>
<circle cx="187.1" cy="639.0" r="2.7" fill="#228b22" fill-opacity="0.6"/>
<circle cx="181.6" cy="636.3" r="2.7" fill="#228b22" fill-opacity="0.6"/>
<circle cx="206.9" cy="655.2" r="2.7" fill="#228b22" fill-opacity="0.6"/>
<circle cx="206.7" cy="651.8" r="2.7" fill="#228b22" fill-opacity="0.6"/>
<circle cx="189.6" cy="631.5" r="2.7" fill="#228b22" fill-opacity="0.6"/>
<circle cx="202.4" cy="637.4" r="2.7" fill="#228b22" fill-opacity="0.6"/>
<circle cx="202.8" cy="650.9" r="2.7" fill="#228b22" fill-opacity="0.6"/>
<circle cx="198.3" cy="650.8" r="2.7" fill="#228b22" fill-opacity="0.6"/>
<circle cx="198.9" cy="645.7" r="2.7" fill="#228b22" fill-opacity="0.6"/>
<circle cx="180.1" cy="629.0" r="2.7" fill="#228b22" fill-opacity="0.6"/>
<circle cx="204.9" cy="650.0" r="2.7" fill="#228b22" fill-opacity="0.6"/>
<circle cx="203.0" cy="634.4" r="2.7" fill="#228b22" fill-opacity="0.6"/>
<circle cx="196.6" cy="628.4" r="2.7" fill="#228b22" fill-opacity="0.6"/>
<circle cx="191.1" cy="648.0" r="2.7" fill="#228b22" fill-opacity="0.6"/>
<circle cx="212.6" cy="628.5" r="2.7" fill="#228b22" fill-opacity="0.6"/>
<circle cx="216.1" cy="637.3" r="2.7" fill="#228b22" fill-opacity="0.6"/>
<circle cx="181.0" cy="630.8" r="2.7" fill="#228b22" fill-opacity="0.6"/>
<circle cx="181.5" cy="639.8" r="2.7" fill="#228b22" fill-opacity="0.6"/>
<circle cx="191.5" cy="647.7" r="2.7" fill="#228b22" fill-opacity="0.6"/>
<circle cx="172.1" cy="630.4" r="2.7" fill="#228b22" fill-opacity="0.6"/>
<circle cx="209.8" cy="629.8" r="2.7" fill="#228b22" fill-opacity="0.6"/>
<circle cx="185.4" cy="643.4" r="2.7" fill="#228b22" fill-opacity="0.6"/>
<circle cx="190.4" cy="629.0" r="2.7" fill="#228b22" fill-opacity="0.6"/>
<circle cx="194.0" cy="638.3" r="2.7" fill="#228b22" fill-opacity="0.6"/>
<circle cx="179.6" cy="628.5" r="2.7" fill="#228b22" fill-opacity="0.6"/>
<circle cx="208.3" cy="629.7" r="2.7" fill="#228b22" fill-opacity="0.6"/>
<circle cx="196.9" cy="637.8" r="2.7" fill="#228b22" fill-opacity="0.6"/>
<circle cx="200.0" cy="634.5" r="2.7" fill="#228b22" fill-opacity="0.6"/>
<circle cx="192.0" cy="643.4" r="2.7" fill="#228b22" fill-opacity="0.6"/>
<circle cx="189.2" cy="644.6" r="2.7" fill="#228b22" fill-opacity="0.6"/>
<circle cx="195.3" cy="650.9" r="2.7" fill="#228b22" fill-opacity="0.6"/>
<circle cx="210.0" cy="650.3" r="2.7" fill="#228b22" fill-opacity="0.6"/>
<circle cx="179.4" cy="637.6" r="2.7" fill="#228b22" fill-opacity="0.6"/>
<circle cx="213.1" cy="629.0" r="2.7" fill="#228b22" fill-opacity="0.6"/>
<circle cx="216.6" cy="657.3" r="2.7" fill="#228b22" fill-opacity="0.6"/>
<circle cx="216.2" cy="640.8" r="2.7" fill="#228b22" fill-opacity="0.6"/>
<circle cx="208.5" cy="647.4" r="2.7" fill="#228b22" fill-opacity="0.6"/>
<circle cx="208.3" cy="630.9" r="2.7" fill="#228b22" fill-opacity="0.6"/>
<circle cx="200.1" cy="648.7" r="2.7" fill="#228b22" fill-opacity="0.6"/>
<circle cx="203.3" cy="640.5" r="2.7" fill="#228b22" fill-opacity="0.6"/>
<circle cx="191.1" cy="641.4" r="2.7" fill="#228b22" fill-opacity="0.6"/>
<circle cx="177.0" cy="628.5" r="2.7" fill="#228b22" fill-opacity="0.6"/>
<circle cx="184.4" cy="631.7" r="2.7" fill="#228b22" fill-opacity="0.6"/>
<circle cx="214.2" cy="638.0" r="2.7" fill="#228b22" fill-opacity="0.6"/>
<circle cx="213.0" cy="644.6" r="2.7" fill="#228b22" fill-opacity="0.6"/>
<circle cx="129.7" cy="650.5" r="2.7" fill="#228b22" fill-opacity="0.6"/>
<circle cx="120.4" cy="626.9" r="2.7" fill="#228b22" fill-opacity="0.6"/>
<circle cx="176.7" cy="641.0" r="2.7" fill="#228b22" fill-opacity="0.6"/>
<circle cx="193.3" cy="649.0" r="2.7" fill="#228b22" fill-opacity="0.6"/>
<circle cx="217.5" cy="657.5" r="2.7" fill="#228b22" fill-opacity="0.6"/>
<circle cx="360.6" cy="627.0" r="2.7" fill="#228b22" fill-opacity="0.6"/>
<circle cx="365.8" cy="628.3" r="2.7" fill="#228b22" fill-opacity="0.6"/>
<circle cx="365.8" cy="631.7" r="2.7" fill="#228b22" fill-opacity="0.6"/>
<circle cx="376.2" cy="629.4" r="2.7" fill="#228b22" fill-opacity="0.6"/>
<circle cx="356.5" cy="632.3" r="2.7" fill="#228b22" fill-opacity="0.6"/>
<circle cx="353.1" cy="635.2" r="2.7" fill="#228b22" fill-opacity="0.6"/>
<circle cx="349.0" cy="635.2" r="2.7" fill="#228b22" fill-opacity="0.6"/>
<circle cx="354.8" cy="638.1" r="2.7" fill="#228b22" fill-opacity="0.6"/>
<circle cx="362.3" cy="641.5" r="2.7" fill="#228b22" fill-opacity="0.6"/>
<circle cx="347.3" cy="642.1" r="2.7" fill="#228b22" fill-opacity="0.6"/>
<circle cx="343.3" cy="643.8" r="2.7" fill="#228b22" fill-opacity="0.6"/>
<circle cx="357.7" cy="644.4" r="2.7" fill="#228b22" fill-opacity="0.6"/>
<circle cx="340.4" cy="646.7" r="2.7" fill="#228b22" fill-opacity="0.6"/>
<circle cx="345.0" cy="648.5" r="2.7" fill="#228b22" fill-opacity="0.6"/>
<circle cx="368.7" cy="649.0" r="2.7" fill="#228b22" fill-opacity="0.6"/>
<circle cx="341.0" cy="651.9" r="2.7" fill="#228b22" fill-opacity="0.6"/>
<circle cx="342.7" cy="656.0" r="2.7" fill="#228b22" fill-opacity="0.6"/>
<circle cx="361.7" cy="656.0" r="2.7" fill="#228b22" fill-opacity="0.6"/>
<circle cx="339.8" cy="659.4" r="2.7" fill="#228b22" fill-opacity="0.6"/>
<circle cx="351.0" cy="640.0" r="2.7" fill="#228b22" fill-opacity="0.6"/>
<circle cx="346.0" cy="639.0" r="2.7" fill="#228b22" fill-opacity="0.6"/>
<circle cx="352.0" cy="646.0" r="2.7" fill="#228b22" fill-opacity="0.6"/>
<circle cx="348.0" cy="650.0" r="2.7" fill="#228b22" fill-opacity="0.6"/>
<circle cx="344.0" cy="653.0" r="2.7" fill="#228b22" fill-opacity="0.6"/>
<circle cx="340.0" cy="655.0" r="2.7" fill="#228b22" fill-opacity="0.6"/>
<circle cx="357.0" cy="637.0" r="2.7" fill="#228b22" fill-opacity="0.6"/>
<circle cx="363.0" cy="634.0" r="2.7" fill="#228b22" fill-opacity="0.6"/>
<circle cx="371.0" cy="628.0" r="2.7" fill="#228b22" fill-opacity="0.6"/>
<circle cx="350.0" cy="644.0" r="2.7" fill="#228b22" fill-opacity="0.6"/>
<circle cx="345.0" cy="645.0" r="2.7" fill="#228b22" fill-opacity="0.6"/>
<circle cx="341.0" cy="648.5" r="2.7" fill="#228b22" fill-opacity="0.6"/>
<circle cx="339.8" cy="650.0" r="2.7" fill="#228b22" fill-opacity="0.6"/>
<circle cx="352.0" cy="632.0" r="2.7" fill="#228b22" fill-opacity="0.6"/>
<circle cx="358.0" cy="630.0" r="2.7" fill="#228b22" fill-opacity="0.6"/>
<circle cx="355.0" cy="636.0" r="2.7" fill="#228b22" fill-opacity="0.6"/>
<circle cx="362.0" cy="633.0" r="2.7" fill="#228b22" fill-opacity="0.6"/>
<circle cx="348.0" cy="640.0" r="2.7" fill="#228b22" fill-opacity="0.6"/>
<circle cx="344.0" cy="646.0" r="2.7" fill="#228b22" fill-opacity="0.6"/>
<circle cx="350.0" cy="648.0" r="2.7" fill="#228b22" fill-opacity="0.6"/>
<circle cx="340.0" cy="644.0" r="2.7" fill="#228b22" fill-opacity="0.6"/>
<circle cx="347.0" cy="652.0" r="2.7" fill="#228b22" fill-opacity="0.6"/>
<circle cx="223.8" cy="578.2" r="2.7" fill="#4169e1" fill-opacity="0.45"/>
<circle cx="228.3" cy="618.8" r="2.7" fill="#4169e1" fill-opacity="0.45"/>
<circle cx="225.8" cy="620.6" r="2.7" fill="#4169e1" fill-opacity="0.45"/>
<line x1="218.45" y1="419.50" x2="218.45" y2="689.60" stroke="#333" stroke-width="1.3" stroke-dasharray="5.4 2.8"/>
<line x1="337.35" y1="419.50" x2="337.35" y2="689.60" stroke="#333" stroke-width="1.3" stroke-dasharray="5.4 2.8"/>
<line x1="71.10" y1="624.20" x2="486.90" y2="624.20" stroke="#333" stroke-width="1.3" stroke-dasharray="5.4 2.8"/>
<line x1="70.30" y1="417.70" x2="70.30" y2="690.30" stroke="#161616" stroke-width="1.5" />
<line x1="69.60" y1="689.60" x2="486.90" y2="689.60" stroke="#161616" stroke-width="1.5" />
<line x1="65.60" y1="677.70" x2="70.30" y2="677.70" stroke="#161616" stroke-width="1.2" />
<text x="54.04" y="681.80" font-size="12" font-weight="normal" font-style="normal" fill="#222222" stroke="#222222" stroke-width="0.3" textLength="6.67" lengthAdjust="spacingAndGlyphs" >0</text>
<line x1="65.60" y1="595.20" x2="70.30" y2="595.20" stroke="#161616" stroke-width="1.2" />
<text x="54.04" y="599.30" font-size="12" font-weight="normal" font-style="normal" fill="#222222" stroke="#222222" stroke-width="0.3" textLength="6.67" lengthAdjust="spacingAndGlyphs" >2</text>
<line x1="65.60" y1="512.70" x2="70.30" y2="512.70" stroke="#161616" stroke-width="1.2" />
<text x="54.04" y="516.80" font-size="12" font-weight="normal" font-style="normal" fill="#222222" stroke="#222222" stroke-width="0.3" textLength="6.67" lengthAdjust="spacingAndGlyphs" >4</text>
<line x1="65.60" y1="430.20" x2="70.30" y2="430.20" stroke="#161616" stroke-width="1.2" />
<text x="54.04" y="434.30" font-size="12" font-weight="normal" font-style="normal" fill="#222222" stroke="#222222" stroke-width="0.3" textLength="6.67" lengthAdjust="spacingAndGlyphs" >6</text>
<line x1="159.00" y1="689.60" x2="159.00" y2="694.30" stroke="#161616" stroke-width="1.2" />
<text x="153.56" y="710.00" font-size="12" font-weight="normal" font-style="normal" fill="#222222" stroke="#222222" stroke-width="0.3" textLength="10.67" lengthAdjust="spacingAndGlyphs" >-2</text>
<line x1="277.90" y1="689.60" x2="277.90" y2="694.30" stroke="#161616" stroke-width="1.2" />
<text x="274.57" y="710.00" font-size="12" font-weight="normal" font-style="normal" fill="#222222" stroke="#222222" stroke-width="0.3" textLength="6.67" lengthAdjust="spacingAndGlyphs" >0</text>
<line x1="396.80" y1="689.60" x2="396.80" y2="694.30" stroke="#161616" stroke-width="1.2" />
<text x="393.47" y="710.00" font-size="12" font-weight="normal" font-style="normal" fill="#222222" stroke="#222222" stroke-width="0.3" textLength="6.67" lengthAdjust="spacingAndGlyphs" >2</text>
<g transform="translate(240.6,729.9) scale(0.715,1)"><text x="0" y="0" font-size="14" fill="#111" stroke="#111" stroke-width="0.35">Log<tspan font-size="9" dy="4.2">2</tspan><tspan dy="-4.2"> fold change</tspan></text></g>
<text x="348.80" y="414.10" font-size="12" font-weight="normal" font-style="normal" fill="#222222" stroke="#222222" stroke-width="0.3" textLength="101.97" lengthAdjust="spacingAndGlyphs" >1633 total variables</text>
<circle cx="85.4" cy="749.2" r="5.1" fill="#c3c3c7"/>
<circle cx="140.9" cy="749.2" r="5.0" fill="#3f9f40"/>
<circle cx="227.0" cy="749.2" r="5.1" fill="#9eaee0"/>
<circle cx="311.8" cy="749.2" r="5.1" fill="#e2262e"/>
<text x="104.70" y="753.30" font-size="12" font-weight="normal" font-style="normal" fill="#222222" stroke="#222222" stroke-width="0.3" textLength="16.59" lengthAdjust="spacingAndGlyphs" >NS</text>
<text x="161.3" y="753.3" font-size="12" fill="#222222" stroke="#222222" stroke-width="0.3">Log<tspan font-size="8" dy="3">2</tspan><tspan dy="-3"> FC</tspan></text>
<text x="244.6" y="753.3" font-size="12" fill="#222222" stroke="#222222" stroke-width="0.3"><tspan font-style="italic">P</tspan>-value</text>
<text x="325.4" y="753.3" font-size="12" fill="#222222" stroke="#222222" stroke-width="0.3"><tspan font-style="italic">P</tspan>-value and log<tspan font-size="8" dy="3">2</tspan><tspan dy="-3"> FC</tspan></text>
<text x="13.10" y="525.70" font-size="10.5" font-weight="normal" font-style="normal" fill="#1e1e1e" stroke="#1e1e1e" stroke-width="0.3" textLength="213.40" lengthAdjust="spacingAndGlyphs" >Bifidobacterium.pseudocatenulatum.CAG.263</text>
<text x="41.90" y="543.40" font-size="10.5" font-weight="normal" font-style="normal" fill="#1e1e1e" stroke="#1e1e1e" stroke-width="0.3" textLength="154.51" lengthAdjust="spacingAndGlyphs" >Parabacteroides.merdae.CAG.48</text>
<text x="93.80" y="556.00" font-size="10.5" font-weight="normal" font-style="normal" fill="#1e1e1e" stroke="#1e1e1e" stroke-width="0.3" textLength="130.60" lengthAdjust="spacingAndGlyphs" >Bacteroides.sp.UNK.MGS.14</text>
<text x="138.50" y="573.80" font-size="10.5" font-weight="normal" font-style="normal" fill="#1e1e1e" stroke="#1e1e1e" stroke-width="0.3" textLength="88.90" lengthAdjust="spacingAndGlyphs" >Bacteroides.ovatus</text>
<text x="141.40" y="591.00" font-size="10.5" font-weight="normal" font-style="normal" fill="#1e1e1e" stroke="#1e1e1e" stroke-width="0.3" textLength="101.38" lengthAdjust="spacingAndGlyphs" >Bacteroides.sp.1.1.30</text>
<text x="93.60" y="599.40" font-size="10.5" font-weight="normal" font-style="normal" fill="#1e1e1e" stroke="#1e1e1e" stroke-width="0.3" textLength="97.44" lengthAdjust="spacingAndGlyphs" >Abiotrophia.defectiva</text>
<text x="80.60" y="611.50" font-size="10.5" font-weight="normal" font-style="normal" fill="#1e1e1e" stroke="#1e1e1e" stroke-width="0.3" textLength="95.01" lengthAdjust="spacingAndGlyphs" >Alistipes.sp.AF48.12</text>
<text x="150.30" y="627.10" font-size="10.5" font-weight="normal" font-style="normal" fill="#1e1e1e" stroke="#1e1e1e" stroke-width="0.3" textLength="83.09" lengthAdjust="spacingAndGlyphs" >Alistipes.finegoldii</text>
<text x="393.20" y="466.80" font-size="10.5" font-weight="normal" font-style="normal" fill="#1e1e1e" stroke="#1e1e1e" stroke-width="0.3" textLength="116.51" lengthAdjust="spacingAndGlyphs" >Eggerthellales.bacterium</text>
<text x="400.30" y="478.80" font-size="10.5" font-weight="normal" font-style="normal" fill="#1e1e1e" stroke="#1e1e1e" stroke-width="0.3" textLength="76.62" lengthAdjust="spacingAndGlyphs" >Prevotella.brevis</text>
<text x="393.10" y="507.10" font-size="10.5" font-weight="normal" font-style="normal" fill="#1e1e1e" stroke="#1e1e1e" stroke-width="0.3" textLength="87.48" lengthAdjust="spacingAndGlyphs" >Prevotella.buccalis</text>
<text x="386.90" y="522.70" font-size="10.5" font-weight="normal" font-style="normal" fill="#1e1e1e" stroke="#1e1e1e" stroke-width="0.3" textLength="108.90" lengthAdjust="spacingAndGlyphs" >Campylobacter.showae</text>
<text x="397.70" y="532.90" font-size="10.5" font-weight="normal" font-style="normal" fill="#1e1e1e" stroke="#1e1e1e" stroke-width="0.3" textLength="105.42" lengthAdjust="spacingAndGlyphs" >Prevotella.sp.CAG.474</text>
<text x="374.80" y="541.30" font-size="10.5" font-weight="normal" font-style="normal" fill="#1e1e1e" stroke="#1e1e1e" stroke-width="0.3" textLength="82.09" lengthAdjust="spacingAndGlyphs" >Epichloe.festucae</text>
<text x="381.50" y="553.80" font-size="10.5" font-weight="normal" font-style="normal" fill="#1e1e1e" stroke="#1e1e1e" stroke-width="0.3" textLength="115.41" lengthAdjust="spacingAndGlyphs" >Bacteroides.sp.CAG.709</text>
<text x="352.80" y="570.00" font-size="10.5" font-weight="normal" font-style="normal" fill="#1e1e1e" stroke="#1e1e1e" stroke-width="0.3" textLength="116.68" lengthAdjust="spacingAndGlyphs" >Candida.ascalaphidarum</text>
<text x="340.40" y="586.30" font-size="10.5" font-weight="normal" font-style="normal" fill="#1e1e1e" stroke="#1e1e1e" stroke-width="0.3" textLength="145.62" lengthAdjust="spacingAndGlyphs" >Lactobacillus.sp.HMSC077C11</text>
<text x="353.00" y="594.10" font-size="10.5" font-weight="normal" font-style="normal" fill="#1e1e1e" stroke="#1e1e1e" stroke-width="0.3" textLength="113.39" lengthAdjust="spacingAndGlyphs" >Eggerthella.sp.CAG.298</text>
<text x="328.80" y="605.30" font-size="10.5" font-weight="normal" font-style="normal" fill="#1e1e1e" stroke="#1e1e1e" stroke-width="0.3" textLength="119.30" lengthAdjust="spacingAndGlyphs" >Anaerococcus.obesiensis</text>
<text x="330.40" y="619.80" font-size="10.5" font-weight="normal" font-style="normal" fill="#1e1e1e" stroke="#1e1e1e" stroke-width="0.3" textLength="114.91" lengthAdjust="spacingAndGlyphs" >Bacteroides.sp.CAG.545</text>
<circle cx="121.5" cy="522.1" r="2.7" fill="#ee0000" fill-opacity="0.42"/>
<circle cx="120.2" cy="539.1" r="2.7" fill="#ee0000" fill-opacity="0.42"/>
<circle cx="163.3" cy="553.1" r="2.7" fill="#ee0000" fill-opacity="0.42"/>
<circle cx="162.2" cy="572.7" r="2.7" fill="#ee0000" fill-opacity="0.42"/>
<circle cx="172.5" cy="572.7" r="2.7" fill="#ee0000" fill-opacity="0.42"/>
<circle cx="182.9" cy="570.5" r="2.7" fill="#ee0000" fill-opacity="0.42"/>
<circle cx="185.3" cy="576.0" r="2.7" fill="#ee0000" fill-opacity="0.56"/>
<circle cx="186.0" cy="579.9" r="2.7" fill="#ee0000" fill-opacity="0.56"/>
<circle cx="191.7" cy="582.5" r="2.7" fill="#ee0000" fill-opacity="0.42"/>
<circle cx="211.8" cy="581.6" r="2.7" fill="#ee0000" fill-opacity="0.56"/>
<circle cx="149.5" cy="584.2" r="2.7" fill="#ee0000" fill-opacity="0.42"/>
<circle cx="203.2" cy="586.8" r="2.7" fill="#ee0000" fill-opacity="0.42"/>
<circle cx="204.0" cy="592.0" r="2.7" fill="#ee0000" fill-opacity="0.42"/>
<circle cx="157.3" cy="592.0" r="2.7" fill="#ee0000" fill-opacity="0.42"/>
<circle cx="167.7" cy="592.9" r="2.7" fill="#ee0000" fill-opacity="0.42"/>
<circle cx="190.2" cy="596.3" r="2.7" fill="#ee0000" fill-opacity="0.42"/>
<circle cx="193.7" cy="601.5" r="2.7" fill="#ee0000" fill-opacity="0.56"/>
<circle cx="191.0" cy="601.5" r="2.7" fill="#ee0000" fill-opacity="0.56"/>
<circle cx="210.1" cy="601.5" r="2.7" fill="#ee0000" fill-opacity="0.56"/>
<circle cx="216.2" cy="605.9" r="2.7" fill="#ee0000" fill-opacity="0.56"/>
<circle cx="141.7" cy="599.8" r="2.7" fill="#ee0000" fill-opacity="0.42"/>
<circle cx="159.0" cy="603.3" r="2.7" fill="#ee0000" fill-opacity="0.42"/>
<circle cx="187.6" cy="611.9" r="2.7" fill="#ee0000" fill-opacity="0.56"/>
<circle cx="198.0" cy="608.5" r="2.7" fill="#ee0000" fill-opacity="0.56"/>
<circle cx="203.2" cy="608.5" r="2.7" fill="#ee0000" fill-opacity="0.56"/>
<circle cx="214.4" cy="610.2" r="2.7" fill="#ee0000" fill-opacity="0.56"/>
<circle cx="196.2" cy="615.4" r="2.7" fill="#ee0000" fill-opacity="0.56"/>
<circle cx="201.4" cy="617.1" r="2.7" fill="#ee0000" fill-opacity="0.56"/>
<circle cx="205.8" cy="618.8" r="2.7" fill="#ee0000" fill-opacity="0.42"/>
<circle cx="212.7" cy="615.4" r="2.7" fill="#ee0000" fill-opacity="0.56"/>
<circle cx="217.0" cy="617.1" r="2.7" fill="#ee0000" fill-opacity="0.56"/>
<circle cx="166.8" cy="617.1" r="2.7" fill="#ee0000" fill-opacity="0.56"/>
<circle cx="172.9" cy="611.9" r="2.7" fill="#ee0000" fill-opacity="0.42"/>
<circle cx="182.4" cy="619.7" r="2.7" fill="#ee0000" fill-opacity="0.42"/>
<circle cx="153.0" cy="618.8" r="2.7" fill="#ee0000" fill-opacity="0.42"/>
<circle cx="98.4" cy="604.1" r="2.7" fill="#ee0000" fill-opacity="0.42"/>
<circle cx="102.7" cy="615.4" r="2.7" fill="#ee0000" fill-opacity="0.56"/>
<circle cx="212.3" cy="581.9" r="2.7" fill="#ee0000" fill-opacity="0.56"/>
<circle cx="216.9" cy="605.3" r="2.7" fill="#ee0000" fill-opacity="0.56"/>
<circle cx="214.1" cy="611.7" r="2.7" fill="#ee0000" fill-opacity="0.56"/>
<circle cx="215.0" cy="616.2" r="2.7" fill="#ee0000" fill-opacity="0.56"/>
<circle cx="211.0" cy="601.6" r="2.7" fill="#ee0000" fill-opacity="0.56"/>
<circle cx="188.2" cy="612.9" r="2.7" fill="#ee0000" fill-opacity="0.56"/>
<circle cx="186.8" cy="623.7" r="2.7" fill="#ee0000" fill-opacity="0.42"/>
<circle cx="206.0" cy="613.5" r="2.7" fill="#ee0000" fill-opacity="0.56"/>
<circle cx="199.0" cy="611.0" r="2.7" fill="#ee0000" fill-opacity="0.56"/>
<circle cx="211.0" cy="607.0" r="2.7" fill="#ee0000" fill-opacity="0.56"/>
<circle cx="194.0" cy="606.0" r="2.7" fill="#ee0000" fill-opacity="0.56"/>
<circle cx="207.0" cy="603.5" r="2.7" fill="#ee0000" fill-opacity="0.56"/>
<circle cx="216.0" cy="600.0" r="2.7" fill="#ee0000" fill-opacity="0.56"/>
<circle cx="183.0" cy="608.0" r="2.7" fill="#ee0000" fill-opacity="0.56"/>
<circle cx="178.0" cy="622.0" r="2.7" fill="#ee0000" fill-opacity="0.42"/>
<circle cx="170.0" cy="620.5" r="2.7" fill="#ee0000" fill-opacity="0.42"/>
<circle cx="208.0" cy="620.5" r="2.7" fill="#ee0000" fill-opacity="0.42"/>
<circle cx="211.0" cy="622.0" r="2.7" fill="#ee0000" fill-opacity="0.42"/>
<circle cx="200.0" cy="621.5" r="2.7" fill="#ee0000" fill-opacity="0.42"/>
<circle cx="195.0" cy="620.0" r="2.7" fill="#ee0000" fill-opacity="0.42"/>
<circle cx="217.0" cy="621.5" r="2.7" fill="#ee0000" fill-opacity="0.42"/>
<circle cx="218.0" cy="613.0" r="2.7" fill="#ee0000" fill-opacity="0.56"/>
<circle cx="192.0" cy="619.0" r="2.7" fill="#ee0000" fill-opacity="0.42"/>
<circle cx="209.0" cy="612.0" r="2.7" fill="#ee0000" fill-opacity="0.56"/>
<circle cx="203.0" cy="623.0" r="2.7" fill="#ee0000" fill-opacity="0.42"/>
<circle cx="454.6" cy="463.8" r="2.7" fill="#ee0000" fill-opacity="0.42"/>
<circle cx="463.0" cy="463.0" r="2.7" fill="#ee0000" fill-opacity="0.42"/>
<circle cx="451.5" cy="475.4" r="2.7" fill="#ee0000" fill-opacity="0.42"/>
<circle cx="434.2" cy="504.2" r="2.7" fill="#ee0000" fill-opacity="0.42"/>
<circle cx="422.6" cy="514.3" r="2.7" fill="#ee0000" fill-opacity="0.42"/>
<circle cx="432.9" cy="514.3" r="2.7" fill="#ee0000" fill-opacity="0.42"/>
<circle cx="452.0" cy="514.4" r="2.7" fill="#ee0000" fill-opacity="0.42"/>
<circle cx="409.8" cy="521.0" r="2.7" fill="#ee0000" fill-opacity="0.42"/>
<circle cx="430.4" cy="521.3" r="2.7" fill="#ee0000" fill-opacity="0.42"/>
<circle cx="425.8" cy="529.6" r="2.7" fill="#ee0000" fill-opacity="0.42"/>
<circle cx="449.6" cy="531.2" r="2.7" fill="#ee0000" fill-opacity="0.42"/>
<circle cx="417.0" cy="538.1" r="2.7" fill="#ee0000" fill-opacity="0.42"/>
<circle cx="438.5" cy="549.5" r="2.7" fill="#ee0000" fill-opacity="0.42"/>
<circle cx="419.0" cy="557.0" r="2.7" fill="#ee0000" fill-opacity="0.56"/>
<circle cx="439.5" cy="550.1" r="2.7" fill="#ee0000" fill-opacity="0.42"/>
<circle cx="437.5" cy="571.6" r="2.7" fill="#ee0000" fill-opacity="0.42"/>
<circle cx="412.3" cy="567.3" r="2.7" fill="#ee0000" fill-opacity="0.42"/>
<circle cx="436.2" cy="571.2" r="2.7" fill="#ee0000" fill-opacity="0.42"/>
<circle cx="400.8" cy="580.4" r="2.7" fill="#ee0000" fill-opacity="0.42"/>
<circle cx="407.9" cy="578.1" r="2.7" fill="#ee0000" fill-opacity="0.42"/>
<circle cx="389.5" cy="592.7" r="2.7" fill="#ee0000" fill-opacity="0.42"/>
<circle cx="398.5" cy="594.2" r="2.7" fill="#ee0000" fill-opacity="0.42"/>
<circle cx="388.5" cy="600.4" r="2.7" fill="#ee0000" fill-opacity="0.42"/>
<circle cx="393.2" cy="602.7" r="2.7" fill="#ee0000" fill-opacity="0.42"/>
<circle cx="408.5" cy="603.5" r="2.7" fill="#ee0000" fill-opacity="0.42"/>
<circle cx="381.8" cy="608.6" r="2.7" fill="#ee0000" fill-opacity="0.56"/>
<circle cx="386.7" cy="611.6" r="2.7" fill="#ee0000" fill-opacity="0.42"/>
<circle cx="384.6" cy="614.2" r="2.7" fill="#ee0000" fill-opacity="0.42"/>
<circle cx="404.6" cy="615.2" r="2.7" fill="#ee0000" fill-opacity="0.42"/>
<circle cx="380.0" cy="617.3" r="2.7" fill="#ee0000" fill-opacity="0.42"/>
<circle cx="369.2" cy="621.9" r="2.7" fill="#ee0000" fill-opacity="0.56"/>
<circle cx="405.5" cy="599.0" r="2.7" fill="#ee0000" fill-opacity="0.42"/>
<circle cx="409.8" cy="605.0" r="2.7" fill="#ee0000" fill-opacity="0.42"/>
<circle cx="377.8" cy="618.8" r="2.7" fill="#ee0000" fill-opacity="0.42"/>
<circle cx="386.7" cy="605.4" r="2.7" fill="#ee0000" fill-opacity="0.42"/>
<circle cx="393.4" cy="606.7" r="2.7" fill="#ee0000" fill-opacity="0.42"/>
<circle cx="369.4" cy="623.6" r="2.7" fill="#ee0000" fill-opacity="0.56"/>
<circle cx="374.0" cy="620.0" r="2.7" fill="#ee0000" fill-opacity="0.42"/>
<circle cx="396.0" cy="598.0" r="2.7" fill="#ee0000" fill-opacity="0.42"/>
<circle cx="390.0" cy="607.0" r="2.7" fill="#ee0000" fill-opacity="0.42"/>
<rect x="0.5" y="0.5" width="519" height="764" fill="none" stroke="#1c1c1c" stroke-width="1"/>
</svg>
</body></html>
